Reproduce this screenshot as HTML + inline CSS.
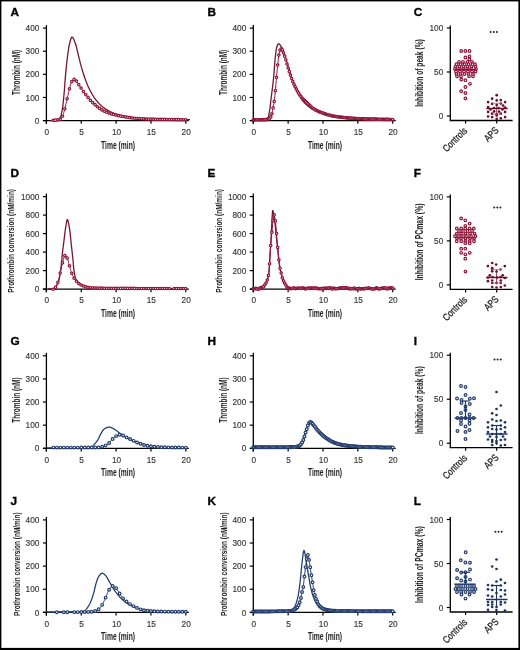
<!DOCTYPE html>
<html><head><meta charset="utf-8"><style>html,body{margin:0;padding:0;background:#fff;} svg{display:block;}</style></head>
<body><svg width="520" height="650" viewBox="0 0 520 650">
<defs><filter id="bl" x="0" y="0" width="520" height="650" filterUnits="userSpaceOnUse"><feGaussianBlur stdDeviation="0.3"/></filter></defs>
<rect width="520" height="650" fill="#fff"/>
<g filter="url(#bl)">
<text x="10.5" y="16.3" font-family="Liberation Sans" font-weight="bold" font-size="11.8" fill="#000" stroke="#000" stroke-width="0.35">A</text>
<text x="207.5" y="16.3" font-family="Liberation Sans" font-weight="bold" font-size="11.8" fill="#000" stroke="#000" stroke-width="0.35">B</text>
<text x="413.8" y="16.3" font-family="Liberation Sans" font-weight="bold" font-size="11.8" fill="#000" stroke="#000" stroke-width="0.35">C</text>
<text x="10.5" y="176.9" font-family="Liberation Sans" font-weight="bold" font-size="11.8" fill="#000" stroke="#000" stroke-width="0.35">D</text>
<text x="207.5" y="176.9" font-family="Liberation Sans" font-weight="bold" font-size="11.8" fill="#000" stroke="#000" stroke-width="0.35">E</text>
<text x="413.8" y="176.9" font-family="Liberation Sans" font-weight="bold" font-size="11.8" fill="#000" stroke="#000" stroke-width="0.35">F</text>
<text x="10.5" y="345" font-family="Liberation Sans" font-weight="bold" font-size="11.8" fill="#000" stroke="#000" stroke-width="0.35">G</text>
<text x="207.5" y="345" font-family="Liberation Sans" font-weight="bold" font-size="11.8" fill="#000" stroke="#000" stroke-width="0.35">H</text>
<text x="413.8" y="345" font-family="Liberation Sans" font-weight="bold" font-size="11.8" fill="#000" stroke="#000" stroke-width="0.35">I</text>
<text x="10.5" y="504.9" font-family="Liberation Sans" font-weight="bold" font-size="11.8" fill="#000" stroke="#000" stroke-width="0.35">J</text>
<text x="207.5" y="504.9" font-family="Liberation Sans" font-weight="bold" font-size="11.8" fill="#000" stroke="#000" stroke-width="0.35">K</text>
<text x="413.8" y="504.9" font-family="Liberation Sans" font-weight="bold" font-size="11.8" fill="#000" stroke="#000" stroke-width="0.35">L</text>
<line x1="46.4" y1="25.099999999999994" x2="46.4" y2="123.8" stroke="#000" stroke-width="1.3"/>
<line x1="42.9" y1="120.60" x2="46.4" y2="120.60" stroke="#000" stroke-width="1.2"/>
<text transform="translate(39.40,123.70) scale(0.92,1)" font-family="Liberation Sans" font-size="9" fill="#3a3a3a" stroke="#3a3a3a" stroke-width="0.18" text-anchor="end">0</text>
<line x1="42.9" y1="97.47" x2="46.4" y2="97.47" stroke="#000" stroke-width="1.2"/>
<text transform="translate(39.40,100.57) scale(0.92,1)" font-family="Liberation Sans" font-size="9" fill="#3a3a3a" stroke="#3a3a3a" stroke-width="0.18" text-anchor="end">100</text>
<line x1="42.9" y1="74.35" x2="46.4" y2="74.35" stroke="#000" stroke-width="1.2"/>
<text transform="translate(39.40,77.45) scale(0.92,1)" font-family="Liberation Sans" font-size="9" fill="#3a3a3a" stroke="#3a3a3a" stroke-width="0.18" text-anchor="end">200</text>
<line x1="42.9" y1="51.22" x2="46.4" y2="51.22" stroke="#000" stroke-width="1.2"/>
<text transform="translate(39.40,54.32) scale(0.92,1)" font-family="Liberation Sans" font-size="9" fill="#3a3a3a" stroke="#3a3a3a" stroke-width="0.18" text-anchor="end">300</text>
<line x1="42.9" y1="28.10" x2="46.4" y2="28.10" stroke="#000" stroke-width="1.2"/>
<text transform="translate(39.40,31.20) scale(0.92,1)" font-family="Liberation Sans" font-size="9" fill="#3a3a3a" stroke="#3a3a3a" stroke-width="0.18" text-anchor="end">400</text>
<line x1="42.9" y1="120.6" x2="188.8" y2="120.6" stroke="#000" stroke-width="1.3"/>
<line x1="46.40" y1="120.6" x2="46.40" y2="123.8" stroke="#000" stroke-width="1.2"/>
<text transform="translate(46.80,134.90) scale(0.92,1)" font-family="Liberation Sans" font-size="9" fill="#3a3a3a" stroke="#3a3a3a" stroke-width="0.18" text-anchor="middle">0</text>
<line x1="81.25" y1="120.6" x2="81.25" y2="123.8" stroke="#000" stroke-width="1.2"/>
<text transform="translate(81.65,134.90) scale(0.92,1)" font-family="Liberation Sans" font-size="9" fill="#3a3a3a" stroke="#3a3a3a" stroke-width="0.18" text-anchor="middle">5</text>
<line x1="116.10" y1="120.6" x2="116.10" y2="123.8" stroke="#000" stroke-width="1.2"/>
<text transform="translate(116.50,134.90) scale(0.92,1)" font-family="Liberation Sans" font-size="9" fill="#3a3a3a" stroke="#3a3a3a" stroke-width="0.18" text-anchor="middle">10</text>
<line x1="150.95" y1="120.6" x2="150.95" y2="123.8" stroke="#000" stroke-width="1.2"/>
<text transform="translate(151.35,134.90) scale(0.92,1)" font-family="Liberation Sans" font-size="9" fill="#3a3a3a" stroke="#3a3a3a" stroke-width="0.18" text-anchor="middle">15</text>
<line x1="185.80" y1="120.6" x2="185.80" y2="123.8" stroke="#000" stroke-width="1.2"/>
<text transform="translate(186.20,134.90) scale(0.92,1)" font-family="Liberation Sans" font-size="9" fill="#3a3a3a" stroke="#3a3a3a" stroke-width="0.18" text-anchor="middle">20</text>
<text transform="translate(118.10,148.60) scale(0.677,1)" font-family="Liberation Sans" font-size="10" font-weight="bold" fill="#222" text-anchor="middle">Time (min)</text>
<text transform="translate(20.30,72.35) rotate(-90) scale(0.647,1)" font-family="Liberation Sans" font-size="10" font-weight="bold" fill="#222" text-anchor="middle">Thrombin (nM)</text>
<line x1="253.3" y1="25.099999999999994" x2="253.3" y2="123.8" stroke="#000" stroke-width="1.3"/>
<line x1="249.8" y1="120.60" x2="253.3" y2="120.60" stroke="#000" stroke-width="1.2"/>
<text transform="translate(246.30,123.70) scale(0.92,1)" font-family="Liberation Sans" font-size="9" fill="#3a3a3a" stroke="#3a3a3a" stroke-width="0.18" text-anchor="end">0</text>
<line x1="249.8" y1="97.47" x2="253.3" y2="97.47" stroke="#000" stroke-width="1.2"/>
<text transform="translate(246.30,100.57) scale(0.92,1)" font-family="Liberation Sans" font-size="9" fill="#3a3a3a" stroke="#3a3a3a" stroke-width="0.18" text-anchor="end">100</text>
<line x1="249.8" y1="74.35" x2="253.3" y2="74.35" stroke="#000" stroke-width="1.2"/>
<text transform="translate(246.30,77.45) scale(0.92,1)" font-family="Liberation Sans" font-size="9" fill="#3a3a3a" stroke="#3a3a3a" stroke-width="0.18" text-anchor="end">200</text>
<line x1="249.8" y1="51.22" x2="253.3" y2="51.22" stroke="#000" stroke-width="1.2"/>
<text transform="translate(246.30,54.32) scale(0.92,1)" font-family="Liberation Sans" font-size="9" fill="#3a3a3a" stroke="#3a3a3a" stroke-width="0.18" text-anchor="end">300</text>
<line x1="249.8" y1="28.10" x2="253.3" y2="28.10" stroke="#000" stroke-width="1.2"/>
<text transform="translate(246.30,31.20) scale(0.92,1)" font-family="Liberation Sans" font-size="9" fill="#3a3a3a" stroke="#3a3a3a" stroke-width="0.18" text-anchor="end">400</text>
<line x1="249.8" y1="120.6" x2="395.70000000000005" y2="120.6" stroke="#000" stroke-width="1.3"/>
<line x1="253.30" y1="120.6" x2="253.30" y2="123.8" stroke="#000" stroke-width="1.2"/>
<text transform="translate(253.70,134.90) scale(0.92,1)" font-family="Liberation Sans" font-size="9" fill="#3a3a3a" stroke="#3a3a3a" stroke-width="0.18" text-anchor="middle">0</text>
<line x1="288.15" y1="120.6" x2="288.15" y2="123.8" stroke="#000" stroke-width="1.2"/>
<text transform="translate(288.55,134.90) scale(0.92,1)" font-family="Liberation Sans" font-size="9" fill="#3a3a3a" stroke="#3a3a3a" stroke-width="0.18" text-anchor="middle">5</text>
<line x1="323.00" y1="120.6" x2="323.00" y2="123.8" stroke="#000" stroke-width="1.2"/>
<text transform="translate(323.40,134.90) scale(0.92,1)" font-family="Liberation Sans" font-size="9" fill="#3a3a3a" stroke="#3a3a3a" stroke-width="0.18" text-anchor="middle">10</text>
<line x1="357.85" y1="120.6" x2="357.85" y2="123.8" stroke="#000" stroke-width="1.2"/>
<text transform="translate(358.25,134.90) scale(0.92,1)" font-family="Liberation Sans" font-size="9" fill="#3a3a3a" stroke="#3a3a3a" stroke-width="0.18" text-anchor="middle">15</text>
<line x1="392.70" y1="120.6" x2="392.70" y2="123.8" stroke="#000" stroke-width="1.2"/>
<text transform="translate(393.10,134.90) scale(0.92,1)" font-family="Liberation Sans" font-size="9" fill="#3a3a3a" stroke="#3a3a3a" stroke-width="0.18" text-anchor="middle">20</text>
<text transform="translate(325.00,148.60) scale(0.677,1)" font-family="Liberation Sans" font-size="10" font-weight="bold" fill="#222" text-anchor="middle">Time (min)</text>
<text transform="translate(227.30,72.35) rotate(-90) scale(0.647,1)" font-family="Liberation Sans" font-size="10" font-weight="bold" fill="#222" text-anchor="middle">Thrombin (nM)</text>
<line x1="46.4" y1="193.60000000000002" x2="46.4" y2="292.3" stroke="#000" stroke-width="1.3"/>
<line x1="42.9" y1="289.10" x2="46.4" y2="289.10" stroke="#000" stroke-width="1.2"/>
<text transform="translate(39.40,292.20) scale(0.92,1)" font-family="Liberation Sans" font-size="9" fill="#3a3a3a" stroke="#3a3a3a" stroke-width="0.18" text-anchor="end">0</text>
<line x1="42.9" y1="270.60" x2="46.4" y2="270.60" stroke="#000" stroke-width="1.2"/>
<text transform="translate(39.40,273.70) scale(0.92,1)" font-family="Liberation Sans" font-size="9" fill="#3a3a3a" stroke="#3a3a3a" stroke-width="0.18" text-anchor="end">200</text>
<line x1="42.9" y1="252.10" x2="46.4" y2="252.10" stroke="#000" stroke-width="1.2"/>
<text transform="translate(39.40,255.20) scale(0.92,1)" font-family="Liberation Sans" font-size="9" fill="#3a3a3a" stroke="#3a3a3a" stroke-width="0.18" text-anchor="end">400</text>
<line x1="42.9" y1="233.60" x2="46.4" y2="233.60" stroke="#000" stroke-width="1.2"/>
<text transform="translate(39.40,236.70) scale(0.92,1)" font-family="Liberation Sans" font-size="9" fill="#3a3a3a" stroke="#3a3a3a" stroke-width="0.18" text-anchor="end">600</text>
<line x1="42.9" y1="215.10" x2="46.4" y2="215.10" stroke="#000" stroke-width="1.2"/>
<text transform="translate(39.40,218.20) scale(0.92,1)" font-family="Liberation Sans" font-size="9" fill="#3a3a3a" stroke="#3a3a3a" stroke-width="0.18" text-anchor="end">800</text>
<line x1="42.9" y1="196.60" x2="46.4" y2="196.60" stroke="#000" stroke-width="1.2"/>
<text transform="translate(39.40,199.70) scale(0.92,1)" font-family="Liberation Sans" font-size="9" fill="#3a3a3a" stroke="#3a3a3a" stroke-width="0.18" text-anchor="end">1000</text>
<line x1="42.9" y1="289.1" x2="188.8" y2="289.1" stroke="#000" stroke-width="1.3"/>
<line x1="46.40" y1="289.1" x2="46.40" y2="292.3" stroke="#000" stroke-width="1.2"/>
<text transform="translate(46.80,303.40) scale(0.92,1)" font-family="Liberation Sans" font-size="9" fill="#3a3a3a" stroke="#3a3a3a" stroke-width="0.18" text-anchor="middle">0</text>
<line x1="81.25" y1="289.1" x2="81.25" y2="292.3" stroke="#000" stroke-width="1.2"/>
<text transform="translate(81.65,303.40) scale(0.92,1)" font-family="Liberation Sans" font-size="9" fill="#3a3a3a" stroke="#3a3a3a" stroke-width="0.18" text-anchor="middle">5</text>
<line x1="116.10" y1="289.1" x2="116.10" y2="292.3" stroke="#000" stroke-width="1.2"/>
<text transform="translate(116.50,303.40) scale(0.92,1)" font-family="Liberation Sans" font-size="9" fill="#3a3a3a" stroke="#3a3a3a" stroke-width="0.18" text-anchor="middle">10</text>
<line x1="150.95" y1="289.1" x2="150.95" y2="292.3" stroke="#000" stroke-width="1.2"/>
<text transform="translate(151.35,303.40) scale(0.92,1)" font-family="Liberation Sans" font-size="9" fill="#3a3a3a" stroke="#3a3a3a" stroke-width="0.18" text-anchor="middle">15</text>
<line x1="185.80" y1="289.1" x2="185.80" y2="292.3" stroke="#000" stroke-width="1.2"/>
<text transform="translate(186.20,303.40) scale(0.92,1)" font-family="Liberation Sans" font-size="9" fill="#3a3a3a" stroke="#3a3a3a" stroke-width="0.18" text-anchor="middle">20</text>
<text transform="translate(118.10,317.10) scale(0.677,1)" font-family="Liberation Sans" font-size="10" font-weight="bold" fill="#222" text-anchor="middle">Time (min)</text>
<text transform="translate(14.40,240.85) rotate(-90) scale(0.718,1)" font-family="Liberation Sans" font-size="9" font-weight="bold" fill="#222" text-anchor="middle">Prothrombin conversion (nM/min)</text>
<line x1="253.3" y1="193.60000000000002" x2="253.3" y2="292.3" stroke="#000" stroke-width="1.3"/>
<line x1="249.8" y1="289.10" x2="253.3" y2="289.10" stroke="#000" stroke-width="1.2"/>
<text transform="translate(246.30,292.20) scale(0.92,1)" font-family="Liberation Sans" font-size="9" fill="#3a3a3a" stroke="#3a3a3a" stroke-width="0.18" text-anchor="end">0</text>
<line x1="249.8" y1="270.60" x2="253.3" y2="270.60" stroke="#000" stroke-width="1.2"/>
<text transform="translate(246.30,273.70) scale(0.92,1)" font-family="Liberation Sans" font-size="9" fill="#3a3a3a" stroke="#3a3a3a" stroke-width="0.18" text-anchor="end">200</text>
<line x1="249.8" y1="252.10" x2="253.3" y2="252.10" stroke="#000" stroke-width="1.2"/>
<text transform="translate(246.30,255.20) scale(0.92,1)" font-family="Liberation Sans" font-size="9" fill="#3a3a3a" stroke="#3a3a3a" stroke-width="0.18" text-anchor="end">400</text>
<line x1="249.8" y1="233.60" x2="253.3" y2="233.60" stroke="#000" stroke-width="1.2"/>
<text transform="translate(246.30,236.70) scale(0.92,1)" font-family="Liberation Sans" font-size="9" fill="#3a3a3a" stroke="#3a3a3a" stroke-width="0.18" text-anchor="end">600</text>
<line x1="249.8" y1="215.10" x2="253.3" y2="215.10" stroke="#000" stroke-width="1.2"/>
<text transform="translate(246.30,218.20) scale(0.92,1)" font-family="Liberation Sans" font-size="9" fill="#3a3a3a" stroke="#3a3a3a" stroke-width="0.18" text-anchor="end">800</text>
<line x1="249.8" y1="196.60" x2="253.3" y2="196.60" stroke="#000" stroke-width="1.2"/>
<text transform="translate(246.30,199.70) scale(0.92,1)" font-family="Liberation Sans" font-size="9" fill="#3a3a3a" stroke="#3a3a3a" stroke-width="0.18" text-anchor="end">1000</text>
<line x1="249.8" y1="289.1" x2="395.70000000000005" y2="289.1" stroke="#000" stroke-width="1.3"/>
<line x1="253.30" y1="289.1" x2="253.30" y2="292.3" stroke="#000" stroke-width="1.2"/>
<text transform="translate(253.70,303.40) scale(0.92,1)" font-family="Liberation Sans" font-size="9" fill="#3a3a3a" stroke="#3a3a3a" stroke-width="0.18" text-anchor="middle">0</text>
<line x1="288.15" y1="289.1" x2="288.15" y2="292.3" stroke="#000" stroke-width="1.2"/>
<text transform="translate(288.55,303.40) scale(0.92,1)" font-family="Liberation Sans" font-size="9" fill="#3a3a3a" stroke="#3a3a3a" stroke-width="0.18" text-anchor="middle">5</text>
<line x1="323.00" y1="289.1" x2="323.00" y2="292.3" stroke="#000" stroke-width="1.2"/>
<text transform="translate(323.40,303.40) scale(0.92,1)" font-family="Liberation Sans" font-size="9" fill="#3a3a3a" stroke="#3a3a3a" stroke-width="0.18" text-anchor="middle">10</text>
<line x1="357.85" y1="289.1" x2="357.85" y2="292.3" stroke="#000" stroke-width="1.2"/>
<text transform="translate(358.25,303.40) scale(0.92,1)" font-family="Liberation Sans" font-size="9" fill="#3a3a3a" stroke="#3a3a3a" stroke-width="0.18" text-anchor="middle">15</text>
<line x1="392.70" y1="289.1" x2="392.70" y2="292.3" stroke="#000" stroke-width="1.2"/>
<text transform="translate(393.10,303.40) scale(0.92,1)" font-family="Liberation Sans" font-size="9" fill="#3a3a3a" stroke="#3a3a3a" stroke-width="0.18" text-anchor="middle">20</text>
<text transform="translate(325.00,317.10) scale(0.677,1)" font-family="Liberation Sans" font-size="10" font-weight="bold" fill="#222" text-anchor="middle">Time (min)</text>
<text transform="translate(221.60,240.85) rotate(-90) scale(0.718,1)" font-family="Liberation Sans" font-size="9" font-weight="bold" fill="#222" text-anchor="middle">Prothrombin conversion (nM/min)</text>
<line x1="46.4" y1="352.8" x2="46.4" y2="451.5" stroke="#000" stroke-width="1.3"/>
<line x1="42.9" y1="448.30" x2="46.4" y2="448.30" stroke="#000" stroke-width="1.2"/>
<text transform="translate(39.40,451.40) scale(0.92,1)" font-family="Liberation Sans" font-size="9" fill="#3a3a3a" stroke="#3a3a3a" stroke-width="0.18" text-anchor="end">0</text>
<line x1="42.9" y1="425.18" x2="46.4" y2="425.18" stroke="#000" stroke-width="1.2"/>
<text transform="translate(39.40,428.28) scale(0.92,1)" font-family="Liberation Sans" font-size="9" fill="#3a3a3a" stroke="#3a3a3a" stroke-width="0.18" text-anchor="end">100</text>
<line x1="42.9" y1="402.05" x2="46.4" y2="402.05" stroke="#000" stroke-width="1.2"/>
<text transform="translate(39.40,405.15) scale(0.92,1)" font-family="Liberation Sans" font-size="9" fill="#3a3a3a" stroke="#3a3a3a" stroke-width="0.18" text-anchor="end">200</text>
<line x1="42.9" y1="378.93" x2="46.4" y2="378.93" stroke="#000" stroke-width="1.2"/>
<text transform="translate(39.40,382.03) scale(0.92,1)" font-family="Liberation Sans" font-size="9" fill="#3a3a3a" stroke="#3a3a3a" stroke-width="0.18" text-anchor="end">300</text>
<line x1="42.9" y1="355.80" x2="46.4" y2="355.80" stroke="#000" stroke-width="1.2"/>
<text transform="translate(39.40,358.90) scale(0.92,1)" font-family="Liberation Sans" font-size="9" fill="#3a3a3a" stroke="#3a3a3a" stroke-width="0.18" text-anchor="end">400</text>
<line x1="42.9" y1="448.3" x2="188.8" y2="448.3" stroke="#000" stroke-width="1.3"/>
<line x1="46.40" y1="448.3" x2="46.40" y2="451.5" stroke="#000" stroke-width="1.2"/>
<text transform="translate(46.80,462.60) scale(0.92,1)" font-family="Liberation Sans" font-size="9" fill="#3a3a3a" stroke="#3a3a3a" stroke-width="0.18" text-anchor="middle">0</text>
<line x1="81.25" y1="448.3" x2="81.25" y2="451.5" stroke="#000" stroke-width="1.2"/>
<text transform="translate(81.65,462.60) scale(0.92,1)" font-family="Liberation Sans" font-size="9" fill="#3a3a3a" stroke="#3a3a3a" stroke-width="0.18" text-anchor="middle">5</text>
<line x1="116.10" y1="448.3" x2="116.10" y2="451.5" stroke="#000" stroke-width="1.2"/>
<text transform="translate(116.50,462.60) scale(0.92,1)" font-family="Liberation Sans" font-size="9" fill="#3a3a3a" stroke="#3a3a3a" stroke-width="0.18" text-anchor="middle">10</text>
<line x1="150.95" y1="448.3" x2="150.95" y2="451.5" stroke="#000" stroke-width="1.2"/>
<text transform="translate(151.35,462.60) scale(0.92,1)" font-family="Liberation Sans" font-size="9" fill="#3a3a3a" stroke="#3a3a3a" stroke-width="0.18" text-anchor="middle">15</text>
<line x1="185.80" y1="448.3" x2="185.80" y2="451.5" stroke="#000" stroke-width="1.2"/>
<text transform="translate(186.20,462.60) scale(0.92,1)" font-family="Liberation Sans" font-size="9" fill="#3a3a3a" stroke="#3a3a3a" stroke-width="0.18" text-anchor="middle">20</text>
<text transform="translate(118.10,476.30) scale(0.677,1)" font-family="Liberation Sans" font-size="10" font-weight="bold" fill="#222" text-anchor="middle">Time (min)</text>
<text transform="translate(20.30,400.05) rotate(-90) scale(0.647,1)" font-family="Liberation Sans" font-size="10" font-weight="bold" fill="#222" text-anchor="middle">Thrombin (nM)</text>
<line x1="253.3" y1="352.8" x2="253.3" y2="451.5" stroke="#000" stroke-width="1.3"/>
<line x1="249.8" y1="448.30" x2="253.3" y2="448.30" stroke="#000" stroke-width="1.2"/>
<text transform="translate(246.30,451.40) scale(0.92,1)" font-family="Liberation Sans" font-size="9" fill="#3a3a3a" stroke="#3a3a3a" stroke-width="0.18" text-anchor="end">0</text>
<line x1="249.8" y1="425.18" x2="253.3" y2="425.18" stroke="#000" stroke-width="1.2"/>
<text transform="translate(246.30,428.28) scale(0.92,1)" font-family="Liberation Sans" font-size="9" fill="#3a3a3a" stroke="#3a3a3a" stroke-width="0.18" text-anchor="end">100</text>
<line x1="249.8" y1="402.05" x2="253.3" y2="402.05" stroke="#000" stroke-width="1.2"/>
<text transform="translate(246.30,405.15) scale(0.92,1)" font-family="Liberation Sans" font-size="9" fill="#3a3a3a" stroke="#3a3a3a" stroke-width="0.18" text-anchor="end">200</text>
<line x1="249.8" y1="378.93" x2="253.3" y2="378.93" stroke="#000" stroke-width="1.2"/>
<text transform="translate(246.30,382.03) scale(0.92,1)" font-family="Liberation Sans" font-size="9" fill="#3a3a3a" stroke="#3a3a3a" stroke-width="0.18" text-anchor="end">300</text>
<line x1="249.8" y1="355.80" x2="253.3" y2="355.80" stroke="#000" stroke-width="1.2"/>
<text transform="translate(246.30,358.90) scale(0.92,1)" font-family="Liberation Sans" font-size="9" fill="#3a3a3a" stroke="#3a3a3a" stroke-width="0.18" text-anchor="end">400</text>
<line x1="249.8" y1="448.3" x2="395.70000000000005" y2="448.3" stroke="#000" stroke-width="1.3"/>
<line x1="253.30" y1="448.3" x2="253.30" y2="451.5" stroke="#000" stroke-width="1.2"/>
<text transform="translate(253.70,462.60) scale(0.92,1)" font-family="Liberation Sans" font-size="9" fill="#3a3a3a" stroke="#3a3a3a" stroke-width="0.18" text-anchor="middle">0</text>
<line x1="288.15" y1="448.3" x2="288.15" y2="451.5" stroke="#000" stroke-width="1.2"/>
<text transform="translate(288.55,462.60) scale(0.92,1)" font-family="Liberation Sans" font-size="9" fill="#3a3a3a" stroke="#3a3a3a" stroke-width="0.18" text-anchor="middle">5</text>
<line x1="323.00" y1="448.3" x2="323.00" y2="451.5" stroke="#000" stroke-width="1.2"/>
<text transform="translate(323.40,462.60) scale(0.92,1)" font-family="Liberation Sans" font-size="9" fill="#3a3a3a" stroke="#3a3a3a" stroke-width="0.18" text-anchor="middle">10</text>
<line x1="357.85" y1="448.3" x2="357.85" y2="451.5" stroke="#000" stroke-width="1.2"/>
<text transform="translate(358.25,462.60) scale(0.92,1)" font-family="Liberation Sans" font-size="9" fill="#3a3a3a" stroke="#3a3a3a" stroke-width="0.18" text-anchor="middle">15</text>
<line x1="392.70" y1="448.3" x2="392.70" y2="451.5" stroke="#000" stroke-width="1.2"/>
<text transform="translate(393.10,462.60) scale(0.92,1)" font-family="Liberation Sans" font-size="9" fill="#3a3a3a" stroke="#3a3a3a" stroke-width="0.18" text-anchor="middle">20</text>
<text transform="translate(325.00,476.30) scale(0.677,1)" font-family="Liberation Sans" font-size="10" font-weight="bold" fill="#222" text-anchor="middle">Time (min)</text>
<text transform="translate(227.30,400.05) rotate(-90) scale(0.647,1)" font-family="Liberation Sans" font-size="10" font-weight="bold" fill="#222" text-anchor="middle">Thrombin (nM)</text>
<line x1="46.4" y1="516.9" x2="46.4" y2="615.6" stroke="#000" stroke-width="1.3"/>
<line x1="42.9" y1="612.40" x2="46.4" y2="612.40" stroke="#000" stroke-width="1.2"/>
<text transform="translate(39.40,615.50) scale(0.92,1)" font-family="Liberation Sans" font-size="9" fill="#3a3a3a" stroke="#3a3a3a" stroke-width="0.18" text-anchor="end">0</text>
<line x1="42.9" y1="589.27" x2="46.4" y2="589.27" stroke="#000" stroke-width="1.2"/>
<text transform="translate(39.40,592.38) scale(0.92,1)" font-family="Liberation Sans" font-size="9" fill="#3a3a3a" stroke="#3a3a3a" stroke-width="0.18" text-anchor="end">100</text>
<line x1="42.9" y1="566.15" x2="46.4" y2="566.15" stroke="#000" stroke-width="1.2"/>
<text transform="translate(39.40,569.25) scale(0.92,1)" font-family="Liberation Sans" font-size="9" fill="#3a3a3a" stroke="#3a3a3a" stroke-width="0.18" text-anchor="end">200</text>
<line x1="42.9" y1="543.02" x2="46.4" y2="543.02" stroke="#000" stroke-width="1.2"/>
<text transform="translate(39.40,546.12) scale(0.92,1)" font-family="Liberation Sans" font-size="9" fill="#3a3a3a" stroke="#3a3a3a" stroke-width="0.18" text-anchor="end">300</text>
<line x1="42.9" y1="519.90" x2="46.4" y2="519.90" stroke="#000" stroke-width="1.2"/>
<text transform="translate(39.40,523.00) scale(0.92,1)" font-family="Liberation Sans" font-size="9" fill="#3a3a3a" stroke="#3a3a3a" stroke-width="0.18" text-anchor="end">400</text>
<line x1="42.9" y1="612.4" x2="188.8" y2="612.4" stroke="#000" stroke-width="1.3"/>
<line x1="46.40" y1="612.4" x2="46.40" y2="615.6" stroke="#000" stroke-width="1.2"/>
<text transform="translate(46.80,626.70) scale(0.92,1)" font-family="Liberation Sans" font-size="9" fill="#3a3a3a" stroke="#3a3a3a" stroke-width="0.18" text-anchor="middle">0</text>
<line x1="81.25" y1="612.4" x2="81.25" y2="615.6" stroke="#000" stroke-width="1.2"/>
<text transform="translate(81.65,626.70) scale(0.92,1)" font-family="Liberation Sans" font-size="9" fill="#3a3a3a" stroke="#3a3a3a" stroke-width="0.18" text-anchor="middle">5</text>
<line x1="116.10" y1="612.4" x2="116.10" y2="615.6" stroke="#000" stroke-width="1.2"/>
<text transform="translate(116.50,626.70) scale(0.92,1)" font-family="Liberation Sans" font-size="9" fill="#3a3a3a" stroke="#3a3a3a" stroke-width="0.18" text-anchor="middle">10</text>
<line x1="150.95" y1="612.4" x2="150.95" y2="615.6" stroke="#000" stroke-width="1.2"/>
<text transform="translate(151.35,626.70) scale(0.92,1)" font-family="Liberation Sans" font-size="9" fill="#3a3a3a" stroke="#3a3a3a" stroke-width="0.18" text-anchor="middle">15</text>
<line x1="185.80" y1="612.4" x2="185.80" y2="615.6" stroke="#000" stroke-width="1.2"/>
<text transform="translate(186.20,626.70) scale(0.92,1)" font-family="Liberation Sans" font-size="9" fill="#3a3a3a" stroke="#3a3a3a" stroke-width="0.18" text-anchor="middle">20</text>
<text transform="translate(118.10,640.40) scale(0.677,1)" font-family="Liberation Sans" font-size="10" font-weight="bold" fill="#222" text-anchor="middle">Time (min)</text>
<text transform="translate(20.00,564.15) rotate(-90) scale(0.718,1)" font-family="Liberation Sans" font-size="9" font-weight="bold" fill="#222" text-anchor="middle">Prothrombin conversion (nM/min)</text>
<line x1="253.3" y1="516.9" x2="253.3" y2="615.6" stroke="#000" stroke-width="1.3"/>
<line x1="249.8" y1="612.40" x2="253.3" y2="612.40" stroke="#000" stroke-width="1.2"/>
<text transform="translate(246.30,615.50) scale(0.92,1)" font-family="Liberation Sans" font-size="9" fill="#3a3a3a" stroke="#3a3a3a" stroke-width="0.18" text-anchor="end">0</text>
<line x1="249.8" y1="589.27" x2="253.3" y2="589.27" stroke="#000" stroke-width="1.2"/>
<text transform="translate(246.30,592.38) scale(0.92,1)" font-family="Liberation Sans" font-size="9" fill="#3a3a3a" stroke="#3a3a3a" stroke-width="0.18" text-anchor="end">100</text>
<line x1="249.8" y1="566.15" x2="253.3" y2="566.15" stroke="#000" stroke-width="1.2"/>
<text transform="translate(246.30,569.25) scale(0.92,1)" font-family="Liberation Sans" font-size="9" fill="#3a3a3a" stroke="#3a3a3a" stroke-width="0.18" text-anchor="end">200</text>
<line x1="249.8" y1="543.02" x2="253.3" y2="543.02" stroke="#000" stroke-width="1.2"/>
<text transform="translate(246.30,546.12) scale(0.92,1)" font-family="Liberation Sans" font-size="9" fill="#3a3a3a" stroke="#3a3a3a" stroke-width="0.18" text-anchor="end">300</text>
<line x1="249.8" y1="519.90" x2="253.3" y2="519.90" stroke="#000" stroke-width="1.2"/>
<text transform="translate(246.30,523.00) scale(0.92,1)" font-family="Liberation Sans" font-size="9" fill="#3a3a3a" stroke="#3a3a3a" stroke-width="0.18" text-anchor="end">400</text>
<line x1="249.8" y1="612.4" x2="395.70000000000005" y2="612.4" stroke="#000" stroke-width="1.3"/>
<line x1="253.30" y1="612.4" x2="253.30" y2="615.6" stroke="#000" stroke-width="1.2"/>
<text transform="translate(253.70,626.70) scale(0.92,1)" font-family="Liberation Sans" font-size="9" fill="#3a3a3a" stroke="#3a3a3a" stroke-width="0.18" text-anchor="middle">0</text>
<line x1="288.15" y1="612.4" x2="288.15" y2="615.6" stroke="#000" stroke-width="1.2"/>
<text transform="translate(288.55,626.70) scale(0.92,1)" font-family="Liberation Sans" font-size="9" fill="#3a3a3a" stroke="#3a3a3a" stroke-width="0.18" text-anchor="middle">5</text>
<line x1="323.00" y1="612.4" x2="323.00" y2="615.6" stroke="#000" stroke-width="1.2"/>
<text transform="translate(323.40,626.70) scale(0.92,1)" font-family="Liberation Sans" font-size="9" fill="#3a3a3a" stroke="#3a3a3a" stroke-width="0.18" text-anchor="middle">10</text>
<line x1="357.85" y1="612.4" x2="357.85" y2="615.6" stroke="#000" stroke-width="1.2"/>
<text transform="translate(358.25,626.70) scale(0.92,1)" font-family="Liberation Sans" font-size="9" fill="#3a3a3a" stroke="#3a3a3a" stroke-width="0.18" text-anchor="middle">15</text>
<line x1="392.70" y1="612.4" x2="392.70" y2="615.6" stroke="#000" stroke-width="1.2"/>
<text transform="translate(393.10,626.70) scale(0.92,1)" font-family="Liberation Sans" font-size="9" fill="#3a3a3a" stroke="#3a3a3a" stroke-width="0.18" text-anchor="middle">20</text>
<text transform="translate(325.00,640.40) scale(0.677,1)" font-family="Liberation Sans" font-size="10" font-weight="bold" fill="#222" text-anchor="middle">Time (min)</text>
<text transform="translate(227.00,564.15) rotate(-90) scale(0.718,1)" font-family="Liberation Sans" font-size="9" font-weight="bold" fill="#222" text-anchor="middle">Prothrombin conversion (nM/min)</text>
<path d="M50.00,120.60 L50.33,120.60 L50.67,120.60 L51.00,120.59 L51.33,120.58 L51.66,120.57 L52.00,120.56 L52.33,120.55 L52.66,120.54 L52.99,120.52 L53.33,120.50 L53.66,120.48 L53.99,120.47 L54.32,120.44 L54.66,120.42 L54.99,120.40 L55.32,120.37 L55.65,120.34 L55.99,120.30 L56.32,120.25 L56.65,120.19 L56.98,120.13 L57.32,120.05 L57.65,119.95 L57.98,119.81 L58.31,119.62 L58.65,119.37 L58.98,119.06 L59.31,118.71 L59.64,118.31 L59.98,117.85 L60.31,117.35 L60.64,116.71 L60.97,115.74 L61.31,114.48 L61.64,112.98 L61.97,111.29 L62.30,109.48 L62.64,107.34 L62.97,104.74 L63.30,101.73 L63.63,98.42 L63.97,94.89 L64.30,91.21 L64.63,86.88 L64.96,82.08 L65.30,77.87 L65.63,74.15 L65.96,70.68 L66.29,67.40 L66.63,64.27 L66.96,61.24 L67.29,58.31 L67.62,55.54 L67.96,53.00 L68.29,50.72 L68.62,48.53 L68.95,46.51 L69.29,44.74 L69.62,43.33 L69.95,42.08 L70.29,40.86 L70.62,39.71 L70.95,38.70 L71.28,37.89 L71.62,37.34 L71.95,37.10 L72.28,37.17 L72.61,37.42 L72.95,37.83 L73.28,38.38 L73.61,39.04 L73.94,39.80 L74.28,40.62 L74.61,41.50 L74.94,42.39 L75.27,43.30 L75.61,44.19 L75.94,45.22 L76.27,46.40 L76.60,47.70 L76.94,49.09 L77.27,50.53 L77.60,51.98 L77.93,53.40 L78.27,54.77 L78.60,56.09 L78.93,57.44 L79.26,58.79 L79.60,60.15 L79.93,61.50 L80.26,62.83 L80.59,64.12 L80.93,65.37 L81.26,66.57 L81.59,67.74 L81.92,68.88 L82.26,70.00 L82.59,71.10 L82.92,72.17 L83.25,73.22 L83.59,74.25 L83.92,75.26 L84.25,76.25 L84.58,77.23 L84.92,78.19 L85.25,79.14 L85.58,80.07 L85.91,80.98 L86.25,81.86 L86.58,82.73 L86.91,83.56 L87.24,84.37 L87.58,85.15 L87.91,85.91 L88.24,86.65 L88.57,87.38 L88.91,88.08 L89.24,88.77 L89.57,89.45 L89.90,90.10 L90.24,90.75 L90.57,91.37 L90.90,91.99 L91.24,92.59 L91.57,93.19 L91.90,93.77 L92.23,94.35 L92.57,94.91 L92.90,95.46 L93.23,96.00 L93.56,96.53 L93.90,97.04 L94.23,97.54 L94.56,98.02 L94.89,98.49 L95.23,98.95 L95.56,99.39 L95.89,99.83 L96.22,100.26 L96.56,100.69 L96.89,101.10 L97.22,101.51 L97.55,101.90 L97.89,102.29 L98.22,102.66 L98.55,103.03 L98.88,103.38 L99.22,103.72 L99.55,104.06 L99.88,104.38 L100.21,104.69 L100.55,105.00 L100.88,105.30 L101.21,105.60 L101.54,105.89 L101.88,106.17 L102.21,106.45 L102.54,106.72 L102.87,106.99 L103.21,107.25 L103.54,107.50 L103.87,107.75 L104.20,107.99 L104.54,108.23 L104.87,108.46 L105.20,108.69 L105.53,108.90 L105.87,109.12 L106.20,109.32 L106.53,109.53 L106.86,109.73 L107.20,109.93 L107.53,110.13 L107.86,110.32 L108.19,110.51 L108.53,110.70 L108.86,110.89 L109.19,111.07 L109.52,111.25 L109.86,111.42 L110.19,111.60 L110.52,111.77 L110.86,111.93 L111.19,112.09 L111.52,112.25 L111.85,112.40 L112.19,112.55 L112.52,112.70 L112.85,112.84 L113.18,112.97 L113.52,113.11 L113.85,113.23 L114.18,113.36 L114.51,113.48 L114.85,113.59 L115.18,113.71 L115.51,113.82 L115.84,113.93 L116.18,114.04 L116.51,114.15 L116.84,114.26 L117.17,114.36 L117.51,114.46 L117.84,114.57 L118.17,114.67 L118.50,114.76 L118.84,114.86 L119.17,114.95 L119.50,115.05 L119.83,115.14 L120.17,115.23 L120.50,115.31 L120.83,115.40 L121.16,115.48 L121.50,115.56 L121.83,115.64 L122.16,115.72 L122.49,115.80 L122.83,115.88 L123.16,115.95 L123.49,116.02 L123.82,116.09 L124.16,116.16 L124.49,116.23 L124.82,116.29 L125.15,116.35 L125.49,116.42 L125.82,116.48 L126.15,116.54 L126.48,116.60 L126.82,116.65 L127.15,116.71 L127.48,116.77 L127.81,116.83 L128.15,116.88 L128.48,116.94 L128.81,116.99 L129.14,117.04 L129.48,117.10 L129.81,117.15 L130.14,117.20 L130.48,117.25 L130.81,117.29 L131.14,117.34 L131.47,117.39 L131.81,117.43 L132.14,117.47 L132.47,117.52 L132.80,117.56 L133.14,117.60 L133.47,117.64 L133.80,117.68 L134.13,117.71 L134.47,117.75 L134.80,117.78 L135.13,117.81 L135.46,117.84 L135.80,117.87 L136.13,117.90 L136.46,117.93 L136.79,117.96 L137.13,117.98 L137.46,118.01 L137.79,118.03 L138.12,118.06 L138.46,118.08 L138.79,118.11 L139.12,118.13 L139.45,118.15 L139.79,118.17 L140.12,118.19 L140.45,118.22 L140.78,118.24 L141.12,118.26 L141.45,118.28 L141.78,118.30 L142.11,118.32 L142.45,118.33 L142.78,118.35 L143.11,118.37 L143.44,118.39 L143.78,118.41 L144.11,118.42 L144.44,118.44 L144.77,118.46 L145.11,118.47 L145.44,118.49 L145.77,118.51 L146.10,118.52 L146.44,118.54 L146.77,118.55 L147.10,118.57 L147.43,118.59 L147.77,118.60 L148.10,118.62 L148.43,118.63 L148.76,118.65 L149.10,118.66 L149.43,118.67 L149.76,118.69 L150.10,118.70 L150.43,118.72 L150.76,118.73 L151.09,118.75 L151.43,118.76 L151.76,118.78 L152.09,118.79 L152.42,118.81 L152.76,118.82 L153.09,118.83 L153.42,118.85 L153.75,118.86 L154.09,118.88 L154.42,118.89 L154.75,118.90 L155.08,118.92 L155.42,118.93 L155.75,118.94 L156.08,118.96 L156.41,118.97 L156.75,118.98 L157.08,119.00 L157.41,119.01 L157.74,119.02 L158.08,119.04 L158.41,119.05 L158.74,119.06 L159.07,119.07 L159.41,119.09 L159.74,119.10 L160.07,119.11 L160.40,119.12 L160.74,119.13 L161.07,119.15 L161.40,119.16 L161.73,119.17 L162.07,119.18 L162.40,119.19 L162.73,119.20 L163.06,119.21 L163.40,119.22 L163.73,119.23 L164.06,119.24 L164.39,119.25 L164.73,119.26 L165.06,119.27 L165.39,119.28 L165.72,119.29 L166.06,119.30 L166.39,119.31 L166.72,119.32 L167.05,119.33 L167.39,119.34 L167.72,119.35 L168.05,119.36 L168.38,119.36 L168.72,119.37 L169.05,119.38 L169.38,119.39 L169.71,119.39 L170.05,119.40 L170.38,119.41 L170.71,119.41 L171.05,119.42 L171.38,119.43 L171.71,119.44 L172.04,119.44 L172.38,119.45 L172.71,119.46 L173.04,119.46 L173.37,119.47 L173.71,119.48 L174.04,119.48 L174.37,119.49 L174.70,119.50 L175.04,119.50 L175.37,119.51 L175.70,119.51 L176.03,119.52 L176.37,119.53 L176.70,119.53 L177.03,119.54 L177.36,119.55 L177.70,119.55 L178.03,119.56 L178.36,119.56 L178.69,119.57 L179.03,119.57 L179.36,119.58 L179.69,119.59 L180.02,119.59 L180.36,119.60 L180.69,119.60 L181.02,119.61 L181.35,119.61 L181.69,119.62 L182.02,119.62 L182.35,119.63 L182.68,119.63 L183.02,119.63 L183.35,119.64 L183.68,119.64 L184.01,119.65 L184.35,119.65 L184.68,119.66 L185.01,119.66 L185.34,119.66 L185.68,119.67 L186.01,119.67 L186.34,119.67 L186.67,119.68 L187.01,119.68 L187.34,119.68 L187.67,119.68 L188.00,119.69 L188.34,119.69 L188.67,119.69 L189.00,119.69 L189.33,119.70 L189.67,119.70 L190.00,119.70" fill="none" stroke="#721532" stroke-width="1.3" stroke-linejoin="round"/>
<path d="M53.20,120.30 L53.53,120.30 L53.87,120.29 L54.20,120.27 L54.53,120.25 L54.87,120.22 L55.20,120.19 L55.53,120.16 L55.86,120.12 L56.20,120.07 L56.53,120.03 L56.86,119.98 L57.20,119.93 L57.53,119.88 L57.86,119.82 L58.20,119.77 L58.53,119.71 L58.86,119.63 L59.19,119.55 L59.53,119.45 L59.86,119.33 L60.19,119.20 L60.53,119.03 L60.86,118.76 L61.19,118.38 L61.53,117.91 L61.86,117.37 L62.19,116.78 L62.52,116.15 L62.86,115.41 L63.19,114.51 L63.52,113.48 L63.86,112.35 L64.19,111.15 L64.52,109.91 L64.86,108.67 L65.19,107.39 L65.52,106.00 L65.85,104.54 L66.19,103.03 L66.52,101.50 L66.85,99.98 L67.19,98.49 L67.52,97.05 L67.85,95.58 L68.19,94.10 L68.52,92.63 L68.85,91.21 L69.18,89.86 L69.52,88.60 L69.85,87.40 L70.18,86.19 L70.52,85.01 L70.85,83.90 L71.18,82.92 L71.52,82.11 L71.85,81.53 L72.18,81.05 L72.51,80.60 L72.85,80.19 L73.18,79.85 L73.51,79.59 L73.85,79.44 L74.18,79.40 L74.51,79.48 L74.84,79.64 L75.18,79.88 L75.51,80.17 L75.84,80.50 L76.18,80.85 L76.51,81.20 L76.84,81.59 L77.18,82.09 L77.51,82.65 L77.84,83.24 L78.17,83.80 L78.51,84.31 L78.84,84.81 L79.17,85.29 L79.51,85.77 L79.84,86.25 L80.17,86.72 L80.51,87.20 L80.84,87.68 L81.17,88.16 L81.50,88.66 L81.84,89.17 L82.17,89.69 L82.50,90.21 L82.84,90.73 L83.17,91.25 L83.50,91.74 L83.84,92.21 L84.17,92.66 L84.50,93.08 L84.84,93.48 L85.17,93.88 L85.50,94.28 L85.83,94.67 L86.17,95.08 L86.50,95.50 L86.83,95.91 L87.17,96.33 L87.50,96.75 L87.83,97.17 L88.16,97.58 L88.50,98.00 L88.83,98.41 L89.16,98.83 L89.50,99.25 L89.83,99.67 L90.16,100.08 L90.50,100.46 L90.83,100.83 L91.16,101.18 L91.50,101.51 L91.83,101.83 L92.16,102.15 L92.49,102.45 L92.83,102.75 L93.16,103.05 L93.49,103.35 L93.83,103.63 L94.16,103.92 L94.49,104.19 L94.82,104.47 L95.16,104.75 L95.49,105.03 L95.82,105.32 L96.16,105.62 L96.49,105.93 L96.82,106.24 L97.16,106.54 L97.49,106.83 L97.82,107.10 L98.16,107.35 L98.49,107.60 L98.82,107.84 L99.15,108.08 L99.49,108.31 L99.82,108.54 L100.15,108.76 L100.49,108.97 L100.82,109.18 L101.15,109.39 L101.48,109.59 L101.82,109.79 L102.15,109.99 L102.48,110.19 L102.82,110.38 L103.15,110.57 L103.48,110.76 L103.82,110.95 L104.15,111.13 L104.48,111.30 L104.81,111.47 L105.15,111.63 L105.48,111.78 L105.81,111.92 L106.15,112.06 L106.48,112.19 L106.81,112.32 L107.15,112.45 L107.48,112.57 L107.81,112.69 L108.14,112.81 L108.48,112.93 L108.81,113.04 L109.14,113.15 L109.48,113.26 L109.81,113.37 L110.14,113.48 L110.48,113.58 L110.81,113.68 L111.14,113.78 L111.47,113.88 L111.81,113.98 L112.14,114.07 L112.47,114.16 L112.81,114.26 L113.14,114.35 L113.47,114.44 L113.81,114.52 L114.14,114.61 L114.47,114.69 L114.80,114.78 L115.14,114.86 L115.47,114.94 L115.80,115.03 L116.14,115.11 L116.47,115.18 L116.80,115.26 L117.14,115.34 L117.47,115.42 L117.80,115.49 L118.13,115.56 L118.47,115.64 L118.80,115.71 L119.13,115.78 L119.47,115.85 L119.80,115.92 L120.13,115.98 L120.47,116.05 L120.80,116.11 L121.13,116.18 L121.46,116.24 L121.80,116.31 L122.13,116.37 L122.46,116.43 L122.80,116.49 L123.13,116.55 L123.46,116.61 L123.80,116.66 L124.13,116.72 L124.46,116.78 L124.80,116.83 L125.13,116.89 L125.46,116.94 L125.79,117.00 L126.13,117.05 L126.46,117.11 L126.79,117.17 L127.13,117.22 L127.46,117.28 L127.79,117.33 L128.12,117.38 L128.46,117.44 L128.79,117.49 L129.12,117.54 L129.46,117.60 L129.79,117.65 L130.12,117.70 L130.46,117.75 L130.79,117.80 L131.12,117.84 L131.45,117.89 L131.79,117.94 L132.12,117.98 L132.45,118.02 L132.79,118.07 L133.12,118.11 L133.45,118.14 L133.79,118.18 L134.12,118.22 L134.45,118.25 L134.78,118.29 L135.12,118.32 L135.45,118.35 L135.78,118.38 L136.12,118.40 L136.45,118.43 L136.78,118.45 L137.12,118.47 L137.45,118.50 L137.78,118.52 L138.12,118.54 L138.45,118.57 L138.78,118.59 L139.11,118.61 L139.45,118.63 L139.78,118.65 L140.11,118.67 L140.45,118.69 L140.78,118.71 L141.11,118.73 L141.44,118.75 L141.78,118.76 L142.11,118.78 L142.44,118.80 L142.78,118.82 L143.11,118.83 L143.44,118.85 L143.78,118.86 L144.11,118.88 L144.44,118.90 L144.77,118.91 L145.11,118.92 L145.44,118.94 L145.77,118.95 L146.11,118.97 L146.44,118.98 L146.77,118.99 L147.11,119.00 L147.44,119.02 L147.77,119.03 L148.10,119.04 L148.44,119.05 L148.77,119.06 L149.10,119.07 L149.44,119.08 L149.77,119.09 L150.10,119.10 L150.44,119.11 L150.77,119.12 L151.10,119.13 L151.44,119.14 L151.77,119.15 L152.10,119.16 L152.43,119.17 L152.77,119.17 L153.10,119.18 L153.43,119.19 L153.77,119.20 L154.10,119.21 L154.43,119.21 L154.76,119.22 L155.10,119.23 L155.43,119.24 L155.76,119.24 L156.10,119.25 L156.43,119.26 L156.76,119.26 L157.10,119.27 L157.43,119.28 L157.76,119.28 L158.09,119.29 L158.43,119.30 L158.76,119.30 L159.09,119.31 L159.43,119.32 L159.76,119.32 L160.09,119.33 L160.43,119.33 L160.76,119.34 L161.09,119.35 L161.43,119.35 L161.76,119.36 L162.09,119.36 L162.42,119.37 L162.76,119.37 L163.09,119.38 L163.42,119.38 L163.76,119.39 L164.09,119.40 L164.42,119.40 L164.75,119.41 L165.09,119.41 L165.42,119.42 L165.75,119.42 L166.09,119.43 L166.42,119.44 L166.75,119.44 L167.09,119.45 L167.42,119.45 L167.75,119.46 L168.08,119.46 L168.42,119.47 L168.75,119.48 L169.08,119.48 L169.42,119.49 L169.75,119.50 L170.08,119.50 L170.42,119.51 L170.75,119.51 L171.08,119.52 L171.41,119.53 L171.75,119.53 L172.08,119.54 L172.41,119.55 L172.75,119.55 L173.08,119.56 L173.41,119.56 L173.75,119.57 L174.08,119.58 L174.41,119.58 L174.75,119.59 L175.08,119.60 L175.41,119.60 L175.74,119.61 L176.08,119.61 L176.41,119.62 L176.74,119.63 L177.08,119.63 L177.41,119.64 L177.74,119.64 L178.07,119.65 L178.41,119.66 L178.74,119.66 L179.07,119.67 L179.41,119.68 L179.74,119.68 L180.07,119.69 L180.41,119.69 L180.74,119.70 L181.07,119.71 L181.40,119.71 L181.74,119.72 L182.07,119.72 L182.40,119.73 L182.74,119.74 L183.07,119.74 L183.40,119.75 L183.74,119.75 L184.07,119.76 L184.40,119.76 L184.74,119.77 L185.07,119.78 L185.40,119.78 L185.73,119.79 L186.07,119.79 L186.40,119.80" fill="none" stroke="#8e1438" stroke-width="1.0"/>
<g fill="#fff" stroke="#8e1438" stroke-width="1.25"><circle cx="53.20" cy="120.30" r="1.2"/><circle cx="55.52" cy="120.16" r="1.2"/><circle cx="57.85" cy="119.82" r="1.2"/><circle cx="60.17" cy="119.21" r="1.2"/><circle cx="62.49" cy="116.21" r="1.2"/><circle cx="64.82" cy="108.81" r="1.2"/><circle cx="67.14" cy="98.70" r="1.2"/><circle cx="69.46" cy="88.79" r="1.2"/><circle cx="71.79" cy="81.62" r="1.2"/><circle cx="74.11" cy="79.40" r="1.2"/><circle cx="76.43" cy="81.12" r="1.2"/><circle cx="78.76" cy="84.68" r="1.2"/><circle cx="81.08" cy="88.03" r="1.2"/><circle cx="83.40" cy="91.60" r="1.2"/><circle cx="85.73" cy="94.55" r="1.2"/><circle cx="88.05" cy="97.44" r="1.2"/><circle cx="90.37" cy="100.32" r="1.2"/><circle cx="92.70" cy="102.64" r="1.2"/><circle cx="95.02" cy="104.63" r="1.2"/><circle cx="97.34" cy="106.71" r="1.2"/><circle cx="99.67" cy="108.43" r="1.2"/><circle cx="101.99" cy="109.89" r="1.2"/><circle cx="104.31" cy="111.21" r="1.2"/><circle cx="106.64" cy="112.25" r="1.2"/><circle cx="108.96" cy="113.09" r="1.2"/><circle cx="111.28" cy="113.82" r="1.2"/><circle cx="113.61" cy="114.47" r="1.2"/><circle cx="115.93" cy="115.06" r="1.2"/><circle cx="118.25" cy="115.59" r="1.2"/><circle cx="120.58" cy="116.07" r="1.2"/><circle cx="122.90" cy="116.51" r="1.2"/><circle cx="125.22" cy="116.90" r="1.2"/><circle cx="127.55" cy="117.29" r="1.2"/><circle cx="129.87" cy="117.66" r="1.2"/><circle cx="132.19" cy="117.99" r="1.2"/><circle cx="134.52" cy="118.26" r="1.2"/><circle cx="136.84" cy="118.45" r="1.2"/><circle cx="139.16" cy="118.61" r="1.2"/><circle cx="141.49" cy="118.75" r="1.2"/><circle cx="143.81" cy="118.87" r="1.2"/><circle cx="146.13" cy="118.97" r="1.2"/><circle cx="148.46" cy="119.05" r="1.2"/><circle cx="150.78" cy="119.12" r="1.2"/><circle cx="153.10" cy="119.18" r="1.2"/><circle cx="155.43" cy="119.24" r="1.2"/><circle cx="157.75" cy="119.28" r="1.2"/><circle cx="160.07" cy="119.33" r="1.2"/><circle cx="162.40" cy="119.37" r="1.2"/><circle cx="164.72" cy="119.41" r="1.2"/><circle cx="167.04" cy="119.45" r="1.2"/><circle cx="169.37" cy="119.49" r="1.2"/><circle cx="171.69" cy="119.53" r="1.2"/><circle cx="174.01" cy="119.58" r="1.2"/><circle cx="176.34" cy="119.62" r="1.2"/><circle cx="178.66" cy="119.66" r="1.2"/><circle cx="180.98" cy="119.70" r="1.2"/><circle cx="183.31" cy="119.75" r="1.2"/><circle cx="185.63" cy="119.79" r="1.2"/></g>
<path d="M253.30,119.80 L253.63,119.80 L253.97,119.80 L254.30,119.80 L254.63,119.80 L254.96,119.80 L255.30,119.80 L255.63,119.80 L255.96,119.80 L256.29,119.79 L256.63,119.79 L256.96,119.79 L257.29,119.79 L257.62,119.79 L257.96,119.78 L258.29,119.78 L258.62,119.78 L258.95,119.77 L259.29,119.77 L259.62,119.76 L259.95,119.76 L260.29,119.75 L260.62,119.75 L260.95,119.74 L261.28,119.74 L261.62,119.73 L261.95,119.72 L262.28,119.72 L262.61,119.71 L262.95,119.70 L263.28,119.69 L263.61,119.68 L263.94,119.67 L264.28,119.66 L264.61,119.65 L264.94,119.64 L265.27,119.63 L265.61,119.62 L265.94,119.60 L266.27,119.56 L266.60,119.43 L266.94,119.22 L267.27,118.94 L267.60,118.59 L267.94,118.18 L268.27,117.52 L268.60,116.28 L268.93,114.60 L269.27,112.66 L269.60,110.62 L269.93,108.47 L270.26,105.89 L270.60,103.00 L270.93,100.00 L271.26,97.07 L271.59,94.37 L271.93,91.90 L272.26,89.47 L272.59,86.90 L272.92,84.05 L273.26,80.98 L273.59,77.66 L273.92,73.93 L274.25,69.60 L274.59,65.14 L274.92,61.06 L275.25,57.74 L275.59,54.61 L275.92,51.74 L276.25,49.37 L276.58,47.76 L276.92,46.68 L277.25,45.71 L277.58,44.89 L277.91,44.27 L278.25,43.89 L278.58,43.80 L278.91,43.89 L279.24,44.09 L279.58,44.38 L279.91,44.76 L280.24,45.20 L280.57,45.69 L280.91,46.21 L281.24,46.76 L281.57,47.32 L281.91,47.88 L282.24,48.53 L282.57,49.30 L282.90,50.15 L283.24,51.07 L283.57,52.03 L283.90,53.03 L284.23,54.03 L284.57,55.01 L284.90,55.98 L285.23,56.96 L285.56,57.97 L285.90,59.00 L286.23,60.05 L286.56,61.11 L286.89,62.18 L287.23,63.25 L287.56,64.33 L287.89,65.41 L288.23,66.48 L288.56,67.55 L288.89,68.61 L289.22,69.70 L289.56,70.80 L289.89,71.92 L290.22,73.04 L290.55,74.14 L290.89,75.22 L291.22,76.26 L291.55,77.25 L291.88,78.19 L292.22,79.06 L292.55,79.90 L292.88,80.70 L293.21,81.48 L293.55,82.23 L293.88,82.96 L294.21,83.68 L294.54,84.38 L294.88,85.08 L295.21,85.77 L295.54,86.46 L295.88,87.16 L296.21,87.87 L296.54,88.59 L296.87,89.33 L297.21,90.09 L297.54,90.87 L297.87,91.65 L298.20,92.44 L298.54,93.22 L298.87,94.00 L299.20,94.76 L299.53,95.50 L299.87,96.21 L300.20,96.90 L300.53,97.54 L300.86,98.14 L301.20,98.69 L301.53,99.19 L301.86,99.66 L302.19,100.12 L302.53,100.56 L302.86,100.98 L303.19,101.38 L303.53,101.78 L303.86,102.16 L304.19,102.52 L304.52,102.88 L304.86,103.22 L305.19,103.55 L305.52,103.88 L305.85,104.19 L306.19,104.50 L306.52,104.80 L306.85,105.10 L307.18,105.39 L307.52,105.67 L307.85,105.95 L308.18,106.22 L308.51,106.49 L308.85,106.76 L309.18,107.01 L309.51,107.26 L309.85,107.51 L310.18,107.75 L310.51,107.98 L310.84,108.21 L311.18,108.42 L311.51,108.64 L311.84,108.84 L312.17,109.04 L312.51,109.23 L312.84,109.41 L313.17,109.59 L313.50,109.76 L313.84,109.93 L314.17,110.09 L314.50,110.24 L314.83,110.39 L315.17,110.54 L315.50,110.68 L315.83,110.82 L316.17,110.96 L316.50,111.09 L316.83,111.22 L317.16,111.35 L317.50,111.48 L317.83,111.60 L318.16,111.73 L318.49,111.85 L318.83,111.97 L319.16,112.09 L319.49,112.20 L319.82,112.32 L320.16,112.44 L320.49,112.55 L320.82,112.66 L321.15,112.78 L321.49,112.89 L321.82,113.00 L322.15,113.11 L322.48,113.22 L322.82,113.32 L323.15,113.43 L323.48,113.53 L323.82,113.63 L324.15,113.74 L324.48,113.84 L324.81,113.93 L325.15,114.03 L325.48,114.13 L325.81,114.22 L326.14,114.32 L326.48,114.41 L326.81,114.50 L327.14,114.58 L327.47,114.67 L327.81,114.76 L328.14,114.84 L328.47,114.92 L328.80,115.00 L329.14,115.08 L329.47,115.16 L329.80,115.24 L330.13,115.31 L330.47,115.39 L330.80,115.47 L331.13,115.54 L331.47,115.62 L331.80,115.69 L332.13,115.76 L332.46,115.84 L332.80,115.91 L333.13,115.98 L333.46,116.05 L333.79,116.11 L334.13,116.18 L334.46,116.24 L334.79,116.31 L335.12,116.37 L335.46,116.43 L335.79,116.49 L336.12,116.55 L336.45,116.60 L336.79,116.65 L337.12,116.71 L337.45,116.76 L337.79,116.80 L338.12,116.85 L338.45,116.89 L338.78,116.94 L339.12,116.98 L339.45,117.02 L339.78,117.06 L340.11,117.10 L340.45,117.14 L340.78,117.18 L341.11,117.22 L341.44,117.26 L341.78,117.30 L342.11,117.33 L342.44,117.37 L342.77,117.41 L343.11,117.45 L343.44,117.48 L343.77,117.52 L344.11,117.55 L344.44,117.59 L344.77,117.62 L345.10,117.66 L345.44,117.69 L345.77,117.72 L346.10,117.76 L346.43,117.79 L346.77,117.82 L347.10,117.85 L347.43,117.88 L347.76,117.91 L348.10,117.94 L348.43,117.97 L348.76,118.00 L349.09,118.03 L349.43,118.06 L349.76,118.09 L350.09,118.11 L350.42,118.14 L350.76,118.17 L351.09,118.19 L351.42,118.22 L351.76,118.24 L352.09,118.27 L352.42,118.29 L352.75,118.31 L353.09,118.34 L353.42,118.36 L353.75,118.38 L354.08,118.40 L354.42,118.42 L354.75,118.44 L355.08,118.46 L355.41,118.48 L355.75,118.50 L356.08,118.52 L356.41,118.54 L356.74,118.55 L357.08,118.57 L357.41,118.59 L357.74,118.60 L358.07,118.62 L358.41,118.63 L358.74,118.65 L359.07,118.66 L359.41,118.68 L359.74,118.69 L360.07,118.70 L360.40,118.72 L360.74,118.73 L361.07,118.74 L361.40,118.76 L361.73,118.77 L362.07,118.78 L362.40,118.79 L362.73,118.81 L363.06,118.82 L363.40,118.83 L363.73,118.84 L364.06,118.85 L364.39,118.86 L364.73,118.87 L365.06,118.89 L365.39,118.90 L365.73,118.91 L366.06,118.92 L366.39,118.93 L366.72,118.94 L367.06,118.95 L367.39,118.96 L367.72,118.97 L368.05,118.98 L368.39,118.99 L368.72,119.00 L369.05,119.01 L369.38,119.01 L369.72,119.02 L370.05,119.03 L370.38,119.04 L370.71,119.05 L371.05,119.06 L371.38,119.07 L371.71,119.08 L372.05,119.08 L372.38,119.09 L372.71,119.10 L373.04,119.11 L373.38,119.12 L373.71,119.12 L374.04,119.13 L374.37,119.14 L374.71,119.15 L375.04,119.16 L375.37,119.16 L375.70,119.17 L376.04,119.18 L376.37,119.19 L376.70,119.20 L377.03,119.20 L377.37,119.21 L377.70,119.22 L378.03,119.23 L378.36,119.23 L378.70,119.24 L379.03,119.25 L379.36,119.26 L379.70,119.26 L380.03,119.27 L380.36,119.28 L380.69,119.28 L381.03,119.29 L381.36,119.30 L381.69,119.31 L382.02,119.31 L382.36,119.32 L382.69,119.33 L383.02,119.33 L383.35,119.34 L383.69,119.35 L384.02,119.35 L384.35,119.36 L384.68,119.37 L385.02,119.37 L385.35,119.38 L385.68,119.38 L386.01,119.39 L386.35,119.40 L386.68,119.40 L387.01,119.41 L387.35,119.41 L387.68,119.42 L388.01,119.43 L388.34,119.43 L388.68,119.44 L389.01,119.44 L389.34,119.45 L389.67,119.45 L390.01,119.46 L390.34,119.46 L390.67,119.47 L391.00,119.47 L391.34,119.48 L391.67,119.48 L392.00,119.49 L392.33,119.49 L392.67,119.50 L393.00,119.50" fill="none" stroke="#721532" stroke-width="1.3" stroke-linejoin="round"/>
<path d="M253.30,119.80 L253.63,119.80 L253.97,119.80 L254.30,119.80 L254.63,119.80 L254.96,119.80 L255.30,119.80 L255.63,119.80 L255.96,119.79 L256.29,119.79 L256.63,119.79 L256.96,119.79 L257.29,119.78 L257.62,119.78 L257.96,119.78 L258.29,119.78 L258.62,119.77 L258.95,119.77 L259.29,119.76 L259.62,119.76 L259.95,119.75 L260.29,119.75 L260.62,119.74 L260.95,119.74 L261.28,119.73 L261.62,119.72 L261.95,119.72 L262.28,119.71 L262.61,119.70 L262.95,119.69 L263.28,119.68 L263.61,119.68 L263.94,119.67 L264.28,119.66 L264.61,119.65 L264.94,119.64 L265.27,119.63 L265.61,119.61 L265.94,119.60 L266.27,119.58 L266.60,119.53 L266.94,119.46 L267.27,119.37 L267.60,119.25 L267.94,119.12 L268.27,118.96 L268.60,118.78 L268.93,118.59 L269.27,118.39 L269.60,118.17 L269.93,117.92 L270.26,117.56 L270.60,117.10 L270.93,116.53 L271.26,115.85 L271.59,115.04 L271.93,113.68 L272.26,111.93 L272.59,110.14 L272.92,108.50 L273.26,106.86 L273.59,105.15 L273.92,103.26 L274.25,101.12 L274.59,98.51 L274.92,95.36 L275.25,91.91 L275.59,88.39 L275.92,84.59 L276.25,80.62 L276.58,76.78 L276.92,73.13 L277.25,69.55 L277.58,66.12 L277.91,62.92 L278.25,59.74 L278.58,56.90 L278.91,54.76 L279.24,52.98 L279.58,51.54 L279.91,50.58 L280.24,49.93 L280.57,49.38 L280.91,48.98 L281.24,48.80 L281.57,48.88 L281.91,49.20 L282.24,49.71 L282.57,50.39 L282.90,51.19 L283.24,52.09 L283.57,53.04 L283.90,54.02 L284.23,54.99 L284.57,55.91 L284.90,56.83 L285.23,57.83 L285.56,58.91 L285.90,60.04 L286.23,61.21 L286.56,62.41 L286.89,63.62 L287.23,64.83 L287.56,66.01 L287.89,67.16 L288.23,68.26 L288.56,69.31 L288.89,70.36 L289.22,71.41 L289.56,72.44 L289.89,73.47 L290.22,74.48 L290.55,75.47 L290.89,76.44 L291.22,77.39 L291.55,78.31 L291.88,79.20 L292.22,80.06 L292.55,80.90 L292.88,81.74 L293.21,82.55 L293.55,83.35 L293.88,84.13 L294.21,84.89 L294.54,85.63 L294.88,86.34 L295.21,87.03 L295.54,87.69 L295.88,88.34 L296.21,88.96 L296.54,89.58 L296.87,90.19 L297.21,90.79 L297.54,91.37 L297.87,91.95 L298.20,92.51 L298.54,93.06 L298.87,93.59 L299.20,94.11 L299.53,94.61 L299.87,95.10 L300.20,95.58 L300.53,96.03 L300.86,96.47 L301.20,96.90 L301.53,97.30 L301.86,97.70 L302.19,98.08 L302.53,98.44 L302.86,98.80 L303.19,99.15 L303.53,99.49 L303.86,99.82 L304.19,100.14 L304.52,100.46 L304.86,100.77 L305.19,101.08 L305.52,101.39 L305.85,101.69 L306.19,102.00 L306.52,102.30 L306.85,102.61 L307.18,102.91 L307.52,103.23 L307.85,103.54 L308.18,103.86 L308.51,104.19 L308.85,104.52 L309.18,104.85 L309.51,105.18 L309.85,105.51 L310.18,105.83 L310.51,106.15 L310.84,106.47 L311.18,106.78 L311.51,107.08 L311.84,107.37 L312.17,107.65 L312.51,107.92 L312.84,108.17 L313.17,108.41 L313.50,108.64 L313.84,108.85 L314.17,109.07 L314.50,109.27 L314.83,109.47 L315.17,109.67 L315.50,109.86 L315.83,110.04 L316.17,110.22 L316.50,110.40 L316.83,110.57 L317.16,110.73 L317.50,110.89 L317.83,111.05 L318.16,111.21 L318.49,111.36 L318.83,111.51 L319.16,111.65 L319.49,111.80 L319.82,111.94 L320.16,112.08 L320.49,112.21 L320.82,112.35 L321.15,112.48 L321.49,112.61 L321.82,112.74 L322.15,112.87 L322.48,113.00 L322.82,113.12 L323.15,113.25 L323.48,113.37 L323.82,113.48 L324.15,113.60 L324.48,113.72 L324.81,113.83 L325.15,113.94 L325.48,114.05 L325.81,114.15 L326.14,114.26 L326.48,114.36 L326.81,114.46 L327.14,114.55 L327.47,114.65 L327.81,114.74 L328.14,114.83 L328.47,114.92 L328.80,115.00 L329.14,115.08 L329.47,115.17 L329.80,115.25 L330.13,115.33 L330.47,115.40 L330.80,115.48 L331.13,115.56 L331.47,115.63 L331.80,115.71 L332.13,115.78 L332.46,115.85 L332.80,115.92 L333.13,115.99 L333.46,116.06 L333.79,116.13 L334.13,116.19 L334.46,116.26 L334.79,116.32 L335.12,116.38 L335.46,116.44 L335.79,116.50 L336.12,116.55 L336.45,116.61 L336.79,116.66 L337.12,116.71 L337.45,116.76 L337.79,116.80 L338.12,116.85 L338.45,116.89 L338.78,116.94 L339.12,116.98 L339.45,117.02 L339.78,117.06 L340.11,117.10 L340.45,117.14 L340.78,117.18 L341.11,117.22 L341.44,117.26 L341.78,117.30 L342.11,117.33 L342.44,117.37 L342.77,117.41 L343.11,117.45 L343.44,117.48 L343.77,117.52 L344.11,117.55 L344.44,117.59 L344.77,117.62 L345.10,117.66 L345.44,117.69 L345.77,117.72 L346.10,117.76 L346.43,117.79 L346.77,117.82 L347.10,117.85 L347.43,117.88 L347.76,117.91 L348.10,117.94 L348.43,117.97 L348.76,118.00 L349.09,118.03 L349.43,118.06 L349.76,118.09 L350.09,118.11 L350.42,118.14 L350.76,118.17 L351.09,118.19 L351.42,118.22 L351.76,118.24 L352.09,118.27 L352.42,118.29 L352.75,118.31 L353.09,118.34 L353.42,118.36 L353.75,118.38 L354.08,118.40 L354.42,118.42 L354.75,118.44 L355.08,118.46 L355.41,118.48 L355.75,118.50 L356.08,118.52 L356.41,118.54 L356.74,118.55 L357.08,118.57 L357.41,118.59 L357.74,118.60 L358.07,118.62 L358.41,118.63 L358.74,118.65 L359.07,118.66 L359.41,118.68 L359.74,118.69 L360.07,118.70 L360.40,118.72 L360.74,118.73 L361.07,118.74 L361.40,118.76 L361.73,118.77 L362.07,118.78 L362.40,118.79 L362.73,118.81 L363.06,118.82 L363.40,118.83 L363.73,118.84 L364.06,118.85 L364.39,118.86 L364.73,118.87 L365.06,118.89 L365.39,118.90 L365.73,118.91 L366.06,118.92 L366.39,118.93 L366.72,118.94 L367.06,118.95 L367.39,118.96 L367.72,118.97 L368.05,118.98 L368.39,118.99 L368.72,119.00 L369.05,119.01 L369.38,119.01 L369.72,119.02 L370.05,119.03 L370.38,119.04 L370.71,119.05 L371.05,119.06 L371.38,119.07 L371.71,119.08 L372.05,119.08 L372.38,119.09 L372.71,119.10 L373.04,119.11 L373.38,119.12 L373.71,119.12 L374.04,119.13 L374.37,119.14 L374.71,119.15 L375.04,119.16 L375.37,119.16 L375.70,119.17 L376.04,119.18 L376.37,119.19 L376.70,119.20 L377.03,119.20 L377.37,119.21 L377.70,119.22 L378.03,119.23 L378.36,119.23 L378.70,119.24 L379.03,119.25 L379.36,119.26 L379.70,119.26 L380.03,119.27 L380.36,119.28 L380.69,119.28 L381.03,119.29 L381.36,119.30 L381.69,119.31 L382.02,119.31 L382.36,119.32 L382.69,119.33 L383.02,119.33 L383.35,119.34 L383.69,119.35 L384.02,119.35 L384.35,119.36 L384.68,119.37 L385.02,119.37 L385.35,119.38 L385.68,119.38 L386.01,119.39 L386.35,119.40 L386.68,119.40 L387.01,119.41 L387.35,119.41 L387.68,119.42 L388.01,119.43 L388.34,119.43 L388.68,119.44 L389.01,119.44 L389.34,119.45 L389.67,119.45 L390.01,119.46 L390.34,119.46 L390.67,119.47 L391.00,119.47 L391.34,119.48 L391.67,119.48 L392.00,119.49 L392.33,119.49 L392.67,119.50 L393.00,119.50" fill="none" stroke="#8e1438" stroke-width="1.0"/>
<g fill="#fff" stroke="#8e1438" stroke-width="1.25"><circle cx="253.30" cy="119.80" r="1.2"/><circle cx="254.46" cy="119.80" r="1.2"/><circle cx="255.62" cy="119.80" r="1.2"/><circle cx="256.78" cy="119.79" r="1.2"/><circle cx="257.95" cy="119.78" r="1.2"/><circle cx="259.11" cy="119.77" r="1.2"/><circle cx="260.27" cy="119.75" r="1.2"/><circle cx="261.43" cy="119.73" r="1.2"/><circle cx="262.59" cy="119.70" r="1.2"/><circle cx="263.75" cy="119.67" r="1.2"/><circle cx="264.92" cy="119.64" r="1.2"/><circle cx="266.08" cy="119.60" r="1.2"/><circle cx="267.24" cy="119.38" r="1.2"/><circle cx="268.40" cy="118.89" r="1.2"/><circle cx="269.56" cy="118.19" r="1.2"/><circle cx="270.72" cy="116.89" r="1.2"/><circle cx="271.89" cy="113.87" r="1.2"/><circle cx="273.05" cy="107.89" r="1.2"/><circle cx="274.21" cy="101.42" r="1.2"/><circle cx="275.37" cy="90.65" r="1.2"/><circle cx="276.53" cy="77.34" r="1.2"/><circle cx="277.69" cy="65.00" r="1.2"/><circle cx="278.86" cy="55.07" r="1.2"/><circle cx="280.02" cy="50.36" r="1.2"/><circle cx="281.18" cy="48.82" r="1.2"/><circle cx="282.34" cy="49.91" r="1.2"/><circle cx="283.50" cy="52.85" r="1.2"/><circle cx="284.66" cy="56.17" r="1.2"/><circle cx="285.83" cy="59.80" r="1.2"/><circle cx="286.99" cy="63.97" r="1.2"/><circle cx="288.15" cy="68.02" r="1.2"/><circle cx="289.31" cy="71.69" r="1.2"/><circle cx="290.47" cy="75.23" r="1.2"/><circle cx="291.63" cy="78.53" r="1.2"/><circle cx="292.80" cy="81.53" r="1.2"/><circle cx="293.96" cy="84.31" r="1.2"/><circle cx="295.12" cy="86.85" r="1.2"/><circle cx="296.28" cy="89.10" r="1.2"/><circle cx="297.44" cy="91.21" r="1.2"/><circle cx="298.60" cy="93.17" r="1.2"/><circle cx="299.77" cy="94.96" r="1.2"/><circle cx="300.93" cy="96.56" r="1.2"/><circle cx="302.09" cy="97.96" r="1.2"/><circle cx="303.25" cy="99.21" r="1.2"/><circle cx="304.41" cy="100.35" r="1.2"/><circle cx="305.57" cy="101.44" r="1.2"/><circle cx="306.74" cy="102.50" r="1.2"/><circle cx="307.90" cy="103.59" r="1.2"/><circle cx="309.06" cy="104.73" r="1.2"/><circle cx="310.22" cy="105.88" r="1.2"/><circle cx="311.38" cy="106.97" r="1.2"/><circle cx="312.54" cy="107.95" r="1.2"/><circle cx="313.71" cy="108.77" r="1.2"/><circle cx="314.87" cy="109.49" r="1.2"/><circle cx="316.03" cy="110.15" r="1.2"/><circle cx="317.19" cy="110.75" r="1.2"/><circle cx="318.35" cy="111.30" r="1.2"/><circle cx="319.51" cy="111.81" r="1.2"/><circle cx="320.68" cy="112.29" r="1.2"/><circle cx="321.84" cy="112.75" r="1.2"/><circle cx="323.00" cy="113.19" r="1.2"/><circle cx="324.16" cy="113.61" r="1.2"/><circle cx="325.32" cy="114.00" r="1.2"/><circle cx="326.48" cy="114.36" r="1.2"/><circle cx="327.65" cy="114.70" r="1.2"/><circle cx="328.81" cy="115.00" r="1.2"/><circle cx="329.97" cy="115.29" r="1.2"/><circle cx="331.13" cy="115.56" r="1.2"/><circle cx="332.29" cy="115.82" r="1.2"/><circle cx="333.45" cy="116.06" r="1.2"/><circle cx="334.62" cy="116.29" r="1.2"/><circle cx="335.78" cy="116.49" r="1.2"/><circle cx="336.94" cy="116.68" r="1.2"/><circle cx="338.10" cy="116.85" r="1.2"/><circle cx="339.26" cy="117.00" r="1.2"/><circle cx="340.42" cy="117.14" r="1.2"/><circle cx="341.59" cy="117.28" r="1.2"/><circle cx="342.75" cy="117.41" r="1.2"/><circle cx="343.91" cy="117.53" r="1.2"/><circle cx="345.07" cy="117.65" r="1.2"/><circle cx="346.23" cy="117.77" r="1.2"/><circle cx="347.39" cy="117.88" r="1.2"/><circle cx="348.56" cy="117.98" r="1.2"/><circle cx="349.72" cy="118.08" r="1.2"/><circle cx="350.88" cy="118.18" r="1.2"/><circle cx="352.04" cy="118.26" r="1.2"/><circle cx="353.20" cy="118.34" r="1.2"/><circle cx="354.36" cy="118.42" r="1.2"/><circle cx="355.53" cy="118.49" r="1.2"/><circle cx="356.69" cy="118.55" r="1.2"/><circle cx="357.85" cy="118.61" r="1.2"/><circle cx="359.01" cy="118.66" r="1.2"/><circle cx="360.17" cy="118.71" r="1.2"/><circle cx="361.33" cy="118.75" r="1.2"/><circle cx="362.50" cy="118.80" r="1.2"/><circle cx="363.66" cy="118.84" r="1.2"/><circle cx="364.82" cy="118.88" r="1.2"/><circle cx="365.98" cy="118.92" r="1.2"/><circle cx="367.14" cy="118.95" r="1.2"/><circle cx="368.30" cy="118.98" r="1.2"/><circle cx="369.47" cy="119.02" r="1.2"/><circle cx="370.63" cy="119.05" r="1.2"/><circle cx="371.79" cy="119.08" r="1.2"/><circle cx="372.95" cy="119.11" r="1.2"/><circle cx="374.11" cy="119.13" r="1.2"/><circle cx="375.27" cy="119.16" r="1.2"/><circle cx="376.44" cy="119.19" r="1.2"/><circle cx="377.60" cy="119.22" r="1.2"/><circle cx="378.76" cy="119.24" r="1.2"/><circle cx="379.92" cy="119.27" r="1.2"/><circle cx="381.08" cy="119.29" r="1.2"/><circle cx="382.24" cy="119.32" r="1.2"/><circle cx="383.41" cy="119.34" r="1.2"/><circle cx="384.57" cy="119.36" r="1.2"/><circle cx="385.73" cy="119.39" r="1.2"/><circle cx="386.89" cy="119.41" r="1.2"/><circle cx="388.05" cy="119.43" r="1.2"/><circle cx="389.21" cy="119.45" r="1.2"/><circle cx="390.38" cy="119.46" r="1.2"/><circle cx="391.54" cy="119.48" r="1.2"/><circle cx="392.70" cy="119.50" r="1.2"/></g>
<path d="M48.00,289.00 L48.33,289.00 L48.67,289.00 L49.00,288.99 L49.33,288.99 L49.66,288.98 L50.00,288.98 L50.33,288.97 L50.66,288.96 L50.99,288.95 L51.33,288.93 L51.66,288.92 L51.99,288.90 L52.33,288.89 L52.66,288.87 L52.99,288.85 L53.32,288.83 L53.66,288.80 L53.99,288.75 L54.32,288.61 L54.65,288.39 L54.99,288.10 L55.32,287.74 L55.65,287.31 L55.98,286.82 L56.32,286.27 L56.65,285.67 L56.98,285.01 L57.32,284.31 L57.65,283.57 L57.98,282.79 L58.31,281.97 L58.65,281.09 L58.98,279.94 L59.31,278.47 L59.64,276.74 L59.98,274.75 L60.31,272.56 L60.64,270.17 L60.98,267.63 L61.31,264.96 L61.64,261.78 L61.97,257.68 L62.31,253.95 L62.64,251.06 L62.97,248.49 L63.30,246.01 L63.64,243.41 L63.97,240.66 L64.30,237.85 L64.63,235.07 L64.97,232.39 L65.30,229.91 L65.63,227.70 L65.97,225.65 L66.30,223.50 L66.63,221.56 L66.96,220.15 L67.30,219.60 L67.63,219.90 L67.96,220.74 L68.29,222.02 L68.63,223.62 L68.96,225.45 L69.29,227.39 L69.62,229.35 L69.96,231.68 L70.29,234.57 L70.62,237.82 L70.96,241.20 L71.29,244.52 L71.62,247.58 L71.95,250.47 L72.29,253.34 L72.62,256.32 L72.95,259.53 L73.28,263.46 L73.62,267.45 L73.95,270.34 L74.28,272.44 L74.62,274.30 L74.95,275.91 L75.28,277.23 L75.61,278.26 L75.95,279.00 L76.28,279.62 L76.61,280.19 L76.94,280.70 L77.28,281.15 L77.61,281.57 L77.94,281.94 L78.28,282.28 L78.61,282.59 L78.94,282.88 L79.27,283.16 L79.61,283.43 L79.94,283.69 L80.27,283.94 L80.60,284.19 L80.94,284.43 L81.27,284.67 L81.60,284.89 L81.93,285.10 L82.27,285.31 L82.60,285.50 L82.93,285.68 L83.27,285.85 L83.60,286.01 L83.93,286.15 L84.26,286.27 L84.60,286.39 L84.93,286.48 L85.26,286.57 L85.59,286.65 L85.93,286.73 L86.26,286.80 L86.59,286.88 L86.93,286.95 L87.26,287.02 L87.59,287.09 L87.92,287.15 L88.26,287.21 L88.59,287.27 L88.92,287.33 L89.25,287.39 L89.59,287.44 L89.92,287.50 L90.25,287.54 L90.58,287.59 L90.92,287.64 L91.25,287.68 L91.58,287.72 L91.92,287.76 L92.25,287.79 L92.58,287.83 L92.91,287.86 L93.25,287.89 L93.58,287.91 L93.91,287.94 L94.24,287.96 L94.58,287.98 L94.91,288.00 L95.24,288.01 L95.58,288.03 L95.91,288.04 L96.24,288.06 L96.57,288.07 L96.91,288.08 L97.24,288.10 L97.57,288.11 L97.90,288.13 L98.24,288.14 L98.57,288.15 L98.90,288.16 L99.23,288.18 L99.57,288.19 L99.90,288.20 L100.23,288.21 L100.57,288.23 L100.90,288.24 L101.23,288.25 L101.56,288.26 L101.90,288.27 L102.23,288.28 L102.56,288.29 L102.89,288.30 L103.23,288.31 L103.56,288.32 L103.89,288.33 L104.23,288.34 L104.56,288.35 L104.89,288.36 L105.22,288.37 L105.56,288.38 L105.89,288.39 L106.22,288.39 L106.55,288.40 L106.89,288.41 L107.22,288.42 L107.55,288.43 L107.88,288.43 L108.22,288.44 L108.55,288.45 L108.88,288.46 L109.22,288.46 L109.55,288.47 L109.88,288.48 L110.21,288.48 L110.55,288.49 L110.88,288.49 L111.21,288.50 L111.54,288.51 L111.88,288.51 L112.21,288.52 L112.54,288.52 L112.88,288.53 L113.21,288.53 L113.54,288.54 L113.87,288.54 L114.21,288.55 L114.54,288.55 L114.87,288.55 L115.20,288.56 L115.54,288.56 L115.87,288.57 L116.20,288.57 L116.53,288.57 L116.87,288.58 L117.20,288.58 L117.53,288.58 L117.87,288.58 L118.20,288.59 L118.53,288.59 L118.86,288.59 L119.20,288.59 L119.53,288.60 L119.86,288.60 L120.19,288.60 L120.53,288.60 L120.86,288.61 L121.19,288.61 L121.53,288.61 L121.86,288.61 L122.19,288.61 L122.52,288.62 L122.86,288.62 L123.19,288.62 L123.52,288.62 L123.85,288.62 L124.19,288.62 L124.52,288.63 L124.85,288.63 L125.18,288.63 L125.52,288.63 L125.85,288.63 L126.18,288.64 L126.52,288.64 L126.85,288.64 L127.18,288.64 L127.51,288.64 L127.85,288.64 L128.18,288.65 L128.51,288.65 L128.84,288.65 L129.18,288.65 L129.51,288.65 L129.84,288.66 L130.18,288.66 L130.51,288.66 L130.84,288.66 L131.17,288.66 L131.51,288.66 L131.84,288.67 L132.17,288.67 L132.50,288.67 L132.84,288.67 L133.17,288.67 L133.50,288.67 L133.83,288.68 L134.17,288.68 L134.50,288.68 L134.83,288.68 L135.17,288.68 L135.50,288.68 L135.83,288.68 L136.16,288.69 L136.50,288.69 L136.83,288.69 L137.16,288.69 L137.49,288.69 L137.83,288.69 L138.16,288.69 L138.49,288.70 L138.83,288.70 L139.16,288.70 L139.49,288.70 L139.82,288.70 L140.16,288.70 L140.49,288.70 L140.82,288.71 L141.15,288.71 L141.49,288.71 L141.82,288.71 L142.15,288.71 L142.48,288.71 L142.82,288.71 L143.15,288.72 L143.48,288.72 L143.82,288.72 L144.15,288.72 L144.48,288.72 L144.81,288.72 L145.15,288.72 L145.48,288.72 L145.81,288.73 L146.14,288.73 L146.48,288.73 L146.81,288.73 L147.14,288.73 L147.48,288.73 L147.81,288.73 L148.14,288.73 L148.47,288.74 L148.81,288.74 L149.14,288.74 L149.47,288.74 L149.80,288.74 L150.14,288.74 L150.47,288.74 L150.80,288.74 L151.13,288.74 L151.47,288.74 L151.80,288.75 L152.13,288.75 L152.47,288.75 L152.80,288.75 L153.13,288.75 L153.46,288.75 L153.80,288.75 L154.13,288.75 L154.46,288.75 L154.79,288.75 L155.13,288.76 L155.46,288.76 L155.79,288.76 L156.12,288.76 L156.46,288.76 L156.79,288.76 L157.12,288.76 L157.46,288.76 L157.79,288.76 L158.12,288.76 L158.45,288.76 L158.79,288.77 L159.12,288.77 L159.45,288.77 L159.78,288.77 L160.12,288.77 L160.45,288.77 L160.78,288.77 L161.12,288.77 L161.45,288.77 L161.78,288.77 L162.11,288.77 L162.45,288.77 L162.78,288.77 L163.11,288.78 L163.44,288.78 L163.78,288.78 L164.11,288.78 L164.44,288.78 L164.78,288.78 L165.11,288.78 L165.44,288.78 L165.77,288.78 L166.11,288.78 L166.44,288.78 L166.77,288.78 L167.10,288.78 L167.44,288.78 L167.77,288.78 L168.10,288.78 L168.43,288.79 L168.77,288.79 L169.10,288.79 L169.43,288.79 L169.77,288.79 L170.10,288.79 L170.43,288.79 L170.76,288.79 L171.10,288.79 L171.43,288.79 L171.76,288.79 L172.09,288.79 L172.43,288.79 L172.76,288.79 L173.09,288.79 L173.43,288.79 L173.76,288.79 L174.09,288.79 L174.42,288.79 L174.76,288.79 L175.09,288.79 L175.42,288.79 L175.75,288.79 L176.09,288.80 L176.42,288.80 L176.75,288.80 L177.08,288.80 L177.42,288.80 L177.75,288.80 L178.08,288.80 L178.42,288.80 L178.75,288.80 L179.08,288.80 L179.41,288.80 L179.75,288.80 L180.08,288.80 L180.41,288.80 L180.74,288.80 L181.08,288.80 L181.41,288.80 L181.74,288.80 L182.08,288.80 L182.41,288.80 L182.74,288.80 L183.07,288.80 L183.41,288.80 L183.74,288.80 L184.07,288.80 L184.40,288.80 L184.74,288.80 L185.07,288.80 L185.40,288.80 L185.73,288.80 L186.07,288.80 L186.40,288.80" fill="none" stroke="#721532" stroke-width="1.3" stroke-linejoin="round"/>
<path d="M53.20,289.20 L53.53,289.13 L53.87,288.97 L54.20,288.74 L54.53,288.46 L54.87,288.12 L55.20,287.76 L55.53,287.38 L55.86,286.95 L56.20,286.41 L56.53,285.76 L56.86,285.02 L57.20,284.21 L57.53,283.33 L57.86,282.40 L58.20,281.40 L58.53,280.20 L58.86,278.85 L59.19,277.39 L59.53,275.88 L59.86,274.38 L60.19,272.93 L60.53,271.49 L60.86,269.99 L61.19,268.46 L61.53,266.94 L61.86,265.45 L62.19,264.05 L62.52,262.76 L62.86,261.61 L63.19,260.45 L63.52,259.25 L63.86,258.09 L64.19,257.04 L64.52,256.19 L64.86,255.62 L65.19,255.40 L65.52,255.51 L65.85,255.83 L66.19,256.31 L66.52,256.91 L66.85,257.57 L67.19,258.27 L67.52,259.00 L67.85,259.93 L68.19,261.03 L68.52,262.24 L68.85,263.49 L69.18,264.74 L69.52,265.92 L69.85,267.04 L70.18,268.20 L70.52,269.37 L70.85,270.52 L71.18,271.62 L71.52,272.63 L71.85,273.52 L72.18,274.34 L72.51,275.11 L72.85,275.84 L73.18,276.53 L73.51,277.17 L73.85,277.78 L74.18,278.35 L74.51,278.87 L74.84,279.36 L75.18,279.82 L75.51,280.25 L75.84,280.65 L76.18,281.03 L76.51,281.40 L76.84,281.76 L77.18,282.11 L77.51,282.45 L77.84,282.77 L78.17,283.08 L78.51,283.37 L78.84,283.64 L79.17,283.88 L79.51,284.10 L79.84,284.30 L80.17,284.49 L80.51,284.67 L80.84,284.84 L81.17,285.00 L81.50,285.16 L81.84,285.31 L82.17,285.46 L82.50,285.61 L82.84,285.75 L83.17,285.88 L83.50,286.01 L83.84,286.14 L84.17,286.26 L84.50,286.39 L84.84,286.51 L85.17,286.62 L85.50,286.74 L85.83,286.84 L86.17,286.94 L86.50,287.03 L86.83,287.11 L87.17,287.19 L87.50,287.26 L87.83,287.33 L88.16,287.39 L88.50,287.45 L88.83,287.50 L89.16,287.56 L89.50,287.61 L89.83,287.66 L90.16,287.71 L90.50,287.74 L90.83,287.78 L91.16,287.80 L91.50,287.81 L91.83,287.83 L92.16,287.84 L92.49,287.86 L92.83,287.87 L93.16,287.88 L93.49,287.90 L93.83,287.91 L94.16,287.92 L94.49,287.94 L94.82,287.95 L95.16,287.96 L95.49,287.97 L95.82,287.99 L96.16,288.00 L96.49,288.01 L96.82,288.02 L97.16,288.03 L97.49,288.04 L97.82,288.05 L98.16,288.06 L98.49,288.07 L98.82,288.08 L99.15,288.09 L99.49,288.10 L99.82,288.11 L100.15,288.12 L100.49,288.13 L100.82,288.14 L101.15,288.15 L101.48,288.16 L101.82,288.17 L102.15,288.17 L102.48,288.18 L102.82,288.19 L103.15,288.20 L103.48,288.21 L103.82,288.21 L104.15,288.22 L104.48,288.23 L104.81,288.23 L105.15,288.24 L105.48,288.25 L105.81,288.25 L106.15,288.26 L106.48,288.27 L106.81,288.27 L107.15,288.28 L107.48,288.28 L107.81,288.29 L108.14,288.29 L108.48,288.30 L108.81,288.30 L109.14,288.31 L109.48,288.31 L109.81,288.32 L110.14,288.32 L110.48,288.33 L110.81,288.33 L111.14,288.34 L111.47,288.34 L111.81,288.34 L112.14,288.35 L112.47,288.35 L112.81,288.35 L113.14,288.36 L113.47,288.36 L113.81,288.36 L114.14,288.37 L114.47,288.37 L114.80,288.37 L115.14,288.37 L115.47,288.38 L115.80,288.38 L116.14,288.38 L116.47,288.38 L116.80,288.39 L117.14,288.39 L117.47,288.39 L117.80,288.39 L118.13,288.39 L118.47,288.39 L118.80,288.40 L119.13,288.40 L119.47,288.40 L119.80,288.40 L120.13,288.40 L120.47,288.40 L120.80,288.40 L121.13,288.40 L121.46,288.40 L121.80,288.41 L122.13,288.41 L122.46,288.41 L122.80,288.41 L123.13,288.41 L123.46,288.41 L123.80,288.41 L124.13,288.41 L124.46,288.41 L124.80,288.41 L125.13,288.42 L125.46,288.42 L125.79,288.42 L126.13,288.42 L126.46,288.42 L126.79,288.42 L127.13,288.42 L127.46,288.42 L127.79,288.42 L128.12,288.42 L128.46,288.42 L128.79,288.43 L129.12,288.43 L129.46,288.43 L129.79,288.43 L130.12,288.43 L130.46,288.43 L130.79,288.43 L131.12,288.43 L131.45,288.43 L131.79,288.43 L132.12,288.43 L132.45,288.44 L132.79,288.44 L133.12,288.44 L133.45,288.44 L133.79,288.44 L134.12,288.44 L134.45,288.44 L134.78,288.44 L135.12,288.44 L135.45,288.44 L135.78,288.44 L136.12,288.44 L136.45,288.44 L136.78,288.45 L137.12,288.45 L137.45,288.45 L137.78,288.45 L138.12,288.45 L138.45,288.45 L138.78,288.45 L139.11,288.45 L139.45,288.45 L139.78,288.45 L140.11,288.45 L140.45,288.45 L140.78,288.45 L141.11,288.46 L141.44,288.46 L141.78,288.46 L142.11,288.46 L142.44,288.46 L142.78,288.46 L143.11,288.46 L143.44,288.46 L143.78,288.46 L144.11,288.46 L144.44,288.46 L144.77,288.46 L145.11,288.46 L145.44,288.46 L145.77,288.46 L146.11,288.46 L146.44,288.47 L146.77,288.47 L147.11,288.47 L147.44,288.47 L147.77,288.47 L148.10,288.47 L148.44,288.47 L148.77,288.47 L149.10,288.47 L149.44,288.47 L149.77,288.47 L150.10,288.47 L150.44,288.47 L150.77,288.47 L151.10,288.47 L151.44,288.47 L151.77,288.47 L152.10,288.47 L152.43,288.48 L152.77,288.48 L153.10,288.48 L153.43,288.48 L153.77,288.48 L154.10,288.48 L154.43,288.48 L154.76,288.48 L155.10,288.48 L155.43,288.48 L155.76,288.48 L156.10,288.48 L156.43,288.48 L156.76,288.48 L157.10,288.48 L157.43,288.48 L157.76,288.48 L158.09,288.48 L158.43,288.48 L158.76,288.48 L159.09,288.48 L159.43,288.48 L159.76,288.48 L160.09,288.49 L160.43,288.49 L160.76,288.49 L161.09,288.49 L161.43,288.49 L161.76,288.49 L162.09,288.49 L162.42,288.49 L162.76,288.49 L163.09,288.49 L163.42,288.49 L163.76,288.49 L164.09,288.49 L164.42,288.49 L164.75,288.49 L165.09,288.49 L165.42,288.49 L165.75,288.49 L166.09,288.49 L166.42,288.49 L166.75,288.49 L167.09,288.49 L167.42,288.49 L167.75,288.49 L168.08,288.49 L168.42,288.49 L168.75,288.49 L169.08,288.49 L169.42,288.49 L169.75,288.49 L170.08,288.49 L170.42,288.49 L170.75,288.49 L171.08,288.50 L171.41,288.50 L171.75,288.50 L172.08,288.50 L172.41,288.50 L172.75,288.50 L173.08,288.50 L173.41,288.50 L173.75,288.50 L174.08,288.50 L174.41,288.50 L174.75,288.50 L175.08,288.50 L175.41,288.50 L175.74,288.50 L176.08,288.50 L176.41,288.50 L176.74,288.50 L177.08,288.50 L177.41,288.50 L177.74,288.50 L178.07,288.50 L178.41,288.50 L178.74,288.50 L179.07,288.50 L179.41,288.50 L179.74,288.50 L180.07,288.50 L180.41,288.50 L180.74,288.50 L181.07,288.50 L181.40,288.50 L181.74,288.50 L182.07,288.50 L182.40,288.50 L182.74,288.50 L183.07,288.50 L183.40,288.50 L183.74,288.50 L184.07,288.50 L184.40,288.50 L184.74,288.50 L185.07,288.50 L185.40,288.50 L185.73,288.50 L186.07,288.50 L186.40,288.50" fill="none" stroke="#8e1438" stroke-width="1.0"/>
<g fill="#fff" stroke="#8e1438" stroke-width="1.25"><circle cx="53.20" cy="289.20" r="1.2"/><circle cx="55.52" cy="287.39" r="1.2"/><circle cx="57.85" cy="282.44" r="1.2"/><circle cx="60.17" cy="273.03" r="1.2"/><circle cx="62.49" cy="262.87" r="1.2"/><circle cx="64.82" cy="255.67" r="1.2"/><circle cx="67.14" cy="258.17" r="1.2"/><circle cx="69.46" cy="265.74" r="1.2"/><circle cx="71.79" cy="273.37" r="1.2"/><circle cx="74.11" cy="278.23" r="1.2"/><circle cx="76.43" cy="281.32" r="1.2"/><circle cx="78.76" cy="283.57" r="1.2"/><circle cx="81.08" cy="284.95" r="1.2"/><circle cx="83.40" cy="285.97" r="1.2"/><circle cx="85.73" cy="286.81" r="1.2"/><circle cx="88.05" cy="287.37" r="1.2"/><circle cx="90.37" cy="287.73" r="1.2"/><circle cx="92.70" cy="287.86" r="1.2"/><circle cx="95.02" cy="287.96" r="1.2"/><circle cx="97.34" cy="288.04" r="1.2"/><circle cx="99.67" cy="288.11" r="1.2"/><circle cx="101.99" cy="288.17" r="1.2"/><circle cx="104.31" cy="288.22" r="1.2"/><circle cx="106.64" cy="288.27" r="1.2"/><circle cx="108.96" cy="288.31" r="1.2"/><circle cx="111.28" cy="288.34" r="1.2"/><circle cx="113.61" cy="288.36" r="1.2"/><circle cx="115.93" cy="288.38" r="1.2"/><circle cx="118.25" cy="288.39" r="1.2"/><circle cx="120.58" cy="288.40" r="1.2"/><circle cx="122.90" cy="288.41" r="1.2"/><circle cx="125.22" cy="288.42" r="1.2"/><circle cx="127.55" cy="288.42" r="1.2"/><circle cx="129.87" cy="288.43" r="1.2"/><circle cx="132.19" cy="288.43" r="1.2"/><circle cx="134.52" cy="288.44" r="1.2"/><circle cx="136.84" cy="288.45" r="1.2"/><circle cx="139.16" cy="288.45" r="1.2"/><circle cx="141.49" cy="288.46" r="1.2"/><circle cx="143.81" cy="288.46" r="1.2"/><circle cx="146.13" cy="288.46" r="1.2"/><circle cx="148.46" cy="288.47" r="1.2"/><circle cx="150.78" cy="288.47" r="1.2"/><circle cx="153.10" cy="288.48" r="1.2"/><circle cx="155.43" cy="288.48" r="1.2"/><circle cx="157.75" cy="288.48" r="1.2"/><circle cx="160.07" cy="288.49" r="1.2"/><circle cx="162.40" cy="288.49" r="1.2"/><circle cx="164.72" cy="288.49" r="1.2"/><circle cx="167.04" cy="288.49" r="1.2"/><circle cx="169.37" cy="288.49" r="1.2"/><circle cx="174.01" cy="288.50" r="1.2"/><circle cx="176.34" cy="288.50" r="1.2"/><circle cx="178.66" cy="288.50" r="1.2"/><circle cx="180.98" cy="288.50" r="1.2"/><circle cx="183.31" cy="288.50" r="1.2"/><circle cx="185.63" cy="288.50" r="1.2"/></g>
<path d="M253.30,289.10 L253.63,289.10 L253.97,289.10 L254.30,289.09 L254.63,289.09 L254.96,289.08 L255.30,289.08 L255.63,289.07 L255.96,289.06 L256.29,289.05 L256.63,289.04 L256.96,289.03 L257.29,289.02 L257.62,289.01 L257.96,288.99 L258.29,288.97 L258.62,288.93 L258.95,288.87 L259.29,288.81 L259.62,288.73 L259.95,288.64 L260.29,288.54 L260.62,288.44 L260.95,288.32 L261.28,288.19 L261.62,288.05 L261.95,287.91 L262.28,287.75 L262.61,287.59 L262.95,287.39 L263.28,287.13 L263.61,286.82 L263.94,286.45 L264.28,286.04 L264.61,285.58 L264.94,285.09 L265.27,284.57 L265.61,284.02 L265.94,283.35 L266.27,282.55 L266.60,281.66 L266.94,280.70 L267.27,279.69 L267.60,278.70 L267.94,277.63 L268.27,276.35 L268.60,274.69 L268.93,272.10 L269.27,267.88 L269.60,262.97 L269.93,256.79 L270.26,250.59 L270.60,245.79 L270.93,241.15 L271.26,234.90 L271.59,227.80 L271.93,221.39 L272.26,214.82 L272.59,210.72 L272.92,210.64 L273.26,211.76 L273.59,213.51 L273.92,215.60 L274.25,217.73 L274.59,219.95 L274.92,222.60 L275.25,225.47 L275.59,228.65 L275.92,232.07 L276.25,235.50 L276.58,238.86 L276.92,242.22 L277.25,245.50 L277.58,248.71 L277.91,251.90 L278.25,254.96 L278.58,257.83 L278.91,260.53 L279.24,263.13 L279.58,265.52 L279.91,267.55 L280.24,269.25 L280.57,270.75 L280.91,272.13 L281.24,273.46 L281.57,274.81 L281.91,276.17 L282.24,277.49 L282.57,278.68 L282.90,279.70 L283.24,280.63 L283.57,281.50 L283.90,282.30 L284.23,283.00 L284.57,283.60 L284.90,284.08 L285.23,284.54 L285.56,284.98 L285.90,285.39 L286.23,285.78 L286.56,286.14 L286.89,286.47 L287.23,286.77 L287.56,287.03 L287.89,287.25 L288.23,287.44 L288.56,287.58 L288.89,287.70 L289.22,287.81 L289.56,287.92 L289.89,288.02 L290.22,288.11 L290.55,288.20 L290.89,288.28 L291.22,288.36 L291.55,288.42 L291.88,288.48 L292.22,288.52 L292.55,288.56 L292.88,288.59 L293.21,288.60 L293.55,288.60 L293.88,288.60 L294.21,288.60 L294.54,288.60 L294.88,288.60 L295.21,288.60 L295.54,288.60 L295.88,288.60 L296.21,288.60 L296.54,288.60 L296.87,288.60 L297.21,288.60 L297.54,288.60 L297.87,288.60 L298.20,288.60 L298.54,288.60 L298.87,288.60 L299.20,288.60 L299.53,288.60 L299.87,288.60 L300.20,288.60 L300.53,288.60 L300.86,288.60 L301.20,288.60 L301.53,288.60 L301.86,288.60 L302.19,288.60 L302.53,288.60 L302.86,288.60 L303.19,288.60 L303.53,288.60 L303.86,288.60 L304.19,288.60 L304.52,288.60 L304.86,288.60 L305.19,288.60 L305.52,288.60 L305.85,288.60 L306.19,288.60 L306.52,288.60 L306.85,288.60 L307.18,288.60 L307.52,288.60 L307.85,288.60 L308.18,288.60 L308.51,288.60 L308.85,288.60 L309.18,288.60 L309.51,288.60 L309.85,288.60 L310.18,288.60 L310.51,288.60 L310.84,288.60 L311.18,288.60 L311.51,288.60 L311.84,288.60 L312.17,288.60 L312.51,288.60 L312.84,288.60 L313.17,288.60 L313.50,288.60 L313.84,288.60 L314.17,288.60 L314.50,288.60 L314.83,288.60 L315.17,288.60 L315.50,288.60 L315.83,288.60 L316.17,288.60 L316.50,288.60 L316.83,288.60 L317.16,288.60 L317.50,288.60 L317.83,288.60 L318.16,288.60 L318.49,288.60 L318.83,288.60 L319.16,288.60 L319.49,288.60 L319.82,288.60 L320.16,288.60 L320.49,288.60 L320.82,288.60 L321.15,288.60 L321.49,288.60 L321.82,288.60 L322.15,288.60 L322.48,288.60 L322.82,288.60 L323.15,288.60 L323.48,288.60 L323.82,288.60 L324.15,288.60 L324.48,288.60 L324.81,288.60 L325.15,288.60 L325.48,288.60 L325.81,288.60 L326.14,288.60 L326.48,288.60 L326.81,288.60 L327.14,288.60 L327.47,288.60 L327.81,288.60 L328.14,288.60 L328.47,288.60 L328.80,288.60 L329.14,288.60 L329.47,288.60 L329.80,288.60 L330.13,288.60 L330.47,288.60 L330.80,288.60 L331.13,288.60 L331.47,288.60 L331.80,288.60 L332.13,288.60 L332.46,288.60 L332.80,288.60 L333.13,288.60 L333.46,288.60 L333.79,288.60 L334.13,288.60 L334.46,288.60 L334.79,288.60 L335.12,288.60 L335.46,288.60 L335.79,288.60 L336.12,288.60 L336.45,288.60 L336.79,288.60 L337.12,288.60 L337.45,288.60 L337.79,288.60 L338.12,288.60 L338.45,288.60 L338.78,288.60 L339.12,288.60 L339.45,288.60 L339.78,288.60 L340.11,288.60 L340.45,288.60 L340.78,288.60 L341.11,288.60 L341.44,288.60 L341.78,288.60 L342.11,288.60 L342.44,288.60 L342.77,288.60 L343.11,288.60 L343.44,288.60 L343.77,288.60 L344.11,288.60 L344.44,288.60 L344.77,288.60 L345.10,288.60 L345.44,288.60 L345.77,288.60 L346.10,288.60 L346.43,288.60 L346.77,288.60 L347.10,288.60 L347.43,288.60 L347.76,288.60 L348.10,288.60 L348.43,288.60 L348.76,288.60 L349.09,288.60 L349.43,288.60 L349.76,288.60 L350.09,288.60 L350.42,288.60 L350.76,288.60 L351.09,288.60 L351.42,288.60 L351.76,288.60 L352.09,288.60 L352.42,288.60 L352.75,288.60 L353.09,288.60 L353.42,288.60 L353.75,288.60 L354.08,288.60 L354.42,288.60 L354.75,288.60 L355.08,288.60 L355.41,288.60 L355.75,288.60 L356.08,288.60 L356.41,288.60 L356.74,288.60 L357.08,288.60 L357.41,288.60 L357.74,288.60 L358.07,288.60 L358.41,288.60 L358.74,288.60 L359.07,288.60 L359.41,288.60 L359.74,288.60 L360.07,288.60 L360.40,288.60 L360.74,288.60 L361.07,288.60 L361.40,288.60 L361.73,288.60 L362.07,288.60 L362.40,288.60 L362.73,288.60 L363.06,288.60 L363.40,288.60 L363.73,288.60 L364.06,288.60 L364.39,288.60 L364.73,288.60 L365.06,288.60 L365.39,288.60 L365.73,288.60 L366.06,288.60 L366.39,288.60 L366.72,288.60 L367.06,288.60 L367.39,288.60 L367.72,288.60 L368.05,288.60 L368.39,288.60 L368.72,288.60 L369.05,288.60 L369.38,288.60 L369.72,288.60 L370.05,288.60 L370.38,288.60 L370.71,288.60 L371.05,288.60 L371.38,288.60 L371.71,288.60 L372.05,288.60 L372.38,288.60 L372.71,288.60 L373.04,288.60 L373.38,288.60 L373.71,288.60 L374.04,288.60 L374.37,288.60 L374.71,288.60 L375.04,288.60 L375.37,288.60 L375.70,288.60 L376.04,288.60 L376.37,288.60 L376.70,288.60 L377.03,288.60 L377.37,288.60 L377.70,288.60 L378.03,288.60 L378.36,288.60 L378.70,288.60 L379.03,288.60 L379.36,288.60 L379.70,288.60 L380.03,288.60 L380.36,288.60 L380.69,288.60 L381.03,288.60 L381.36,288.60 L381.69,288.60 L382.02,288.60 L382.36,288.60 L382.69,288.60 L383.02,288.60 L383.35,288.60 L383.69,288.60 L384.02,288.60 L384.35,288.60 L384.68,288.60 L385.02,288.60 L385.35,288.60 L385.68,288.60 L386.01,288.60 L386.35,288.60 L386.68,288.60 L387.01,288.60 L387.35,288.60 L387.68,288.60 L388.01,288.60 L388.34,288.60 L388.68,288.60 L389.01,288.60 L389.34,288.60 L389.67,288.60 L390.01,288.60 L390.34,288.60 L390.67,288.60 L391.00,288.60 L391.34,288.60 L391.67,288.60 L392.00,288.60 L392.33,288.60 L392.67,288.60 L393.00,288.60" fill="none" stroke="#721532" stroke-width="1.3" stroke-linejoin="round"/>
<path d="M253.30,288.60 L253.63,288.60 L253.97,288.60 L254.30,288.60 L254.63,288.60 L254.96,288.60 L255.30,288.60 L255.63,288.60 L255.96,288.60 L256.29,288.60 L256.63,288.60 L256.96,288.60 L257.29,288.60 L257.62,288.60 L257.96,288.60 L258.29,288.59 L258.62,288.57 L258.95,288.53 L259.29,288.49 L259.62,288.44 L259.95,288.38 L260.29,288.31 L260.62,288.23 L260.95,288.14 L261.28,288.04 L261.62,287.94 L261.95,287.83 L262.28,287.72 L262.61,287.59 L262.95,287.43 L263.28,287.18 L263.61,286.87 L263.94,286.49 L264.28,286.07 L264.61,285.60 L264.94,285.10 L265.27,284.57 L265.61,284.02 L265.94,283.35 L266.27,282.55 L266.60,281.66 L266.94,280.70 L267.27,279.69 L267.60,278.70 L267.94,277.63 L268.27,276.35 L268.60,274.69 L268.93,272.08 L269.27,267.81 L269.60,263.06 L269.93,257.39 L270.26,251.64 L270.60,247.01 L270.93,243.04 L271.26,239.32 L271.59,235.86 L271.93,232.41 L272.26,228.64 L272.59,224.77 L272.92,221.21 L273.26,218.16 L273.59,215.31 L273.92,214.66 L274.25,215.32 L274.59,216.60 L274.92,218.32 L275.25,220.29 L275.59,222.61 L275.92,226.14 L276.25,230.34 L276.58,234.57 L276.92,239.36 L277.25,243.68 L277.58,246.37 L277.91,248.82 L278.25,252.47 L278.58,256.65 L278.91,260.31 L279.24,263.35 L279.58,266.10 L279.91,268.32 L280.24,269.89 L280.57,271.13 L280.91,272.18 L281.24,273.21 L281.57,274.37 L281.91,275.68 L282.24,277.03 L282.57,278.31 L282.90,279.41 L283.24,280.35 L283.57,281.24 L283.90,282.06 L284.23,282.80 L284.57,283.43 L284.90,283.94 L285.23,284.42 L285.56,284.88 L285.90,285.31 L286.23,285.72 L286.56,286.11 L286.89,286.46 L287.23,286.77 L287.56,287.04 L287.89,287.27 L288.23,287.46 L288.56,287.59 L288.89,287.68 L289.22,287.78 L289.56,287.86 L289.89,287.94 L290.22,288.02 L290.55,288.09 L290.89,288.16 L291.22,288.21 L291.55,288.26 L291.88,288.31 L292.22,288.34 L292.55,288.37 L292.88,288.39 L293.21,288.40 L293.55,288.40 L293.88,288.40 L294.21,288.40 L294.54,288.40 L294.88,288.40 L295.21,288.40 L295.54,288.40 L295.88,288.40 L296.21,288.40 L296.54,288.40 L296.87,288.40 L297.21,288.40 L297.54,288.40 L297.87,288.40 L298.20,288.40 L298.54,288.40 L298.87,288.40 L299.20,288.40 L299.53,288.40 L299.87,288.40 L300.20,288.40 L300.53,288.40 L300.86,288.40 L301.20,288.40 L301.53,288.40 L301.86,288.40 L302.19,288.40 L302.53,288.40 L302.86,288.40 L303.19,288.40 L303.53,288.40 L303.86,288.40 L304.19,288.40 L304.52,288.40 L304.86,288.40 L305.19,288.40 L305.52,288.40 L305.85,288.40 L306.19,288.40 L306.52,288.40 L306.85,288.40 L307.18,288.40 L307.52,288.40 L307.85,288.40 L308.18,288.40 L308.51,288.40 L308.85,288.40 L309.18,288.40 L309.51,288.40 L309.85,288.40 L310.18,288.40 L310.51,288.40 L310.84,288.40 L311.18,288.40 L311.51,288.40 L311.84,288.40 L312.17,288.40 L312.51,288.40 L312.84,288.40 L313.17,288.40 L313.50,288.40 L313.84,288.40 L314.17,288.40 L314.50,288.40 L314.83,288.40 L315.17,288.40 L315.50,288.40 L315.83,288.40 L316.17,288.40 L316.50,288.40 L316.83,288.40 L317.16,288.40 L317.50,288.40 L317.83,288.40 L318.16,288.40 L318.49,288.40 L318.83,288.40 L319.16,288.40 L319.49,288.40 L319.82,288.40 L320.16,288.40 L320.49,288.40 L320.82,288.40 L321.15,288.40 L321.49,288.40 L321.82,288.40 L322.15,288.40 L322.48,288.40 L322.82,288.40 L323.15,288.40 L323.48,288.40 L323.82,288.40 L324.15,288.40 L324.48,288.40 L324.81,288.40 L325.15,288.40 L325.48,288.40 L325.81,288.40 L326.14,288.40 L326.48,288.40 L326.81,288.40 L327.14,288.40 L327.47,288.40 L327.81,288.40 L328.14,288.40 L328.47,288.40 L328.80,288.40 L329.14,288.40 L329.47,288.40 L329.80,288.40 L330.13,288.40 L330.47,288.40 L330.80,288.40 L331.13,288.40 L331.47,288.40 L331.80,288.40 L332.13,288.40 L332.46,288.40 L332.80,288.40 L333.13,288.40 L333.46,288.40 L333.79,288.40 L334.13,288.40 L334.46,288.40 L334.79,288.40 L335.12,288.40 L335.46,288.40 L335.79,288.40 L336.12,288.40 L336.45,288.40 L336.79,288.40 L337.12,288.40 L337.45,288.40 L337.79,288.40 L338.12,288.40 L338.45,288.40 L338.78,288.40 L339.12,288.40 L339.45,288.40 L339.78,288.40 L340.11,288.40 L340.45,288.40 L340.78,288.40 L341.11,288.40 L341.44,288.40 L341.78,288.40 L342.11,288.40 L342.44,288.40 L342.77,288.40 L343.11,288.40 L343.44,288.40 L343.77,288.40 L344.11,288.40 L344.44,288.40 L344.77,288.40 L345.10,288.40 L345.44,288.40 L345.77,288.40 L346.10,288.40 L346.43,288.40 L346.77,288.40 L347.10,288.40 L347.43,288.40 L347.76,288.40 L348.10,288.40 L348.43,288.40 L348.76,288.40 L349.09,288.40 L349.43,288.40 L349.76,288.40 L350.09,288.40 L350.42,288.40 L350.76,288.40 L351.09,288.40 L351.42,288.40 L351.76,288.40 L352.09,288.40 L352.42,288.40 L352.75,288.40 L353.09,288.40 L353.42,288.40 L353.75,288.40 L354.08,288.40 L354.42,288.40 L354.75,288.40 L355.08,288.40 L355.41,288.40 L355.75,288.40 L356.08,288.40 L356.41,288.40 L356.74,288.40 L357.08,288.40 L357.41,288.40 L357.74,288.40 L358.07,288.40 L358.41,288.40 L358.74,288.40 L359.07,288.40 L359.41,288.40 L359.74,288.40 L360.07,288.40 L360.40,288.40 L360.74,288.40 L361.07,288.40 L361.40,288.40 L361.73,288.40 L362.07,288.40 L362.40,288.40 L362.73,288.40 L363.06,288.40 L363.40,288.40 L363.73,288.40 L364.06,288.40 L364.39,288.40 L364.73,288.40 L365.06,288.40 L365.39,288.40 L365.73,288.40 L366.06,288.40 L366.39,288.40 L366.72,288.40 L367.06,288.40 L367.39,288.40 L367.72,288.40 L368.05,288.40 L368.39,288.40 L368.72,288.40 L369.05,288.40 L369.38,288.40 L369.72,288.40 L370.05,288.40 L370.38,288.40 L370.71,288.40 L371.05,288.40 L371.38,288.40 L371.71,288.40 L372.05,288.40 L372.38,288.40 L372.71,288.40 L373.04,288.40 L373.38,288.40 L373.71,288.40 L374.04,288.40 L374.37,288.40 L374.71,288.40 L375.04,288.40 L375.37,288.40 L375.70,288.40 L376.04,288.40 L376.37,288.40 L376.70,288.40 L377.03,288.40 L377.37,288.40 L377.70,288.40 L378.03,288.40 L378.36,288.40 L378.70,288.40 L379.03,288.40 L379.36,288.40 L379.70,288.40 L380.03,288.40 L380.36,288.40 L380.69,288.40 L381.03,288.40 L381.36,288.40 L381.69,288.40 L382.02,288.40 L382.36,288.40 L382.69,288.40 L383.02,288.40 L383.35,288.40 L383.69,288.40 L384.02,288.40 L384.35,288.40 L384.68,288.40 L385.02,288.40 L385.35,288.40 L385.68,288.40 L386.01,288.40 L386.35,288.40 L386.68,288.40 L387.01,288.40 L387.35,288.40 L387.68,288.40 L388.01,288.40 L388.34,288.40 L388.68,288.40 L389.01,288.40 L389.34,288.40 L389.67,288.40 L390.01,288.40 L390.34,288.40 L390.67,288.40 L391.00,288.40 L391.34,288.40 L391.67,288.40 L392.00,288.40 L392.33,288.40 L392.67,288.40 L393.00,288.40" fill="none" stroke="#8e1438" stroke-width="1.0"/>
<g fill="#fff" stroke="#8e1438" stroke-width="1.25"><circle cx="253.30" cy="288.67" r="1.2"/><circle cx="254.46" cy="288.89" r="1.2"/><circle cx="255.62" cy="288.31" r="1.2"/><circle cx="256.78" cy="288.62" r="1.2"/><circle cx="257.95" cy="289.15" r="1.2"/><circle cx="259.11" cy="289.07" r="1.2"/><circle cx="260.27" cy="287.79" r="1.2"/><circle cx="261.43" cy="287.59" r="1.2"/><circle cx="262.59" cy="286.97" r="1.2"/><circle cx="263.75" cy="286.63" r="1.2"/><circle cx="264.92" cy="284.48" r="1.2"/><circle cx="266.08" cy="282.97" r="1.2"/><circle cx="267.24" cy="279.99" r="1.2"/><circle cx="268.40" cy="275.42" r="1.2"/><circle cx="269.56" cy="263.83" r="1.2"/><circle cx="270.72" cy="245.55" r="1.2"/><circle cx="271.89" cy="232.18" r="1.2"/><circle cx="273.05" cy="220.13" r="1.2"/><circle cx="274.21" cy="214.86" r="1.2"/><circle cx="275.37" cy="220.91" r="1.2"/><circle cx="276.53" cy="233.61" r="1.2"/><circle cx="277.69" cy="247.40" r="1.2"/><circle cx="278.86" cy="259.70" r="1.2"/><circle cx="280.02" cy="268.41" r="1.2"/><circle cx="281.18" cy="273.08" r="1.2"/><circle cx="282.34" cy="277.84" r="1.2"/><circle cx="283.50" cy="280.80" r="1.2"/><circle cx="284.66" cy="283.20" r="1.2"/><circle cx="285.83" cy="285.07" r="1.2"/><circle cx="286.99" cy="287.16" r="1.2"/><circle cx="288.15" cy="288.09" r="1.2"/><circle cx="289.31" cy="288.04" r="1.2"/><circle cx="290.47" cy="288.64" r="1.2"/><circle cx="291.63" cy="288.76" r="1.2"/><circle cx="292.80" cy="288.21" r="1.2"/><circle cx="293.96" cy="287.83" r="1.2"/><circle cx="295.12" cy="288.61" r="1.2"/><circle cx="296.28" cy="288.48" r="1.2"/><circle cx="297.44" cy="288.21" r="1.2"/><circle cx="298.60" cy="288.02" r="1.2"/><circle cx="299.77" cy="288.27" r="1.2"/><circle cx="300.93" cy="288.36" r="1.2"/><circle cx="302.09" cy="288.08" r="1.2"/><circle cx="303.25" cy="288.11" r="1.2"/><circle cx="304.41" cy="288.34" r="1.2"/><circle cx="305.57" cy="288.90" r="1.2"/><circle cx="306.74" cy="288.52" r="1.2"/><circle cx="307.90" cy="288.10" r="1.2"/><circle cx="309.06" cy="288.09" r="1.2"/><circle cx="310.22" cy="288.34" r="1.2"/><circle cx="311.38" cy="287.99" r="1.2"/><circle cx="312.54" cy="287.98" r="1.2"/><circle cx="313.71" cy="288.42" r="1.2"/><circle cx="314.87" cy="287.82" r="1.2"/><circle cx="316.03" cy="288.38" r="1.2"/><circle cx="317.19" cy="288.21" r="1.2"/><circle cx="318.35" cy="288.69" r="1.2"/><circle cx="319.51" cy="288.75" r="1.2"/><circle cx="320.68" cy="288.67" r="1.2"/><circle cx="321.84" cy="288.66" r="1.2"/><circle cx="323.00" cy="288.22" r="1.2"/><circle cx="324.16" cy="288.64" r="1.2"/><circle cx="325.32" cy="288.18" r="1.2"/><circle cx="326.48" cy="288.50" r="1.2"/><circle cx="327.65" cy="288.16" r="1.2"/><circle cx="328.81" cy="288.32" r="1.2"/><circle cx="329.97" cy="287.79" r="1.2"/><circle cx="331.13" cy="288.04" r="1.2"/><circle cx="332.29" cy="289.06" r="1.2"/><circle cx="333.45" cy="288.02" r="1.2"/><circle cx="334.62" cy="288.67" r="1.2"/><circle cx="335.78" cy="288.61" r="1.2"/><circle cx="336.94" cy="288.71" r="1.2"/><circle cx="338.10" cy="288.37" r="1.2"/><circle cx="339.26" cy="288.54" r="1.2"/><circle cx="340.42" cy="287.79" r="1.2"/><circle cx="341.59" cy="287.80" r="1.2"/><circle cx="342.75" cy="287.98" r="1.2"/><circle cx="343.91" cy="287.91" r="1.2"/><circle cx="345.07" cy="287.84" r="1.2"/><circle cx="346.23" cy="287.88" r="1.2"/><circle cx="347.39" cy="288.47" r="1.2"/><circle cx="348.56" cy="287.96" r="1.2"/><circle cx="349.72" cy="289.03" r="1.2"/><circle cx="350.88" cy="288.65" r="1.2"/><circle cx="352.04" cy="288.46" r="1.2"/><circle cx="353.20" cy="288.69" r="1.2"/><circle cx="354.36" cy="288.07" r="1.2"/><circle cx="355.53" cy="289.00" r="1.2"/><circle cx="356.69" cy="288.87" r="1.2"/><circle cx="357.85" cy="288.72" r="1.2"/><circle cx="359.01" cy="288.37" r="1.2"/><circle cx="360.17" cy="288.88" r="1.2"/><circle cx="361.33" cy="288.74" r="1.2"/><circle cx="362.50" cy="288.62" r="1.2"/><circle cx="363.66" cy="288.98" r="1.2"/><circle cx="364.82" cy="288.59" r="1.2"/><circle cx="365.98" cy="288.21" r="1.2"/><circle cx="367.14" cy="288.47" r="1.2"/><circle cx="368.30" cy="287.97" r="1.2"/><circle cx="369.47" cy="287.97" r="1.2"/><circle cx="370.63" cy="288.72" r="1.2"/><circle cx="371.79" cy="288.80" r="1.2"/><circle cx="372.95" cy="289.06" r="1.2"/><circle cx="374.11" cy="288.89" r="1.2"/><circle cx="375.27" cy="288.46" r="1.2"/><circle cx="376.44" cy="287.83" r="1.2"/><circle cx="377.60" cy="288.38" r="1.2"/><circle cx="378.76" cy="289.00" r="1.2"/><circle cx="379.92" cy="288.80" r="1.2"/><circle cx="381.08" cy="288.38" r="1.2"/><circle cx="382.24" cy="288.34" r="1.2"/><circle cx="383.41" cy="288.01" r="1.2"/><circle cx="384.57" cy="287.95" r="1.2"/><circle cx="385.73" cy="287.80" r="1.2"/><circle cx="386.89" cy="288.95" r="1.2"/><circle cx="388.05" cy="288.60" r="1.2"/><circle cx="389.21" cy="287.90" r="1.2"/><circle cx="390.38" cy="288.28" r="1.2"/><circle cx="391.54" cy="287.77" r="1.2"/><circle cx="392.70" cy="287.99" r="1.2"/></g>
<path d="M46.40,447.80 L46.73,447.80 L47.07,447.80 L47.40,447.80 L47.73,447.80 L48.06,447.80 L48.40,447.80 L48.73,447.80 L49.06,447.80 L49.39,447.80 L49.73,447.80 L50.06,447.80 L50.39,447.80 L50.72,447.80 L51.06,447.80 L51.39,447.80 L51.72,447.80 L52.05,447.80 L52.39,447.80 L52.72,447.80 L53.05,447.80 L53.38,447.80 L53.72,447.80 L54.05,447.80 L54.38,447.80 L54.71,447.80 L55.05,447.80 L55.38,447.80 L55.71,447.80 L56.04,447.80 L56.38,447.80 L56.71,447.80 L57.04,447.80 L57.37,447.80 L57.71,447.80 L58.04,447.80 L58.37,447.80 L58.70,447.80 L59.04,447.80 L59.37,447.80 L59.70,447.80 L60.03,447.80 L60.37,447.80 L60.70,447.80 L61.03,447.80 L61.36,447.80 L61.70,447.80 L62.03,447.80 L62.36,447.80 L62.69,447.80 L63.03,447.80 L63.36,447.80 L63.69,447.80 L64.02,447.80 L64.36,447.80 L64.69,447.80 L65.02,447.80 L65.35,447.80 L65.69,447.80 L66.02,447.80 L66.35,447.80 L66.69,447.80 L67.02,447.80 L67.35,447.80 L67.68,447.80 L68.02,447.80 L68.35,447.80 L68.68,447.80 L69.01,447.80 L69.35,447.80 L69.68,447.80 L70.01,447.80 L70.34,447.80 L70.68,447.80 L71.01,447.80 L71.34,447.80 L71.67,447.80 L72.01,447.80 L72.34,447.80 L72.67,447.80 L73.00,447.80 L73.34,447.80 L73.67,447.80 L74.00,447.80 L74.33,447.80 L74.67,447.80 L75.00,447.80 L75.33,447.80 L75.66,447.80 L76.00,447.80 L76.33,447.80 L76.66,447.80 L76.99,447.80 L77.33,447.80 L77.66,447.80 L77.99,447.80 L78.32,447.80 L78.66,447.80 L78.99,447.80 L79.32,447.80 L79.65,447.80 L79.99,447.80 L80.32,447.80 L80.65,447.80 L80.98,447.80 L81.32,447.80 L81.65,447.80 L81.98,447.80 L82.31,447.80 L82.65,447.80 L82.98,447.80 L83.31,447.80 L83.64,447.80 L83.98,447.80 L84.31,447.80 L84.64,447.80 L84.97,447.80 L85.31,447.80 L85.64,447.79 L85.97,447.77 L86.30,447.75 L86.64,447.72 L86.97,447.68 L87.30,447.64 L87.64,447.59 L87.97,447.54 L88.30,447.49 L88.63,447.43 L88.97,447.36 L89.30,447.30 L89.63,447.22 L89.96,447.15 L90.30,447.07 L90.63,446.99 L90.96,446.89 L91.29,446.76 L91.63,446.60 L91.96,446.41 L92.29,446.19 L92.62,445.95 L92.96,445.68 L93.29,445.39 L93.62,445.08 L93.95,444.75 L94.29,444.40 L94.62,444.03 L94.95,443.65 L95.28,443.26 L95.62,442.85 L95.95,442.43 L96.28,442.01 L96.61,441.58 L96.95,441.14 L97.28,440.70 L97.61,440.25 L97.94,439.72 L98.28,439.12 L98.61,438.45 L98.94,437.74 L99.27,437.01 L99.61,436.27 L99.94,435.54 L100.27,434.84 L100.60,434.19 L100.94,433.60 L101.27,433.07 L101.60,432.52 L101.93,431.98 L102.27,431.45 L102.60,430.94 L102.93,430.45 L103.26,430.00 L103.60,429.60 L103.93,429.25 L104.26,428.96 L104.59,428.74 L104.93,428.55 L105.26,428.36 L105.59,428.18 L105.92,428.01 L106.26,427.85 L106.59,427.70 L106.92,427.56 L107.26,427.44 L107.59,427.33 L107.92,427.24 L108.25,427.18 L108.59,427.13 L108.92,427.10 L109.25,427.10 L109.58,427.13 L109.92,427.18 L110.25,427.26 L110.58,427.36 L110.91,427.48 L111.25,427.61 L111.58,427.75 L111.91,427.91 L112.24,428.07 L112.58,428.24 L112.91,428.40 L113.24,428.57 L113.57,428.74 L113.91,428.90 L114.24,429.08 L114.57,429.28 L114.90,429.49 L115.24,429.72 L115.57,429.95 L115.90,430.19 L116.23,430.45 L116.57,430.70 L116.90,430.97 L117.23,431.23 L117.56,431.50 L117.90,431.76 L118.23,432.02 L118.56,432.28 L118.89,432.53 L119.23,432.78 L119.56,433.01 L119.89,433.25 L120.22,433.49 L120.56,433.73 L120.89,433.97 L121.22,434.21 L121.55,434.45 L121.89,434.69 L122.22,434.93 L122.55,435.16 L122.88,435.40 L123.22,435.63 L123.55,435.85 L123.88,436.08 L124.21,436.29 L124.55,436.50 L124.88,436.71 L125.21,436.91 L125.54,437.10 L125.88,437.29 L126.21,437.48 L126.54,437.67 L126.88,437.85 L127.21,438.03 L127.54,438.21 L127.87,438.39 L128.21,438.56 L128.54,438.73 L128.87,438.90 L129.20,439.06 L129.54,439.23 L129.87,439.39 L130.20,439.55 L130.53,439.70 L130.87,439.85 L131.20,440.00 L131.53,440.15 L131.86,440.30 L132.20,440.44 L132.53,440.58 L132.86,440.72 L133.19,440.86 L133.53,441.00 L133.86,441.13 L134.19,441.26 L134.52,441.40 L134.86,441.53 L135.19,441.65 L135.52,441.78 L135.85,441.91 L136.19,442.03 L136.52,442.16 L136.85,442.28 L137.18,442.40 L137.52,442.51 L137.85,442.63 L138.18,442.75 L138.51,442.86 L138.85,442.98 L139.18,443.09 L139.51,443.20 L139.84,443.31 L140.18,443.41 L140.51,443.52 L140.84,443.63 L141.17,443.73 L141.51,443.83 L141.84,443.94 L142.17,444.04 L142.50,444.14 L142.84,444.25 L143.17,444.35 L143.50,444.45 L143.83,444.56 L144.17,444.66 L144.50,444.76 L144.83,444.86 L145.16,444.96 L145.50,445.05 L145.83,445.15 L146.16,445.24 L146.50,445.33 L146.83,445.42 L147.16,445.51 L147.49,445.59 L147.83,445.67 L148.16,445.74 L148.49,445.82 L148.82,445.89 L149.16,445.95 L149.49,446.01 L149.82,446.07 L150.15,446.12 L150.49,446.18 L150.82,446.23 L151.15,446.28 L151.48,446.33 L151.82,446.38 L152.15,446.42 L152.48,446.47 L152.81,446.52 L153.15,446.56 L153.48,446.61 L153.81,446.65 L154.14,446.69 L154.48,446.73 L154.81,446.77 L155.14,446.81 L155.47,446.85 L155.81,446.88 L156.14,446.92 L156.47,446.95 L156.80,446.98 L157.14,447.01 L157.47,447.04 L157.80,447.07 L158.13,447.09 L158.47,447.12 L158.80,447.14 L159.13,447.16 L159.46,447.18 L159.80,447.19 L160.13,447.21 L160.46,447.22 L160.79,447.23 L161.13,447.25 L161.46,447.26 L161.79,447.27 L162.12,447.29 L162.46,447.30 L162.79,447.31 L163.12,447.32 L163.45,447.34 L163.79,447.35 L164.12,447.36 L164.45,447.37 L164.78,447.39 L165.12,447.40 L165.45,447.41 L165.78,447.42 L166.11,447.43 L166.45,447.44 L166.78,447.45 L167.11,447.47 L167.45,447.48 L167.78,447.49 L168.11,447.50 L168.44,447.51 L168.78,447.52 L169.11,447.53 L169.44,447.54 L169.77,447.55 L170.11,447.56 L170.44,447.57 L170.77,447.58 L171.10,447.58 L171.44,447.59 L171.77,447.60 L172.10,447.61 L172.43,447.62 L172.77,447.63 L173.10,447.64 L173.43,447.64 L173.76,447.65 L174.10,447.66 L174.43,447.67 L174.76,447.67 L175.09,447.68 L175.43,447.69 L175.76,447.69 L176.09,447.70 L176.42,447.71 L176.76,447.71 L177.09,447.72 L177.42,447.72 L177.75,447.73 L178.09,447.73 L178.42,447.74 L178.75,447.74 L179.08,447.75 L179.42,447.75 L179.75,447.76 L180.08,447.76 L180.41,447.77 L180.75,447.77 L181.08,447.77 L181.41,447.78 L181.74,447.78 L182.08,447.78 L182.41,447.78 L182.74,447.79 L183.07,447.79 L183.41,447.79 L183.74,447.79 L184.07,447.79 L184.40,447.80 L184.74,447.80 L185.07,447.80 L185.40,447.80 L185.73,447.80 L186.07,447.80 L186.40,447.80" fill="none" stroke="#26406e" stroke-width="1.3" stroke-linejoin="round"/>
<path d="M53.40,447.60 L53.73,447.60 L54.07,447.60 L54.40,447.60 L54.73,447.60 L55.06,447.60 L55.40,447.60 L55.73,447.60 L56.06,447.60 L56.39,447.60 L56.73,447.60 L57.06,447.60 L57.39,447.60 L57.72,447.60 L58.06,447.60 L58.39,447.60 L58.72,447.60 L59.05,447.60 L59.39,447.60 L59.72,447.60 L60.05,447.60 L60.38,447.60 L60.72,447.60 L61.05,447.60 L61.38,447.60 L61.71,447.60 L62.05,447.60 L62.38,447.60 L62.71,447.60 L63.04,447.60 L63.38,447.60 L63.71,447.60 L64.04,447.60 L64.38,447.60 L64.71,447.60 L65.04,447.60 L65.37,447.60 L65.71,447.60 L66.04,447.60 L66.37,447.60 L66.70,447.60 L67.04,447.60 L67.37,447.60 L67.70,447.60 L68.03,447.59 L68.37,447.59 L68.70,447.59 L69.03,447.59 L69.36,447.59 L69.70,447.59 L70.03,447.59 L70.36,447.59 L70.69,447.59 L71.03,447.59 L71.36,447.59 L71.69,447.59 L72.02,447.59 L72.36,447.59 L72.69,447.59 L73.02,447.59 L73.35,447.59 L73.69,447.59 L74.02,447.59 L74.35,447.59 L74.69,447.59 L75.02,447.59 L75.35,447.59 L75.68,447.59 L76.02,447.58 L76.35,447.58 L76.68,447.58 L77.01,447.58 L77.35,447.58 L77.68,447.58 L78.01,447.58 L78.34,447.58 L78.68,447.58 L79.01,447.58 L79.34,447.58 L79.67,447.58 L80.01,447.58 L80.34,447.58 L80.67,447.57 L81.00,447.57 L81.34,447.57 L81.67,447.57 L82.00,447.57 L82.33,447.57 L82.67,447.57 L83.00,447.57 L83.33,447.57 L83.66,447.57 L84.00,447.57 L84.33,447.56 L84.66,447.56 L85.00,447.56 L85.33,447.56 L85.66,447.56 L85.99,447.56 L86.33,447.56 L86.66,447.56 L86.99,447.56 L87.32,447.55 L87.66,447.55 L87.99,447.55 L88.32,447.55 L88.65,447.55 L88.99,447.55 L89.32,447.55 L89.65,447.55 L89.98,447.54 L90.32,447.54 L90.65,447.54 L90.98,447.54 L91.31,447.54 L91.65,447.54 L91.98,447.54 L92.31,447.53 L92.64,447.53 L92.98,447.53 L93.31,447.53 L93.64,447.53 L93.97,447.53 L94.31,447.52 L94.64,447.52 L94.97,447.52 L95.31,447.52 L95.64,447.52 L95.97,447.52 L96.30,447.51 L96.64,447.51 L96.97,447.51 L97.30,447.51 L97.63,447.51 L97.97,447.50 L98.30,447.50 L98.63,447.50 L98.96,447.49 L99.30,447.46 L99.63,447.40 L99.96,447.33 L100.29,447.25 L100.63,447.15 L100.96,447.05 L101.29,446.95 L101.62,446.84 L101.96,446.74 L102.29,446.64 L102.62,446.55 L102.95,446.44 L103.29,446.33 L103.62,446.22 L103.95,446.10 L104.28,445.97 L104.62,445.84 L104.95,445.70 L105.28,445.55 L105.62,445.39 L105.95,445.22 L106.28,445.04 L106.61,444.84 L106.95,444.64 L107.28,444.41 L107.61,444.18 L107.94,443.93 L108.28,443.68 L108.61,443.41 L108.94,443.13 L109.27,442.85 L109.61,442.52 L109.94,442.16 L110.27,441.77 L110.60,441.37 L110.94,440.96 L111.27,440.56 L111.60,440.16 L111.93,439.78 L112.27,439.43 L112.60,439.10 L112.93,438.76 L113.26,438.43 L113.60,438.10 L113.93,437.78 L114.26,437.47 L114.59,437.17 L114.93,436.90 L115.26,436.65 L115.59,436.42 L115.93,436.23 L116.26,436.04 L116.59,435.84 L116.92,435.65 L117.26,435.47 L117.59,435.30 L117.92,435.15 L118.25,435.02 L118.59,434.91 L118.92,434.84 L119.25,434.80 L119.58,434.80 L119.92,434.82 L120.25,434.86 L120.58,434.91 L120.91,434.97 L121.25,435.05 L121.58,435.13 L121.91,435.22 L122.24,435.31 L122.58,435.41 L122.91,435.50 L123.24,435.61 L123.57,435.75 L123.91,435.91 L124.24,436.08 L124.57,436.27 L124.91,436.46 L125.24,436.65 L125.57,436.85 L125.90,437.04 L126.24,437.22 L126.57,437.38 L126.90,437.54 L127.23,437.70 L127.57,437.86 L127.90,438.02 L128.23,438.17 L128.56,438.33 L128.90,438.48 L129.23,438.64 L129.56,438.79 L129.89,438.95 L130.23,439.11 L130.56,439.28 L130.89,439.45 L131.22,439.62 L131.56,439.79 L131.89,439.96 L132.22,440.14 L132.55,440.31 L132.89,440.49 L133.22,440.66 L133.55,440.83 L133.88,440.99 L134.22,441.16 L134.55,441.32 L134.88,441.49 L135.22,441.65 L135.55,441.81 L135.88,441.97 L136.21,442.13 L136.55,442.28 L136.88,442.43 L137.21,442.56 L137.54,442.69 L137.88,442.82 L138.21,442.94 L138.54,443.05 L138.87,443.16 L139.21,443.27 L139.54,443.38 L139.87,443.49 L140.20,443.60 L140.54,443.71 L140.87,443.82 L141.20,443.94 L141.53,444.07 L141.87,444.19 L142.20,444.32 L142.53,444.45 L142.86,444.57 L143.20,444.69 L143.53,444.80 L143.86,444.90 L144.19,445.00 L144.53,445.09 L144.86,445.17 L145.19,445.26 L145.53,445.34 L145.86,445.42 L146.19,445.50 L146.52,445.57 L146.86,445.65 L147.19,445.72 L147.52,445.79 L147.85,445.85 L148.19,445.91 L148.52,445.97 L148.85,446.03 L149.18,446.08 L149.52,446.13 L149.85,446.18 L150.18,446.22 L150.51,446.27 L150.85,446.31 L151.18,446.35 L151.51,446.39 L151.84,446.43 L152.18,446.47 L152.51,446.51 L152.84,446.55 L153.17,446.58 L153.51,446.62 L153.84,446.65 L154.17,446.69 L154.50,446.72 L154.84,446.75 L155.17,446.78 L155.50,446.81 L155.84,446.84 L156.17,446.87 L156.50,446.90 L156.83,446.92 L157.17,446.95 L157.50,446.97 L157.83,446.99 L158.16,447.01 L158.50,447.03 L158.83,447.05 L159.16,447.07 L159.49,447.08 L159.83,447.09 L160.16,447.11 L160.49,447.12 L160.82,447.13 L161.16,447.14 L161.49,447.15 L161.82,447.16 L162.15,447.17 L162.49,447.18 L162.82,447.19 L163.15,447.21 L163.48,447.22 L163.82,447.23 L164.15,447.24 L164.48,447.25 L164.81,447.26 L165.15,447.27 L165.48,447.28 L165.81,447.29 L166.15,447.30 L166.48,447.31 L166.81,447.31 L167.14,447.32 L167.48,447.33 L167.81,447.34 L168.14,447.35 L168.47,447.36 L168.81,447.37 L169.14,447.38 L169.47,447.38 L169.80,447.39 L170.14,447.40 L170.47,447.41 L170.80,447.42 L171.13,447.42 L171.47,447.43 L171.80,447.44 L172.13,447.45 L172.46,447.45 L172.80,447.46 L173.13,447.47 L173.46,447.47 L173.79,447.48 L174.13,447.48 L174.46,447.49 L174.79,447.50 L175.12,447.50 L175.46,447.51 L175.79,447.51 L176.12,447.52 L176.46,447.52 L176.79,447.53 L177.12,447.53 L177.45,447.54 L177.79,447.54 L178.12,447.55 L178.45,447.55 L178.78,447.56 L179.12,447.56 L179.45,447.56 L179.78,447.57 L180.11,447.57 L180.45,447.57 L180.78,447.58 L181.11,447.58 L181.44,447.58 L181.78,447.58 L182.11,447.59 L182.44,447.59 L182.77,447.59 L183.11,447.59 L183.44,447.59 L183.77,447.60 L184.10,447.60 L184.44,447.60 L184.77,447.60 L185.10,447.60 L185.43,447.60 L185.77,447.60 L186.10,447.60" fill="none" stroke="#243d6c" stroke-width="1.0"/>
<g fill="#fff" stroke="#243d6c" stroke-width="1.2"><circle cx="53.40" cy="447.60" r="1.35"/><circle cx="56.88" cy="447.60" r="1.35"/><circle cx="60.37" cy="447.60" r="1.35"/><circle cx="63.85" cy="447.60" r="1.35"/><circle cx="67.34" cy="447.60" r="1.35"/><circle cx="70.82" cy="447.59" r="1.35"/><circle cx="74.31" cy="447.59" r="1.35"/><circle cx="77.79" cy="447.58" r="1.35"/><circle cx="81.28" cy="447.57" r="1.35"/><circle cx="84.76" cy="447.56" r="1.35"/><circle cx="88.25" cy="447.55" r="1.35"/><circle cx="91.73" cy="447.54" r="1.35"/><circle cx="95.22" cy="447.52" r="1.35"/><circle cx="98.70" cy="447.50" r="1.35"/><circle cx="102.19" cy="446.67" r="1.35"/><circle cx="105.67" cy="445.36" r="1.35"/><circle cx="109.16" cy="442.95" r="1.35"/><circle cx="112.64" cy="439.05" r="1.35"/><circle cx="116.13" cy="436.11" r="1.35"/><circle cx="119.61" cy="434.80" r="1.35"/><circle cx="123.10" cy="435.56" r="1.35"/><circle cx="126.58" cy="437.39" r="1.35"/><circle cx="130.07" cy="439.04" r="1.35"/><circle cx="133.55" cy="440.83" r="1.35"/><circle cx="137.04" cy="442.49" r="1.35"/><circle cx="140.52" cy="443.71" r="1.35"/><circle cx="144.01" cy="444.95" r="1.35"/><circle cx="147.49" cy="445.78" r="1.35"/><circle cx="150.98" cy="446.32" r="1.35"/><circle cx="154.46" cy="446.72" r="1.35"/><circle cx="157.95" cy="447.00" r="1.35"/><circle cx="161.43" cy="447.15" r="1.35"/><circle cx="164.92" cy="447.26" r="1.35"/><circle cx="168.40" cy="447.36" r="1.35"/><circle cx="171.89" cy="447.44" r="1.35"/><circle cx="175.37" cy="447.51" r="1.35"/><circle cx="178.86" cy="447.56" r="1.35"/><circle cx="182.34" cy="447.59" r="1.35"/><circle cx="185.83" cy="447.60" r="1.35"/></g>
<path d="M253.30,447.30 L253.63,447.30 L253.97,447.30 L254.30,447.30 L254.63,447.30 L254.96,447.30 L255.30,447.30 L255.63,447.30 L255.96,447.30 L256.29,447.30 L256.63,447.30 L256.96,447.30 L257.29,447.30 L257.62,447.30 L257.96,447.30 L258.29,447.30 L258.62,447.30 L258.95,447.30 L259.29,447.30 L259.62,447.30 L259.95,447.30 L260.29,447.30 L260.62,447.30 L260.95,447.30 L261.28,447.29 L261.62,447.29 L261.95,447.29 L262.28,447.29 L262.61,447.29 L262.95,447.29 L263.28,447.29 L263.61,447.29 L263.94,447.29 L264.28,447.29 L264.61,447.29 L264.94,447.29 L265.27,447.29 L265.61,447.29 L265.94,447.29 L266.27,447.28 L266.60,447.28 L266.94,447.28 L267.27,447.28 L267.60,447.28 L267.94,447.28 L268.27,447.28 L268.60,447.28 L268.93,447.28 L269.27,447.28 L269.60,447.27 L269.93,447.27 L270.26,447.27 L270.60,447.27 L270.93,447.27 L271.26,447.27 L271.59,447.27 L271.93,447.26 L272.26,447.26 L272.59,447.26 L272.92,447.26 L273.26,447.26 L273.59,447.26 L273.92,447.26 L274.25,447.25 L274.59,447.25 L274.92,447.25 L275.25,447.25 L275.59,447.25 L275.92,447.24 L276.25,447.24 L276.58,447.24 L276.92,447.24 L277.25,447.24 L277.58,447.23 L277.91,447.23 L278.25,447.23 L278.58,447.23 L278.91,447.23 L279.24,447.22 L279.58,447.22 L279.91,447.22 L280.24,447.22 L280.57,447.21 L280.91,447.21 L281.24,447.21 L281.57,447.21 L281.91,447.20 L282.24,447.20 L282.57,447.20 L282.90,447.20 L283.24,447.19 L283.57,447.19 L283.90,447.19 L284.23,447.18 L284.57,447.18 L284.90,447.18 L285.23,447.17 L285.56,447.17 L285.90,447.17 L286.23,447.17 L286.56,447.16 L286.89,447.16 L287.23,447.15 L287.56,447.15 L287.89,447.15 L288.23,447.14 L288.56,447.14 L288.89,447.14 L289.22,447.13 L289.56,447.13 L289.89,447.13 L290.22,447.12 L290.55,447.12 L290.89,447.11 L291.22,447.11 L291.55,447.11 L291.88,447.10 L292.22,447.10 L292.55,447.09 L292.88,447.08 L293.21,447.06 L293.55,447.04 L293.88,447.02 L294.21,446.99 L294.54,446.96 L294.88,446.93 L295.21,446.89 L295.54,446.85 L295.88,446.80 L296.21,446.75 L296.54,446.70 L296.87,446.64 L297.21,446.58 L297.54,446.51 L297.87,446.44 L298.20,446.37 L298.54,446.29 L298.87,446.16 L299.20,445.97 L299.53,445.71 L299.87,445.40 L300.20,445.05 L300.53,444.66 L300.86,444.24 L301.20,443.81 L301.53,443.36 L301.86,442.86 L302.19,442.27 L302.53,441.60 L302.86,440.87 L303.19,440.09 L303.53,439.25 L303.86,438.36 L304.19,437.29 L304.52,436.10 L304.86,434.87 L305.19,433.69 L305.52,432.63 L305.85,431.66 L306.19,430.73 L306.52,429.82 L306.85,428.90 L307.18,427.95 L307.52,426.88 L307.85,425.77 L308.18,424.75 L308.51,423.95 L308.85,423.40 L309.18,422.88 L309.51,422.43 L309.85,422.09 L310.18,421.91 L310.51,421.93 L310.84,422.07 L311.18,422.32 L311.51,422.64 L311.84,423.02 L312.17,423.42 L312.51,423.83 L312.84,424.22 L313.17,424.58 L313.50,424.96 L313.84,425.36 L314.17,425.77 L314.50,426.20 L314.83,426.64 L315.17,427.08 L315.50,427.53 L315.83,427.98 L316.17,428.42 L316.50,428.86 L316.83,429.28 L317.16,429.69 L317.50,430.08 L317.83,430.45 L318.16,430.82 L318.49,431.19 L318.83,431.55 L319.16,431.91 L319.49,432.27 L319.82,432.62 L320.16,432.96 L320.49,433.30 L320.82,433.64 L321.15,433.97 L321.49,434.29 L321.82,434.60 L322.15,434.91 L322.48,435.21 L322.82,435.51 L323.15,435.79 L323.48,436.07 L323.82,436.34 L324.15,436.60 L324.48,436.86 L324.81,437.12 L325.15,437.37 L325.48,437.62 L325.81,437.86 L326.14,438.10 L326.48,438.33 L326.81,438.56 L327.14,438.78 L327.47,439.00 L327.81,439.21 L328.14,439.42 L328.47,439.63 L328.80,439.83 L329.14,440.02 L329.47,440.22 L329.80,440.41 L330.13,440.60 L330.47,440.78 L330.80,440.97 L331.13,441.15 L331.47,441.33 L331.80,441.50 L332.13,441.67 L332.46,441.84 L332.80,442.00 L333.13,442.16 L333.46,442.31 L333.79,442.46 L334.13,442.60 L334.46,442.73 L334.79,442.86 L335.12,442.98 L335.46,443.10 L335.79,443.22 L336.12,443.33 L336.45,443.45 L336.79,443.56 L337.12,443.66 L337.45,443.77 L337.79,443.87 L338.12,443.96 L338.45,444.06 L338.78,444.15 L339.12,444.23 L339.45,444.32 L339.78,444.40 L340.11,444.47 L340.45,444.55 L340.78,444.62 L341.11,444.68 L341.44,444.75 L341.78,444.81 L342.11,444.88 L342.44,444.94 L342.77,445.00 L343.11,445.06 L343.44,445.12 L343.77,445.17 L344.11,445.23 L344.44,445.28 L344.77,445.34 L345.10,445.39 L345.44,445.44 L345.77,445.49 L346.10,445.54 L346.43,445.58 L346.77,445.63 L347.10,445.67 L347.43,445.72 L347.76,445.76 L348.10,445.80 L348.43,445.84 L348.76,445.87 L349.09,445.91 L349.43,445.94 L349.76,445.98 L350.09,446.01 L350.42,446.04 L350.76,446.07 L351.09,446.10 L351.42,446.13 L351.76,446.16 L352.09,446.19 L352.42,446.22 L352.75,446.25 L353.09,446.28 L353.42,446.31 L353.75,446.34 L354.08,446.36 L354.42,446.39 L354.75,446.42 L355.08,446.44 L355.41,446.47 L355.75,446.50 L356.08,446.52 L356.41,446.55 L356.74,446.57 L357.08,446.59 L357.41,446.62 L357.74,446.64 L358.07,446.66 L358.41,446.68 L358.74,446.70 L359.07,446.73 L359.41,446.75 L359.74,446.77 L360.07,446.78 L360.40,446.80 L360.74,446.82 L361.07,446.84 L361.40,446.86 L361.73,446.87 L362.07,446.89 L362.40,446.90 L362.73,446.92 L363.06,446.93 L363.40,446.94 L363.73,446.96 L364.06,446.97 L364.39,446.98 L364.73,446.99 L365.06,447.00 L365.39,447.01 L365.73,447.02 L366.06,447.03 L366.39,447.04 L366.72,447.05 L367.06,447.06 L367.39,447.07 L367.72,447.08 L368.05,447.09 L368.39,447.10 L368.72,447.11 L369.05,447.12 L369.38,447.13 L369.72,447.14 L370.05,447.14 L370.38,447.15 L370.71,447.16 L371.05,447.17 L371.38,447.18 L371.71,447.19 L372.05,447.20 L372.38,447.21 L372.71,447.21 L373.04,447.22 L373.38,447.23 L373.71,447.24 L374.04,447.25 L374.37,447.25 L374.71,447.26 L375.04,447.27 L375.37,447.28 L375.70,447.29 L376.04,447.29 L376.37,447.30 L376.70,447.31 L377.03,447.31 L377.37,447.32 L377.70,447.33 L378.03,447.34 L378.36,447.34 L378.70,447.35 L379.03,447.36 L379.36,447.36 L379.70,447.37 L380.03,447.37 L380.36,447.38 L380.69,447.39 L381.03,447.39 L381.36,447.40 L381.69,447.40 L382.02,447.41 L382.36,447.41 L382.69,447.42 L383.02,447.42 L383.35,447.43 L383.69,447.43 L384.02,447.44 L384.35,447.44 L384.68,447.45 L385.02,447.45 L385.35,447.45 L385.68,447.46 L386.01,447.46 L386.35,447.46 L386.68,447.47 L387.01,447.47 L387.35,447.47 L387.68,447.48 L388.01,447.48 L388.34,447.48 L388.68,447.48 L389.01,447.49 L389.34,447.49 L389.67,447.49 L390.01,447.49 L390.34,447.49 L390.67,447.50 L391.00,447.50 L391.34,447.50 L391.67,447.50 L392.00,447.50 L392.33,447.50 L392.67,447.50 L393.00,447.50" fill="none" stroke="#26406e" stroke-width="1.6" stroke-linejoin="round"/>
<path d="M253.30,447.30 L253.63,447.30 L253.97,447.30 L254.30,447.30 L254.63,447.30 L254.96,447.30 L255.30,447.30 L255.63,447.30 L255.96,447.30 L256.29,447.30 L256.63,447.30 L256.96,447.30 L257.29,447.30 L257.62,447.30 L257.96,447.30 L258.29,447.30 L258.62,447.30 L258.95,447.30 L259.29,447.30 L259.62,447.30 L259.95,447.30 L260.29,447.30 L260.62,447.30 L260.95,447.30 L261.28,447.29 L261.62,447.29 L261.95,447.29 L262.28,447.29 L262.61,447.29 L262.95,447.29 L263.28,447.29 L263.61,447.29 L263.94,447.29 L264.28,447.29 L264.61,447.29 L264.94,447.29 L265.27,447.29 L265.61,447.29 L265.94,447.29 L266.27,447.28 L266.60,447.28 L266.94,447.28 L267.27,447.28 L267.60,447.28 L267.94,447.28 L268.27,447.28 L268.60,447.28 L268.93,447.28 L269.27,447.28 L269.60,447.27 L269.93,447.27 L270.26,447.27 L270.60,447.27 L270.93,447.27 L271.26,447.27 L271.59,447.27 L271.93,447.26 L272.26,447.26 L272.59,447.26 L272.92,447.26 L273.26,447.26 L273.59,447.26 L273.92,447.26 L274.25,447.25 L274.59,447.25 L274.92,447.25 L275.25,447.25 L275.59,447.25 L275.92,447.24 L276.25,447.24 L276.58,447.24 L276.92,447.24 L277.25,447.24 L277.58,447.23 L277.91,447.23 L278.25,447.23 L278.58,447.23 L278.91,447.23 L279.24,447.22 L279.58,447.22 L279.91,447.22 L280.24,447.22 L280.57,447.21 L280.91,447.21 L281.24,447.21 L281.57,447.21 L281.91,447.20 L282.24,447.20 L282.57,447.20 L282.90,447.20 L283.24,447.19 L283.57,447.19 L283.90,447.19 L284.23,447.18 L284.57,447.18 L284.90,447.18 L285.23,447.17 L285.56,447.17 L285.90,447.17 L286.23,447.17 L286.56,447.16 L286.89,447.16 L287.23,447.15 L287.56,447.15 L287.89,447.15 L288.23,447.14 L288.56,447.14 L288.89,447.14 L289.22,447.13 L289.56,447.13 L289.89,447.13 L290.22,447.12 L290.55,447.12 L290.89,447.11 L291.22,447.11 L291.55,447.11 L291.88,447.10 L292.22,447.10 L292.55,447.09 L292.88,447.08 L293.21,447.06 L293.55,447.04 L293.88,447.02 L294.21,446.99 L294.54,446.96 L294.88,446.93 L295.21,446.89 L295.54,446.85 L295.88,446.80 L296.21,446.75 L296.54,446.70 L296.87,446.64 L297.21,446.58 L297.54,446.51 L297.87,446.44 L298.20,446.37 L298.54,446.29 L298.87,446.16 L299.20,445.97 L299.53,445.71 L299.87,445.40 L300.20,445.05 L300.53,444.66 L300.86,444.24 L301.20,443.81 L301.53,443.36 L301.86,442.86 L302.19,442.27 L302.53,441.60 L302.86,440.87 L303.19,440.09 L303.53,439.25 L303.86,438.36 L304.19,437.29 L304.52,436.10 L304.86,434.87 L305.19,433.69 L305.52,432.63 L305.85,431.66 L306.19,430.73 L306.52,429.82 L306.85,428.90 L307.18,427.95 L307.52,426.88 L307.85,425.77 L308.18,424.75 L308.51,423.95 L308.85,423.40 L309.18,422.88 L309.51,422.43 L309.85,422.09 L310.18,421.91 L310.51,421.93 L310.84,422.07 L311.18,422.32 L311.51,422.64 L311.84,423.02 L312.17,423.42 L312.51,423.83 L312.84,424.22 L313.17,424.58 L313.50,424.96 L313.84,425.36 L314.17,425.77 L314.50,426.20 L314.83,426.64 L315.17,427.08 L315.50,427.53 L315.83,427.98 L316.17,428.42 L316.50,428.86 L316.83,429.28 L317.16,429.69 L317.50,430.08 L317.83,430.45 L318.16,430.82 L318.49,431.19 L318.83,431.55 L319.16,431.91 L319.49,432.27 L319.82,432.62 L320.16,432.96 L320.49,433.30 L320.82,433.64 L321.15,433.97 L321.49,434.29 L321.82,434.60 L322.15,434.91 L322.48,435.21 L322.82,435.51 L323.15,435.79 L323.48,436.07 L323.82,436.34 L324.15,436.60 L324.48,436.86 L324.81,437.12 L325.15,437.37 L325.48,437.62 L325.81,437.86 L326.14,438.10 L326.48,438.33 L326.81,438.56 L327.14,438.78 L327.47,439.00 L327.81,439.21 L328.14,439.42 L328.47,439.63 L328.80,439.83 L329.14,440.02 L329.47,440.22 L329.80,440.41 L330.13,440.60 L330.47,440.78 L330.80,440.97 L331.13,441.15 L331.47,441.33 L331.80,441.50 L332.13,441.67 L332.46,441.84 L332.80,442.00 L333.13,442.16 L333.46,442.31 L333.79,442.46 L334.13,442.60 L334.46,442.73 L334.79,442.86 L335.12,442.98 L335.46,443.10 L335.79,443.22 L336.12,443.33 L336.45,443.45 L336.79,443.56 L337.12,443.66 L337.45,443.77 L337.79,443.87 L338.12,443.96 L338.45,444.06 L338.78,444.15 L339.12,444.23 L339.45,444.32 L339.78,444.40 L340.11,444.47 L340.45,444.55 L340.78,444.62 L341.11,444.68 L341.44,444.75 L341.78,444.81 L342.11,444.88 L342.44,444.94 L342.77,445.00 L343.11,445.06 L343.44,445.12 L343.77,445.17 L344.11,445.23 L344.44,445.28 L344.77,445.34 L345.10,445.39 L345.44,445.44 L345.77,445.49 L346.10,445.54 L346.43,445.58 L346.77,445.63 L347.10,445.67 L347.43,445.72 L347.76,445.76 L348.10,445.80 L348.43,445.84 L348.76,445.87 L349.09,445.91 L349.43,445.94 L349.76,445.98 L350.09,446.01 L350.42,446.04 L350.76,446.07 L351.09,446.10 L351.42,446.13 L351.76,446.16 L352.09,446.19 L352.42,446.22 L352.75,446.25 L353.09,446.28 L353.42,446.31 L353.75,446.34 L354.08,446.36 L354.42,446.39 L354.75,446.42 L355.08,446.44 L355.41,446.47 L355.75,446.50 L356.08,446.52 L356.41,446.55 L356.74,446.57 L357.08,446.59 L357.41,446.62 L357.74,446.64 L358.07,446.66 L358.41,446.68 L358.74,446.70 L359.07,446.73 L359.41,446.75 L359.74,446.77 L360.07,446.78 L360.40,446.80 L360.74,446.82 L361.07,446.84 L361.40,446.86 L361.73,446.87 L362.07,446.89 L362.40,446.90 L362.73,446.92 L363.06,446.93 L363.40,446.94 L363.73,446.96 L364.06,446.97 L364.39,446.98 L364.73,446.99 L365.06,447.00 L365.39,447.01 L365.73,447.02 L366.06,447.03 L366.39,447.04 L366.72,447.05 L367.06,447.06 L367.39,447.07 L367.72,447.08 L368.05,447.09 L368.39,447.10 L368.72,447.11 L369.05,447.12 L369.38,447.13 L369.72,447.14 L370.05,447.14 L370.38,447.15 L370.71,447.16 L371.05,447.17 L371.38,447.18 L371.71,447.19 L372.05,447.20 L372.38,447.21 L372.71,447.21 L373.04,447.22 L373.38,447.23 L373.71,447.24 L374.04,447.25 L374.37,447.25 L374.71,447.26 L375.04,447.27 L375.37,447.28 L375.70,447.29 L376.04,447.29 L376.37,447.30 L376.70,447.31 L377.03,447.31 L377.37,447.32 L377.70,447.33 L378.03,447.34 L378.36,447.34 L378.70,447.35 L379.03,447.36 L379.36,447.36 L379.70,447.37 L380.03,447.37 L380.36,447.38 L380.69,447.39 L381.03,447.39 L381.36,447.40 L381.69,447.40 L382.02,447.41 L382.36,447.41 L382.69,447.42 L383.02,447.42 L383.35,447.43 L383.69,447.43 L384.02,447.44 L384.35,447.44 L384.68,447.45 L385.02,447.45 L385.35,447.45 L385.68,447.46 L386.01,447.46 L386.35,447.46 L386.68,447.47 L387.01,447.47 L387.35,447.47 L387.68,447.48 L388.01,447.48 L388.34,447.48 L388.68,447.48 L389.01,447.49 L389.34,447.49 L389.67,447.49 L390.01,447.49 L390.34,447.49 L390.67,447.50 L391.00,447.50 L391.34,447.50 L391.67,447.50 L392.00,447.50 L392.33,447.50 L392.67,447.50 L393.00,447.50" fill="none" stroke="#243d6c" stroke-width="1.0"/>
<g fill="#fff" stroke="#243d6c" stroke-width="1.25"><circle cx="253.30" cy="447.30" r="1.4"/><circle cx="254.46" cy="447.30" r="1.4"/><circle cx="255.62" cy="447.30" r="1.4"/><circle cx="256.78" cy="447.30" r="1.4"/><circle cx="257.95" cy="447.30" r="1.4"/><circle cx="259.11" cy="447.30" r="1.4"/><circle cx="260.27" cy="447.30" r="1.4"/><circle cx="261.43" cy="447.29" r="1.4"/><circle cx="262.59" cy="447.29" r="1.4"/><circle cx="263.75" cy="447.29" r="1.4"/><circle cx="264.92" cy="447.29" r="1.4"/><circle cx="266.08" cy="447.28" r="1.4"/><circle cx="267.24" cy="447.28" r="1.4"/><circle cx="268.40" cy="447.28" r="1.4"/><circle cx="269.56" cy="447.27" r="1.4"/><circle cx="270.72" cy="447.27" r="1.4"/><circle cx="271.89" cy="447.26" r="1.4"/><circle cx="273.05" cy="447.26" r="1.4"/><circle cx="274.21" cy="447.25" r="1.4"/><circle cx="275.37" cy="447.25" r="1.4"/><circle cx="276.53" cy="447.24" r="1.4"/><circle cx="277.69" cy="447.23" r="1.4"/><circle cx="278.86" cy="447.23" r="1.4"/><circle cx="280.02" cy="447.22" r="1.4"/><circle cx="281.18" cy="447.21" r="1.4"/><circle cx="282.34" cy="447.20" r="1.4"/><circle cx="283.50" cy="447.19" r="1.4"/><circle cx="284.66" cy="447.18" r="1.4"/><circle cx="285.83" cy="447.17" r="1.4"/><circle cx="286.99" cy="447.16" r="1.4"/><circle cx="288.15" cy="447.15" r="1.4"/><circle cx="289.31" cy="447.13" r="1.4"/><circle cx="290.47" cy="447.12" r="1.4"/><circle cx="291.63" cy="447.10" r="1.4"/><circle cx="292.80" cy="447.08" r="1.4"/><circle cx="293.96" cy="447.01" r="1.4"/><circle cx="295.12" cy="446.90" r="1.4"/><circle cx="296.28" cy="446.74" r="1.4"/><circle cx="297.44" cy="446.53" r="1.4"/><circle cx="298.60" cy="446.27" r="1.4"/><circle cx="299.77" cy="445.50" r="1.4"/><circle cx="300.93" cy="444.16" r="1.4"/><circle cx="302.09" cy="442.46" r="1.4"/><circle cx="303.25" cy="439.94" r="1.4"/><circle cx="304.41" cy="436.50" r="1.4"/><circle cx="305.57" cy="432.47" r="1.4"/><circle cx="306.74" cy="429.22" r="1.4"/><circle cx="307.90" cy="425.61" r="1.4"/><circle cx="309.06" cy="423.06" r="1.4"/><circle cx="310.22" cy="421.91" r="1.4"/><circle cx="311.38" cy="422.51" r="1.4"/><circle cx="312.54" cy="423.88" r="1.4"/><circle cx="313.71" cy="425.20" r="1.4"/><circle cx="314.87" cy="426.68" r="1.4"/><circle cx="316.03" cy="428.24" r="1.4"/><circle cx="317.19" cy="429.73" r="1.4"/><circle cx="318.35" cy="431.04" r="1.4"/><circle cx="319.51" cy="432.29" r="1.4"/><circle cx="320.68" cy="433.49" r="1.4"/><circle cx="321.84" cy="434.62" r="1.4"/><circle cx="323.00" cy="435.66" r="1.4"/><circle cx="324.16" cy="436.61" r="1.4"/><circle cx="325.32" cy="437.50" r="1.4"/><circle cx="326.48" cy="438.33" r="1.4"/><circle cx="327.65" cy="439.11" r="1.4"/><circle cx="328.81" cy="439.83" r="1.4"/><circle cx="329.97" cy="440.50" r="1.4"/><circle cx="331.13" cy="441.15" r="1.4"/><circle cx="332.29" cy="441.75" r="1.4"/><circle cx="333.45" cy="442.31" r="1.4"/><circle cx="334.62" cy="442.79" r="1.4"/><circle cx="335.78" cy="443.22" r="1.4"/><circle cx="336.94" cy="443.60" r="1.4"/><circle cx="338.10" cy="443.96" r="1.4"/><circle cx="339.26" cy="444.27" r="1.4"/><circle cx="340.42" cy="444.54" r="1.4"/><circle cx="341.59" cy="444.78" r="1.4"/><circle cx="342.75" cy="444.99" r="1.4"/><circle cx="343.91" cy="445.20" r="1.4"/><circle cx="345.07" cy="445.38" r="1.4"/><circle cx="346.23" cy="445.56" r="1.4"/><circle cx="347.39" cy="445.71" r="1.4"/><circle cx="348.56" cy="445.85" r="1.4"/><circle cx="349.72" cy="445.97" r="1.4"/><circle cx="350.88" cy="446.08" r="1.4"/><circle cx="352.04" cy="446.19" r="1.4"/><circle cx="353.20" cy="446.29" r="1.4"/><circle cx="354.36" cy="446.39" r="1.4"/><circle cx="355.53" cy="446.48" r="1.4"/><circle cx="356.69" cy="446.57" r="1.4"/><circle cx="357.85" cy="446.65" r="1.4"/><circle cx="359.01" cy="446.72" r="1.4"/><circle cx="360.17" cy="446.79" r="1.4"/><circle cx="361.33" cy="446.85" r="1.4"/><circle cx="362.50" cy="446.91" r="1.4"/><circle cx="363.66" cy="446.95" r="1.4"/><circle cx="364.82" cy="446.99" r="1.4"/><circle cx="365.98" cy="447.03" r="1.4"/><circle cx="367.14" cy="447.06" r="1.4"/><circle cx="368.30" cy="447.10" r="1.4"/><circle cx="369.47" cy="447.13" r="1.4"/><circle cx="370.63" cy="447.16" r="1.4"/><circle cx="371.79" cy="447.19" r="1.4"/><circle cx="372.95" cy="447.22" r="1.4"/><circle cx="374.11" cy="447.25" r="1.4"/><circle cx="375.27" cy="447.28" r="1.4"/><circle cx="376.44" cy="447.30" r="1.4"/><circle cx="377.60" cy="447.33" r="1.4"/><circle cx="378.76" cy="447.35" r="1.4"/><circle cx="379.92" cy="447.37" r="1.4"/><circle cx="381.08" cy="447.39" r="1.4"/><circle cx="382.24" cy="447.41" r="1.4"/><circle cx="383.41" cy="447.43" r="1.4"/><circle cx="384.57" cy="447.44" r="1.4"/><circle cx="385.73" cy="447.46" r="1.4"/><circle cx="386.89" cy="447.47" r="1.4"/><circle cx="388.05" cy="447.48" r="1.4"/><circle cx="389.21" cy="447.49" r="1.4"/><circle cx="390.38" cy="447.49" r="1.4"/><circle cx="391.54" cy="447.50" r="1.4"/><circle cx="392.70" cy="447.50" r="1.4"/></g>
<path d="M46.40,612.00 L46.73,612.00 L47.07,612.00 L47.40,612.00 L47.73,612.00 L48.06,612.00 L48.40,612.00 L48.73,612.00 L49.06,612.00 L49.39,612.00 L49.73,612.00 L50.06,612.00 L50.39,612.00 L50.72,612.00 L51.06,612.00 L51.39,612.00 L51.72,612.00 L52.05,612.00 L52.39,612.00 L52.72,612.00 L53.05,612.00 L53.38,612.00 L53.72,612.00 L54.05,612.00 L54.38,612.00 L54.71,612.00 L55.05,612.00 L55.38,612.00 L55.71,611.99 L56.04,611.99 L56.38,611.99 L56.71,611.99 L57.04,611.99 L57.37,611.99 L57.71,611.99 L58.04,611.99 L58.37,611.99 L58.70,611.99 L59.04,611.99 L59.37,611.99 L59.70,611.99 L60.03,611.99 L60.37,611.98 L60.70,611.98 L61.03,611.98 L61.36,611.98 L61.70,611.98 L62.03,611.98 L62.36,611.98 L62.69,611.98 L63.03,611.98 L63.36,611.97 L63.69,611.97 L64.02,611.97 L64.36,611.97 L64.69,611.97 L65.02,611.97 L65.35,611.97 L65.69,611.96 L66.02,611.96 L66.35,611.96 L66.69,611.96 L67.02,611.96 L67.35,611.96 L67.68,611.95 L68.02,611.95 L68.35,611.95 L68.68,611.95 L69.01,611.95 L69.35,611.94 L69.68,611.94 L70.01,611.94 L70.34,611.94 L70.68,611.93 L71.01,611.93 L71.34,611.93 L71.67,611.93 L72.01,611.92 L72.34,611.92 L72.67,611.92 L73.00,611.91 L73.34,611.91 L73.67,611.91 L74.00,611.91 L74.33,611.90 L74.67,611.90 L75.00,611.90 L75.33,611.89 L75.66,611.89 L76.00,611.89 L76.33,611.88 L76.66,611.88 L76.99,611.87 L77.33,611.87 L77.66,611.87 L77.99,611.86 L78.32,611.86 L78.66,611.85 L78.99,611.85 L79.32,611.85 L79.65,611.84 L79.99,611.84 L80.32,611.83 L80.65,611.83 L80.98,611.82 L81.32,611.82 L81.65,611.81 L81.98,611.81 L82.31,611.80 L82.65,611.79 L82.98,611.71 L83.31,611.56 L83.64,611.38 L83.98,611.17 L84.31,610.97 L84.64,610.73 L84.97,610.47 L85.31,610.17 L85.64,609.85 L85.97,609.50 L86.30,609.12 L86.64,608.72 L86.97,608.30 L87.30,607.85 L87.64,607.38 L87.97,606.89 L88.30,606.38 L88.63,605.85 L88.97,605.31 L89.30,604.75 L89.63,604.17 L89.96,603.53 L90.30,602.82 L90.63,602.04 L90.96,601.21 L91.29,600.33 L91.63,599.40 L91.96,598.44 L92.29,597.44 L92.62,596.41 L92.96,595.36 L93.29,594.29 L93.62,593.19 L93.95,591.97 L94.29,590.62 L94.62,589.19 L94.95,587.74 L95.28,586.31 L95.62,584.96 L95.95,583.72 L96.28,582.65 L96.61,581.64 L96.95,580.66 L97.28,579.71 L97.61,578.82 L97.94,578.00 L98.28,577.27 L98.61,576.64 L98.94,576.14 L99.27,575.70 L99.61,575.26 L99.94,574.84 L100.27,574.44 L100.60,574.09 L100.94,573.78 L101.27,573.53 L101.60,573.34 L101.93,573.23 L102.27,573.20 L102.60,573.25 L102.93,573.36 L103.26,573.52 L103.60,573.72 L103.93,573.97 L104.26,574.24 L104.59,574.54 L104.93,574.85 L105.26,575.17 L105.59,575.49 L105.92,575.85 L106.26,576.27 L106.59,576.76 L106.92,577.29 L107.26,577.87 L107.59,578.48 L107.92,579.10 L108.25,579.74 L108.59,580.37 L108.92,581.00 L109.25,581.60 L109.58,582.17 L109.92,582.73 L110.25,583.29 L110.58,583.85 L110.91,584.42 L111.25,584.99 L111.58,585.56 L111.91,586.13 L112.24,586.69 L112.58,587.25 L112.91,587.80 L113.24,588.35 L113.57,588.88 L113.91,589.40 L114.24,589.90 L114.57,590.39 L114.90,590.87 L115.24,591.32 L115.57,591.77 L115.90,592.22 L116.23,592.66 L116.57,593.10 L116.90,593.52 L117.23,593.95 L117.56,594.36 L117.90,594.77 L118.23,595.17 L118.56,595.57 L118.89,595.96 L119.23,596.34 L119.56,596.71 L119.89,597.07 L120.22,597.43 L120.56,597.78 L120.89,598.12 L121.22,598.45 L121.55,598.77 L121.89,599.08 L122.22,599.39 L122.55,599.69 L122.88,600.00 L123.22,600.29 L123.55,600.59 L123.88,600.88 L124.21,601.17 L124.55,601.45 L124.88,601.73 L125.21,602.00 L125.54,602.27 L125.88,602.53 L126.21,602.79 L126.54,603.04 L126.88,603.28 L127.21,603.52 L127.54,603.75 L127.87,603.97 L128.21,604.18 L128.54,604.39 L128.87,604.59 L129.20,604.78 L129.54,604.96 L129.87,605.13 L130.20,605.30 L130.53,605.47 L130.87,605.63 L131.20,605.79 L131.53,605.94 L131.86,606.09 L132.20,606.24 L132.53,606.39 L132.86,606.53 L133.19,606.67 L133.53,606.81 L133.86,606.94 L134.19,607.07 L134.52,607.20 L134.86,607.32 L135.19,607.44 L135.52,607.56 L135.85,607.68 L136.19,607.79 L136.52,607.90 L136.85,608.01 L137.18,608.11 L137.52,608.21 L137.85,608.31 L138.18,608.40 L138.51,608.49 L138.85,608.58 L139.18,608.67 L139.51,608.75 L139.84,608.84 L140.18,608.92 L140.51,608.99 L140.84,609.07 L141.17,609.15 L141.51,609.22 L141.84,609.29 L142.17,609.36 L142.50,609.43 L142.84,609.49 L143.17,609.56 L143.50,609.62 L143.83,609.68 L144.17,609.73 L144.50,609.79 L144.83,609.84 L145.16,609.89 L145.50,609.93 L145.83,609.98 L146.16,610.02 L146.50,610.06 L146.83,610.10 L147.16,610.14 L147.49,610.18 L147.83,610.22 L148.16,610.26 L148.49,610.30 L148.82,610.33 L149.16,610.37 L149.49,610.41 L149.82,610.44 L150.15,610.48 L150.49,610.51 L150.82,610.55 L151.15,610.58 L151.48,610.61 L151.82,610.64 L152.15,610.67 L152.48,610.70 L152.81,610.73 L153.15,610.76 L153.48,610.79 L153.81,610.82 L154.14,610.85 L154.48,610.87 L154.81,610.90 L155.14,610.92 L155.47,610.95 L155.81,610.97 L156.14,611.00 L156.47,611.02 L156.80,611.04 L157.14,611.06 L157.47,611.08 L157.80,611.10 L158.13,611.12 L158.47,611.13 L158.80,611.15 L159.13,611.16 L159.46,611.18 L159.80,611.19 L160.13,611.20 L160.46,611.22 L160.79,611.23 L161.13,611.24 L161.46,611.26 L161.79,611.27 L162.12,611.28 L162.46,611.29 L162.79,611.30 L163.12,611.32 L163.45,611.33 L163.79,611.34 L164.12,611.35 L164.45,611.36 L164.78,611.37 L165.12,611.39 L165.45,611.40 L165.78,611.41 L166.11,611.42 L166.45,611.43 L166.78,611.44 L167.11,611.45 L167.45,611.46 L167.78,611.47 L168.11,611.48 L168.44,611.49 L168.78,611.50 L169.11,611.51 L169.44,611.52 L169.77,611.53 L170.11,611.54 L170.44,611.55 L170.77,611.56 L171.10,611.57 L171.44,611.58 L171.77,611.59 L172.10,611.60 L172.43,611.61 L172.77,611.62 L173.10,611.62 L173.43,611.63 L173.76,611.64 L174.10,611.65 L174.43,611.66 L174.76,611.66 L175.09,611.67 L175.43,611.68 L175.76,611.68 L176.09,611.69 L176.42,611.70 L176.76,611.70 L177.09,611.71 L177.42,611.72 L177.75,611.72 L178.09,611.73 L178.42,611.73 L178.75,611.74 L179.08,611.74 L179.42,611.75 L179.75,611.75 L180.08,611.76 L180.41,611.76 L180.75,611.77 L181.08,611.77 L181.41,611.77 L181.74,611.78 L182.08,611.78 L182.41,611.78 L182.74,611.79 L183.07,611.79 L183.41,611.79 L183.74,611.79 L184.07,611.79 L184.40,611.80 L184.74,611.80 L185.07,611.80 L185.40,611.80 L185.73,611.80 L186.07,611.80 L186.40,611.80" fill="none" stroke="#26406e" stroke-width="1.3" stroke-linejoin="round"/>
<path d="M56.80,612.20 L57.13,612.20 L57.47,612.20 L57.80,612.20 L58.13,612.20 L58.47,612.20 L58.80,612.20 L59.13,612.20 L59.47,612.20 L59.80,612.20 L60.13,612.20 L60.47,612.20 L60.80,612.20 L61.13,612.20 L61.47,612.20 L61.80,612.20 L62.13,612.20 L62.47,612.19 L62.80,612.19 L63.13,612.19 L63.46,612.19 L63.80,612.19 L64.13,612.19 L64.46,612.19 L64.80,612.19 L65.13,612.19 L65.46,612.19 L65.80,612.18 L66.13,612.18 L66.46,612.18 L66.80,612.18 L67.13,612.18 L67.46,612.18 L67.80,612.18 L68.13,612.17 L68.46,612.17 L68.80,612.17 L69.13,612.17 L69.46,612.17 L69.80,612.16 L70.13,612.16 L70.46,612.16 L70.80,612.16 L71.13,612.15 L71.46,612.15 L71.80,612.15 L72.13,612.15 L72.46,612.14 L72.80,612.14 L73.13,612.14 L73.46,612.14 L73.80,612.13 L74.13,612.13 L74.46,612.13 L74.80,612.12 L75.13,612.12 L75.46,612.12 L75.80,612.11 L76.13,612.11 L76.46,612.10 L76.79,612.10 L77.13,612.10 L77.46,612.09 L77.79,612.09 L78.13,612.08 L78.46,612.08 L78.79,612.07 L79.13,612.07 L79.46,612.07 L79.79,612.06 L80.13,612.06 L80.46,612.05 L80.79,612.05 L81.13,612.04 L81.46,612.03 L81.79,612.03 L82.13,612.02 L82.46,612.02 L82.79,612.01 L83.13,612.01 L83.46,612.00 L83.79,611.99 L84.13,611.99 L84.46,611.98 L84.79,611.97 L85.13,611.97 L85.46,611.96 L85.79,611.95 L86.13,611.95 L86.46,611.94 L86.79,611.93 L87.13,611.92 L87.46,611.92 L87.79,611.91 L88.13,611.90 L88.46,611.89 L88.79,611.88 L89.12,611.88 L89.46,611.87 L89.79,611.86 L90.12,611.85 L90.46,611.84 L90.79,611.83 L91.12,611.82 L91.46,611.81 L91.79,611.80 L92.12,611.79 L92.46,611.76 L92.79,611.70 L93.12,611.64 L93.46,611.56 L93.79,611.46 L94.12,611.36 L94.46,611.26 L94.79,611.14 L95.12,611.03 L95.46,610.91 L95.79,610.80 L96.12,610.67 L96.46,610.53 L96.79,610.38 L97.12,610.22 L97.46,610.04 L97.79,609.85 L98.12,609.64 L98.46,609.42 L98.79,609.18 L99.12,608.92 L99.46,608.61 L99.79,608.25 L100.12,607.85 L100.46,607.41 L100.79,606.95 L101.12,606.46 L101.46,605.95 L101.79,605.43 L102.12,604.90 L102.45,604.34 L102.79,603.72 L103.12,603.07 L103.45,602.39 L103.79,601.69 L104.12,600.96 L104.45,600.23 L104.79,599.49 L105.12,598.75 L105.45,598.02 L105.79,597.29 L106.12,596.52 L106.45,595.71 L106.79,594.88 L107.12,594.05 L107.45,593.23 L107.79,592.43 L108.12,591.68 L108.45,590.98 L108.79,590.36 L109.12,589.81 L109.45,589.26 L109.79,588.71 L110.12,588.16 L110.45,587.64 L110.79,587.16 L111.12,586.74 L111.45,586.40 L111.79,586.15 L112.12,586.02 L112.45,586.01 L112.79,586.05 L113.12,586.15 L113.45,586.28 L113.79,586.45 L114.12,586.65 L114.45,586.87 L114.79,587.10 L115.12,587.35 L115.45,587.61 L115.78,587.87 L116.12,588.18 L116.45,588.55 L116.78,588.98 L117.12,589.46 L117.45,589.97 L117.78,590.51 L118.12,591.06 L118.45,591.62 L118.78,592.17 L119.12,592.71 L119.45,593.23 L119.78,593.72 L120.12,594.21 L120.45,594.71 L120.78,595.22 L121.12,595.72 L121.45,596.22 L121.78,596.71 L122.12,597.18 L122.45,597.62 L122.78,598.04 L123.12,598.42 L123.45,598.77 L123.78,599.10 L124.12,599.41 L124.45,599.71 L124.78,600.00 L125.12,600.28 L125.45,600.55 L125.78,600.81 L126.12,601.08 L126.45,601.34 L126.78,601.61 L127.12,601.87 L127.45,602.14 L127.78,602.41 L128.11,602.67 L128.45,602.93 L128.78,603.19 L129.11,603.44 L129.45,603.68 L129.78,603.92 L130.11,604.15 L130.45,604.37 L130.78,604.58 L131.11,604.78 L131.45,604.97 L131.78,605.16 L132.11,605.35 L132.45,605.53 L132.78,605.71 L133.11,605.88 L133.45,606.06 L133.78,606.23 L134.11,606.41 L134.45,606.58 L134.78,606.76 L135.11,606.94 L135.45,607.11 L135.78,607.28 L136.11,607.45 L136.45,607.62 L136.78,607.79 L137.11,607.94 L137.45,608.10 L137.78,608.25 L138.11,608.39 L138.45,608.53 L138.78,608.68 L139.11,608.81 L139.45,608.95 L139.78,609.09 L140.11,609.21 L140.45,609.34 L140.78,609.46 L141.11,609.57 L141.44,609.67 L141.78,609.77 L142.11,609.86 L142.44,609.94 L142.78,610.02 L143.11,610.10 L143.44,610.18 L143.78,610.25 L144.11,610.32 L144.44,610.38 L144.78,610.43 L145.11,610.48 L145.44,610.52 L145.78,610.55 L146.11,610.59 L146.44,610.63 L146.78,610.66 L147.11,610.70 L147.44,610.73 L147.78,610.76 L148.11,610.80 L148.44,610.83 L148.78,610.86 L149.11,610.89 L149.44,610.92 L149.78,610.95 L150.11,610.98 L150.44,611.01 L150.78,611.03 L151.11,611.06 L151.44,611.08 L151.78,611.11 L152.11,611.13 L152.44,611.16 L152.78,611.18 L153.11,611.20 L153.44,611.22 L153.78,611.24 L154.11,611.26 L154.44,611.28 L154.77,611.30 L155.11,611.32 L155.44,611.34 L155.77,611.35 L156.11,611.37 L156.44,611.38 L156.77,611.40 L157.11,611.41 L157.44,611.42 L157.77,611.44 L158.11,611.45 L158.44,611.46 L158.77,611.47 L159.11,611.48 L159.44,611.49 L159.77,611.50 L160.11,611.50 L160.44,611.51 L160.77,611.52 L161.11,611.52 L161.44,611.53 L161.77,611.54 L162.11,611.54 L162.44,611.55 L162.77,611.56 L163.11,611.56 L163.44,611.57 L163.77,611.58 L164.11,611.58 L164.44,611.59 L164.77,611.59 L165.11,611.60 L165.44,611.61 L165.77,611.61 L166.11,611.62 L166.44,611.62 L166.77,611.63 L167.10,611.63 L167.44,611.64 L167.77,611.64 L168.10,611.65 L168.44,611.66 L168.77,611.66 L169.10,611.67 L169.44,611.67 L169.77,611.68 L170.10,611.68 L170.44,611.68 L170.77,611.69 L171.10,611.69 L171.44,611.70 L171.77,611.70 L172.10,611.71 L172.44,611.71 L172.77,611.72 L173.10,611.72 L173.44,611.72 L173.77,611.73 L174.10,611.73 L174.44,611.73 L174.77,611.74 L175.10,611.74 L175.44,611.74 L175.77,611.75 L176.10,611.75 L176.44,611.75 L176.77,611.76 L177.10,611.76 L177.44,611.76 L177.77,611.77 L178.10,611.77 L178.44,611.77 L178.77,611.77 L179.10,611.78 L179.44,611.78 L179.77,611.78 L180.10,611.78 L180.43,611.78 L180.77,611.79 L181.10,611.79 L181.43,611.79 L181.77,611.79 L182.10,611.79 L182.43,611.79 L182.77,611.79 L183.10,611.80 L183.43,611.80 L183.77,611.80 L184.10,611.80 L184.43,611.80 L184.77,611.80 L185.10,611.80 L185.43,611.80 L185.77,611.80 L186.10,611.80" fill="none" stroke="#243d6c" stroke-width="1.0"/>
<g fill="#fff" stroke="#243d6c" stroke-width="1.2"><circle cx="56.85" cy="612.20" r="1.35"/><circle cx="63.82" cy="612.19" r="1.35"/><circle cx="67.31" cy="612.18" r="1.35"/><circle cx="74.28" cy="612.13" r="1.35"/><circle cx="77.76" cy="612.09" r="1.35"/><circle cx="81.25" cy="612.04" r="1.35"/><circle cx="84.73" cy="611.97" r="1.35"/><circle cx="88.22" cy="611.90" r="1.35"/><circle cx="91.70" cy="611.81" r="1.35"/><circle cx="95.19" cy="611.01" r="1.35"/><circle cx="98.67" cy="609.27" r="1.35"/><circle cx="102.16" cy="604.85" r="1.35"/><circle cx="105.64" cy="597.61" r="1.35"/><circle cx="109.12" cy="589.80" r="1.35"/><circle cx="112.61" cy="586.02" r="1.35"/><circle cx="116.09" cy="588.15" r="1.35"/><circle cx="119.58" cy="593.43" r="1.35"/><circle cx="123.06" cy="598.36" r="1.35"/><circle cx="126.55" cy="601.42" r="1.35"/><circle cx="130.03" cy="604.09" r="1.35"/><circle cx="133.52" cy="606.10" r="1.35"/><circle cx="137.00" cy="607.89" r="1.35"/><circle cx="140.49" cy="609.35" r="1.35"/><circle cx="143.97" cy="610.29" r="1.35"/><circle cx="147.46" cy="610.73" r="1.35"/><circle cx="150.94" cy="611.05" r="1.35"/><circle cx="154.43" cy="611.28" r="1.35"/><circle cx="157.91" cy="611.44" r="1.35"/><circle cx="161.40" cy="611.53" r="1.35"/><circle cx="164.88" cy="611.60" r="1.35"/><circle cx="168.37" cy="611.65" r="1.35"/><circle cx="171.85" cy="611.70" r="1.35"/><circle cx="175.34" cy="611.74" r="1.35"/><circle cx="178.82" cy="611.77" r="1.35"/><circle cx="182.31" cy="611.79" r="1.35"/><circle cx="185.79" cy="611.80" r="1.35"/></g>
<path d="M253.30,611.50 L253.63,611.50 L253.97,611.50 L254.30,611.50 L254.63,611.50 L254.96,611.50 L255.30,611.50 L255.63,611.50 L255.96,611.50 L256.29,611.50 L256.63,611.50 L256.96,611.50 L257.29,611.50 L257.62,611.50 L257.96,611.50 L258.29,611.50 L258.62,611.50 L258.95,611.50 L259.29,611.49 L259.62,611.49 L259.95,611.49 L260.29,611.49 L260.62,611.49 L260.95,611.49 L261.28,611.49 L261.62,611.49 L261.95,611.49 L262.28,611.49 L262.61,611.49 L262.95,611.49 L263.28,611.48 L263.61,611.48 L263.94,611.48 L264.28,611.48 L264.61,611.48 L264.94,611.48 L265.27,611.48 L265.61,611.48 L265.94,611.47 L266.27,611.47 L266.60,611.47 L266.94,611.47 L267.27,611.47 L267.60,611.47 L267.94,611.47 L268.27,611.46 L268.60,611.46 L268.93,611.46 L269.27,611.46 L269.60,611.46 L269.93,611.45 L270.26,611.45 L270.60,611.45 L270.93,611.45 L271.26,611.45 L271.59,611.44 L271.93,611.44 L272.26,611.44 L272.59,611.44 L272.92,611.43 L273.26,611.43 L273.59,611.43 L273.92,611.43 L274.25,611.42 L274.59,611.42 L274.92,611.42 L275.25,611.41 L275.59,611.41 L275.92,611.41 L276.25,611.41 L276.58,611.40 L276.92,611.40 L277.25,611.40 L277.58,611.39 L277.91,611.39 L278.25,611.39 L278.58,611.38 L278.91,611.38 L279.24,611.37 L279.58,611.37 L279.91,611.37 L280.24,611.36 L280.57,611.36 L280.91,611.36 L281.24,611.35 L281.57,611.35 L281.91,611.34 L282.24,611.34 L282.57,611.33 L282.90,611.33 L283.24,611.33 L283.57,611.32 L283.90,611.32 L284.23,611.31 L284.57,611.31 L284.90,611.30 L285.23,611.30 L285.56,611.29 L285.90,611.28 L286.23,611.26 L286.56,611.24 L286.89,611.22 L287.23,611.20 L287.56,611.17 L287.89,611.14 L288.23,611.11 L288.56,611.08 L288.89,611.04 L289.22,611.00 L289.56,610.95 L289.89,610.90 L290.22,610.83 L290.55,610.72 L290.89,610.56 L291.22,610.37 L291.55,610.15 L291.88,609.88 L292.22,609.59 L292.55,609.27 L292.88,608.92 L293.21,608.54 L293.55,608.15 L293.88,607.73 L294.21,607.29 L294.54,606.84 L294.88,606.30 L295.21,605.66 L295.54,604.91 L295.88,604.05 L296.21,603.10 L296.54,602.06 L296.87,600.92 L297.21,599.71 L297.54,598.42 L297.87,597.05 L298.20,595.56 L298.54,593.73 L298.87,591.61 L299.20,589.24 L299.53,586.69 L299.87,584.00 L300.20,581.24 L300.53,578.29 L300.86,574.82 L301.20,571.12 L301.53,567.49 L301.86,564.25 L302.19,561.51 L302.53,558.66 L302.86,555.87 L303.19,553.41 L303.53,551.53 L303.86,550.51 L304.19,550.56 L304.52,551.49 L304.86,553.06 L305.19,555.04 L305.52,557.22 L305.85,559.37 L306.19,561.27 L306.52,563.18 L306.85,565.19 L307.18,567.25 L307.52,569.34 L307.85,571.39 L308.18,573.36 L308.51,575.24 L308.85,577.11 L309.18,579.01 L309.51,580.90 L309.85,582.76 L310.18,584.57 L310.51,586.31 L310.84,587.95 L311.18,589.46 L311.51,590.84 L311.84,592.04 L312.17,593.15 L312.51,594.22 L312.84,595.25 L313.17,596.24 L313.50,597.19 L313.84,598.09 L314.17,598.95 L314.50,599.76 L314.83,600.52 L315.17,601.23 L315.50,601.89 L315.83,602.49 L316.17,603.04 L316.50,603.54 L316.83,604.01 L317.16,604.48 L317.50,604.92 L317.83,605.35 L318.16,605.77 L318.49,606.17 L318.83,606.55 L319.16,606.91 L319.49,607.26 L319.82,607.58 L320.16,607.88 L320.49,608.16 L320.82,608.41 L321.15,608.64 L321.49,608.85 L321.82,609.03 L322.15,609.18 L322.48,609.31 L322.82,609.44 L323.15,609.57 L323.48,609.69 L323.82,609.81 L324.15,609.92 L324.48,610.03 L324.81,610.14 L325.15,610.24 L325.48,610.33 L325.81,610.42 L326.14,610.50 L326.48,610.57 L326.81,610.64 L327.14,610.70 L327.47,610.76 L327.81,610.80 L328.14,610.84 L328.47,610.87 L328.80,610.89 L329.14,610.90 L329.47,610.91 L329.80,610.92 L330.13,610.92 L330.47,610.93 L330.80,610.94 L331.13,610.95 L331.47,610.96 L331.80,610.96 L332.13,610.97 L332.46,610.98 L332.80,610.98 L333.13,610.99 L333.46,611.00 L333.79,611.01 L334.13,611.01 L334.46,611.02 L334.79,611.03 L335.12,611.03 L335.46,611.04 L335.79,611.05 L336.12,611.05 L336.45,611.06 L336.79,611.07 L337.12,611.07 L337.45,611.08 L337.79,611.09 L338.12,611.09 L338.45,611.10 L338.78,611.10 L339.12,611.11 L339.45,611.12 L339.78,611.12 L340.11,611.13 L340.45,611.13 L340.78,611.14 L341.11,611.15 L341.44,611.15 L341.78,611.16 L342.11,611.16 L342.44,611.17 L342.77,611.17 L343.11,611.18 L343.44,611.18 L343.77,611.19 L344.11,611.20 L344.44,611.20 L344.77,611.21 L345.10,611.21 L345.44,611.22 L345.77,611.22 L346.10,611.23 L346.43,611.23 L346.77,611.23 L347.10,611.24 L347.43,611.24 L347.76,611.25 L348.10,611.25 L348.43,611.26 L348.76,611.26 L349.09,611.27 L349.43,611.27 L349.76,611.28 L350.09,611.28 L350.42,611.28 L350.76,611.29 L351.09,611.29 L351.42,611.30 L351.76,611.30 L352.09,611.30 L352.42,611.31 L352.75,611.31 L353.09,611.32 L353.42,611.32 L353.75,611.32 L354.08,611.33 L354.42,611.33 L354.75,611.33 L355.08,611.34 L355.41,611.34 L355.75,611.34 L356.08,611.35 L356.41,611.35 L356.74,611.35 L357.08,611.36 L357.41,611.36 L357.74,611.36 L358.07,611.37 L358.41,611.37 L358.74,611.37 L359.07,611.38 L359.41,611.38 L359.74,611.38 L360.07,611.38 L360.40,611.39 L360.74,611.39 L361.07,611.39 L361.40,611.40 L361.73,611.40 L362.07,611.40 L362.40,611.40 L362.73,611.41 L363.06,611.41 L363.40,611.41 L363.73,611.41 L364.06,611.41 L364.39,611.42 L364.73,611.42 L365.06,611.42 L365.39,611.42 L365.73,611.43 L366.06,611.43 L366.39,611.43 L366.72,611.43 L367.06,611.43 L367.39,611.44 L367.72,611.44 L368.05,611.44 L368.39,611.44 L368.72,611.44 L369.05,611.45 L369.38,611.45 L369.72,611.45 L370.05,611.45 L370.38,611.45 L370.71,611.45 L371.05,611.46 L371.38,611.46 L371.71,611.46 L372.05,611.46 L372.38,611.46 L372.71,611.46 L373.04,611.46 L373.38,611.47 L373.71,611.47 L374.04,611.47 L374.37,611.47 L374.71,611.47 L375.04,611.47 L375.37,611.47 L375.70,611.47 L376.04,611.48 L376.37,611.48 L376.70,611.48 L377.03,611.48 L377.37,611.48 L377.70,611.48 L378.03,611.48 L378.36,611.48 L378.70,611.48 L379.03,611.48 L379.36,611.48 L379.70,611.49 L380.03,611.49 L380.36,611.49 L380.69,611.49 L381.03,611.49 L381.36,611.49 L381.69,611.49 L382.02,611.49 L382.36,611.49 L382.69,611.49 L383.02,611.49 L383.35,611.49 L383.69,611.49 L384.02,611.49 L384.35,611.49 L384.68,611.49 L385.02,611.50 L385.35,611.50 L385.68,611.50 L386.01,611.50 L386.35,611.50 L386.68,611.50 L387.01,611.50 L387.35,611.50 L387.68,611.50 L388.01,611.50 L388.34,611.50 L388.68,611.50 L389.01,611.50 L389.34,611.50 L389.67,611.50 L390.01,611.50 L390.34,611.50 L390.67,611.50 L391.00,611.50 L391.34,611.50 L391.67,611.50 L392.00,611.50 L392.33,611.50 L392.67,611.50 L393.00,611.50" fill="none" stroke="#26406e" stroke-width="1.3" stroke-linejoin="round"/>
<path d="M253.30,611.50 L253.63,611.50 L253.97,611.50 L254.30,611.50 L254.63,611.50 L254.96,611.50 L255.30,611.50 L255.63,611.50 L255.96,611.50 L256.29,611.50 L256.63,611.50 L256.96,611.50 L257.29,611.50 L257.62,611.50 L257.96,611.50 L258.29,611.49 L258.62,611.49 L258.95,611.49 L259.29,611.49 L259.62,611.49 L259.95,611.49 L260.29,611.49 L260.62,611.49 L260.95,611.49 L261.28,611.48 L261.62,611.48 L261.95,611.48 L262.28,611.48 L262.61,611.48 L262.95,611.48 L263.28,611.48 L263.61,611.47 L263.94,611.47 L264.28,611.47 L264.61,611.47 L264.94,611.47 L265.27,611.46 L265.61,611.46 L265.94,611.46 L266.27,611.46 L266.60,611.45 L266.94,611.45 L267.27,611.45 L267.60,611.45 L267.94,611.44 L268.27,611.44 L268.60,611.44 L268.93,611.43 L269.27,611.43 L269.60,611.43 L269.93,611.42 L270.26,611.42 L270.60,611.42 L270.93,611.41 L271.26,611.41 L271.59,611.40 L271.93,611.40 L272.26,611.40 L272.59,611.39 L272.92,611.39 L273.26,611.38 L273.59,611.38 L273.92,611.37 L274.25,611.37 L274.59,611.36 L274.92,611.36 L275.25,611.35 L275.59,611.35 L275.92,611.34 L276.25,611.34 L276.58,611.33 L276.92,611.33 L277.25,611.32 L277.58,611.31 L277.91,611.31 L278.25,611.30 L278.58,611.30 L278.91,611.29 L279.24,611.28 L279.58,611.28 L279.91,611.27 L280.24,611.26 L280.57,611.26 L280.91,611.25 L281.24,611.24 L281.57,611.23 L281.91,611.23 L282.24,611.22 L282.57,611.21 L282.90,611.20 L283.24,611.20 L283.57,611.19 L283.90,611.18 L284.23,611.17 L284.57,611.16 L284.90,611.15 L285.23,611.14 L285.56,611.13 L285.90,611.13 L286.23,611.12 L286.56,611.11 L286.89,611.10 L287.23,611.09 L287.56,611.08 L287.89,611.07 L288.23,611.06 L288.56,611.05 L288.89,611.04 L289.22,611.03 L289.56,611.01 L289.89,611.00 L290.22,610.99 L290.55,610.96 L290.89,610.92 L291.22,610.86 L291.55,610.79 L291.88,610.71 L292.22,610.61 L292.55,610.49 L292.88,610.37 L293.21,610.22 L293.55,610.07 L293.88,609.90 L294.21,609.72 L294.54,609.52 L294.88,609.31 L295.21,609.09 L295.54,608.85 L295.88,608.60 L296.21,608.34 L296.54,608.06 L296.87,607.77 L297.21,607.47 L297.54,607.16 L297.87,606.82 L298.20,606.26 L298.54,605.48 L298.87,604.60 L299.20,603.75 L299.53,602.92 L299.87,602.03 L300.20,601.04 L300.53,599.88 L300.86,598.29 L301.20,596.37 L301.53,594.46 L301.86,592.88 L302.19,591.58 L302.53,590.37 L302.86,589.02 L303.19,587.34 L303.53,584.87 L303.86,581.71 L304.19,578.47 L304.52,575.61 L304.86,572.84 L305.19,570.15 L305.52,567.54 L305.85,564.86 L306.19,562.24 L306.52,560.03 L306.85,558.28 L307.18,556.61 L307.52,555.39 L307.85,555.01 L308.18,555.71 L308.51,557.13 L308.85,558.84 L309.18,560.53 L309.51,562.57 L309.85,564.80 L310.18,567.01 L310.51,569.25 L310.84,571.54 L311.18,573.79 L311.51,575.91 L311.84,577.91 L312.17,579.88 L312.51,581.90 L312.84,584.07 L313.17,586.61 L313.50,589.04 L313.84,590.82 L314.17,592.35 L314.50,593.71 L314.83,594.93 L315.17,596.07 L315.50,597.13 L315.83,598.12 L316.17,599.04 L316.50,599.89 L316.83,600.70 L317.16,601.48 L317.50,602.27 L317.83,603.04 L318.16,603.78 L318.49,604.46 L318.83,605.05 L319.16,605.53 L319.49,605.90 L319.82,606.25 L320.16,606.57 L320.49,606.88 L320.82,607.18 L321.15,607.46 L321.49,607.72 L321.82,607.97 L322.15,608.20 L322.48,608.42 L322.82,608.62 L323.15,608.80 L323.48,608.97 L323.82,609.11 L324.15,609.24 L324.48,609.36 L324.81,609.45 L325.15,609.53 L325.48,609.61 L325.81,609.68 L326.14,609.75 L326.48,609.82 L326.81,609.89 L327.14,609.95 L327.47,610.01 L327.81,610.07 L328.14,610.13 L328.47,610.19 L328.80,610.24 L329.14,610.29 L329.47,610.34 L329.80,610.39 L330.13,610.43 L330.47,610.47 L330.80,610.51 L331.13,610.55 L331.47,610.58 L331.80,610.62 L332.13,610.65 L332.46,610.67 L332.80,610.70 L333.13,610.72 L333.46,610.74 L333.79,610.76 L334.13,610.77 L334.46,610.79 L334.79,610.80 L335.12,610.80 L335.46,610.81 L335.79,610.82 L336.12,610.82 L336.45,610.83 L336.79,610.84 L337.12,610.84 L337.45,610.85 L337.79,610.85 L338.12,610.86 L338.45,610.87 L338.78,610.87 L339.12,610.88 L339.45,610.89 L339.78,610.89 L340.11,610.90 L340.45,610.90 L340.78,610.91 L341.11,610.92 L341.44,610.92 L341.78,610.93 L342.11,610.93 L342.44,610.94 L342.77,610.94 L343.11,610.95 L343.44,610.95 L343.77,610.96 L344.11,610.96 L344.44,610.97 L344.77,610.98 L345.10,610.98 L345.44,610.99 L345.77,610.99 L346.10,611.00 L346.43,611.00 L346.77,611.01 L347.10,611.01 L347.43,611.02 L347.76,611.02 L348.10,611.02 L348.43,611.03 L348.76,611.03 L349.09,611.04 L349.43,611.04 L349.76,611.05 L350.09,611.05 L350.42,611.06 L350.76,611.06 L351.09,611.07 L351.42,611.07 L351.76,611.07 L352.09,611.08 L352.42,611.08 L352.75,611.09 L353.09,611.09 L353.42,611.09 L353.75,611.10 L354.08,611.10 L354.42,611.11 L354.75,611.11 L355.08,611.11 L355.41,611.12 L355.75,611.12 L356.08,611.12 L356.41,611.13 L356.74,611.13 L357.08,611.13 L357.41,611.14 L357.74,611.14 L358.07,611.14 L358.41,611.15 L358.74,611.15 L359.07,611.15 L359.41,611.16 L359.74,611.16 L360.07,611.16 L360.40,611.17 L360.74,611.17 L361.07,611.17 L361.40,611.18 L361.73,611.18 L362.07,611.18 L362.40,611.18 L362.73,611.19 L363.06,611.19 L363.40,611.19 L363.73,611.20 L364.06,611.20 L364.39,611.20 L364.73,611.20 L365.06,611.21 L365.39,611.21 L365.73,611.21 L366.06,611.21 L366.39,611.22 L366.72,611.22 L367.06,611.22 L367.39,611.22 L367.72,611.22 L368.05,611.23 L368.39,611.23 L368.72,611.23 L369.05,611.23 L369.38,611.23 L369.72,611.24 L370.05,611.24 L370.38,611.24 L370.71,611.24 L371.05,611.24 L371.38,611.25 L371.71,611.25 L372.05,611.25 L372.38,611.25 L372.71,611.25 L373.04,611.25 L373.38,611.26 L373.71,611.26 L374.04,611.26 L374.37,611.26 L374.71,611.26 L375.04,611.26 L375.37,611.27 L375.70,611.27 L376.04,611.27 L376.37,611.27 L376.70,611.27 L377.03,611.27 L377.37,611.27 L377.70,611.27 L378.03,611.28 L378.36,611.28 L378.70,611.28 L379.03,611.28 L379.36,611.28 L379.70,611.28 L380.03,611.28 L380.36,611.28 L380.69,611.28 L381.03,611.28 L381.36,611.29 L381.69,611.29 L382.02,611.29 L382.36,611.29 L382.69,611.29 L383.02,611.29 L383.35,611.29 L383.69,611.29 L384.02,611.29 L384.35,611.29 L384.68,611.29 L385.02,611.29 L385.35,611.29 L385.68,611.29 L386.01,611.30 L386.35,611.30 L386.68,611.30 L387.01,611.30 L387.35,611.30 L387.68,611.30 L388.01,611.30 L388.34,611.30 L388.68,611.30 L389.01,611.30 L389.34,611.30 L389.67,611.30 L390.01,611.30 L390.34,611.30 L390.67,611.30 L391.00,611.30 L391.34,611.30 L391.67,611.30 L392.00,611.30 L392.33,611.30 L392.67,611.30 L393.00,611.30" fill="none" stroke="#243d6c" stroke-width="1.0"/>
<g fill="#fff" stroke="#243d6c" stroke-width="1.2"><circle cx="253.30" cy="611.50" r="1.35"/><circle cx="254.46" cy="611.50" r="1.35"/><circle cx="255.62" cy="611.50" r="1.35"/><circle cx="256.78" cy="611.50" r="1.35"/><circle cx="257.95" cy="611.50" r="1.35"/><circle cx="259.11" cy="611.49" r="1.35"/><circle cx="260.27" cy="611.49" r="1.35"/><circle cx="261.43" cy="611.48" r="1.35"/><circle cx="262.59" cy="611.48" r="1.35"/><circle cx="263.75" cy="611.47" r="1.35"/><circle cx="264.92" cy="611.47" r="1.35"/><circle cx="266.08" cy="611.46" r="1.35"/><circle cx="267.24" cy="611.45" r="1.35"/><circle cx="268.40" cy="611.44" r="1.35"/><circle cx="269.56" cy="611.43" r="1.35"/><circle cx="270.72" cy="611.41" r="1.35"/><circle cx="271.89" cy="611.40" r="1.35"/><circle cx="273.05" cy="611.39" r="1.35"/><circle cx="274.21" cy="611.37" r="1.35"/><circle cx="275.37" cy="611.35" r="1.35"/><circle cx="276.53" cy="611.33" r="1.35"/><circle cx="277.69" cy="611.31" r="1.35"/><circle cx="278.86" cy="611.29" r="1.35"/><circle cx="280.02" cy="611.27" r="1.35"/><circle cx="281.18" cy="611.24" r="1.35"/><circle cx="282.34" cy="611.22" r="1.35"/><circle cx="283.50" cy="611.19" r="1.35"/><circle cx="284.66" cy="611.16" r="1.35"/><circle cx="285.83" cy="611.13" r="1.35"/><circle cx="286.99" cy="611.09" r="1.35"/><circle cx="288.15" cy="611.06" r="1.35"/><circle cx="289.31" cy="611.02" r="1.35"/><circle cx="290.47" cy="610.97" r="1.35"/><circle cx="291.63" cy="610.77" r="1.35"/><circle cx="292.80" cy="610.40" r="1.35"/><circle cx="293.96" cy="609.86" r="1.35"/><circle cx="295.12" cy="609.15" r="1.35"/><circle cx="296.28" cy="608.28" r="1.35"/><circle cx="297.44" cy="607.25" r="1.35"/><circle cx="298.60" cy="605.30" r="1.35"/><circle cx="299.77" cy="602.31" r="1.35"/><circle cx="300.93" cy="597.94" r="1.35"/><circle cx="302.09" cy="591.97" r="1.35"/><circle cx="303.25" cy="586.98" r="1.35"/><circle cx="304.41" cy="576.54" r="1.35"/><circle cx="305.57" cy="567.11" r="1.35"/><circle cx="306.74" cy="558.89" r="1.35"/><circle cx="307.90" cy="555.05" r="1.35"/><circle cx="309.06" cy="559.90" r="1.35"/><circle cx="310.22" cy="567.30" r="1.35"/><circle cx="311.38" cy="575.13" r="1.35"/><circle cx="312.54" cy="582.15" r="1.35"/><circle cx="313.71" cy="590.16" r="1.35"/><circle cx="314.87" cy="595.05" r="1.35"/><circle cx="316.03" cy="598.67" r="1.35"/><circle cx="317.19" cy="601.55" r="1.35"/><circle cx="318.35" cy="604.18" r="1.35"/><circle cx="319.51" cy="605.93" r="1.35"/><circle cx="320.68" cy="607.05" r="1.35"/><circle cx="321.84" cy="607.98" r="1.35"/><circle cx="323.00" cy="608.72" r="1.35"/><circle cx="324.16" cy="609.25" r="1.35"/><circle cx="325.32" cy="609.57" r="1.35"/><circle cx="326.48" cy="609.82" r="1.35"/><circle cx="327.65" cy="610.05" r="1.35"/><circle cx="328.81" cy="610.24" r="1.35"/><circle cx="329.97" cy="610.41" r="1.35"/><circle cx="331.13" cy="610.55" r="1.35"/><circle cx="332.29" cy="610.66" r="1.35"/><circle cx="333.45" cy="610.74" r="1.35"/><circle cx="334.62" cy="610.79" r="1.35"/><circle cx="335.78" cy="610.82" r="1.35"/><circle cx="336.94" cy="610.84" r="1.35"/><circle cx="338.10" cy="610.86" r="1.35"/><circle cx="339.26" cy="610.88" r="1.35"/><circle cx="340.42" cy="610.90" r="1.35"/><circle cx="341.59" cy="610.92" r="1.35"/><circle cx="342.75" cy="610.94" r="1.35"/><circle cx="343.91" cy="610.96" r="1.35"/><circle cx="345.07" cy="610.98" r="1.35"/><circle cx="346.23" cy="611.00" r="1.35"/><circle cx="347.39" cy="611.01" r="1.35"/><circle cx="348.56" cy="611.03" r="1.35"/><circle cx="349.72" cy="611.05" r="1.35"/><circle cx="350.88" cy="611.06" r="1.35"/><circle cx="352.04" cy="611.08" r="1.35"/><circle cx="353.20" cy="611.09" r="1.35"/><circle cx="354.36" cy="611.10" r="1.35"/><circle cx="355.53" cy="611.12" r="1.35"/><circle cx="356.69" cy="611.13" r="1.35"/><circle cx="357.85" cy="611.14" r="1.35"/><circle cx="359.01" cy="611.15" r="1.35"/><circle cx="360.17" cy="611.17" r="1.35"/><circle cx="361.33" cy="611.18" r="1.35"/><circle cx="362.50" cy="611.19" r="1.35"/><circle cx="363.66" cy="611.19" r="1.35"/><circle cx="364.82" cy="611.20" r="1.35"/><circle cx="365.98" cy="611.21" r="1.35"/><circle cx="367.14" cy="611.22" r="1.35"/><circle cx="368.30" cy="611.23" r="1.35"/><circle cx="369.47" cy="611.24" r="1.35"/><circle cx="370.63" cy="611.24" r="1.35"/><circle cx="371.79" cy="611.25" r="1.35"/><circle cx="372.95" cy="611.25" r="1.35"/><circle cx="374.11" cy="611.26" r="1.35"/><circle cx="375.27" cy="611.27" r="1.35"/><circle cx="376.44" cy="611.27" r="1.35"/><circle cx="377.60" cy="611.27" r="1.35"/><circle cx="378.76" cy="611.28" r="1.35"/><circle cx="379.92" cy="611.28" r="1.35"/><circle cx="381.08" cy="611.28" r="1.35"/><circle cx="382.24" cy="611.29" r="1.35"/><circle cx="383.41" cy="611.29" r="1.35"/><circle cx="384.57" cy="611.29" r="1.35"/><circle cx="385.73" cy="611.29" r="1.35"/><circle cx="386.89" cy="611.30" r="1.35"/><circle cx="388.05" cy="611.30" r="1.35"/><circle cx="389.21" cy="611.30" r="1.35"/><circle cx="390.38" cy="611.30" r="1.35"/><circle cx="391.54" cy="611.30" r="1.35"/><circle cx="392.70" cy="611.30" r="1.35"/></g>
<line x1="450.3" y1="25.5" x2="450.3" y2="120.5" stroke="#000" stroke-width="1.3"/>
<line x1="446.8" y1="116.00" x2="450.3" y2="116.00" stroke="#000" stroke-width="1.2"/>
<text transform="translate(443.30,119.10) scale(0.92,1)" font-family="Liberation Sans" font-size="9" fill="#3a3a3a" stroke="#3a3a3a" stroke-width="0.18" text-anchor="end">0</text>
<line x1="446.8" y1="72.00" x2="450.3" y2="72.00" stroke="#000" stroke-width="1.2"/>
<text transform="translate(443.30,75.10) scale(0.92,1)" font-family="Liberation Sans" font-size="9" fill="#3a3a3a" stroke="#3a3a3a" stroke-width="0.18" text-anchor="end">50</text>
<line x1="446.8" y1="28.00" x2="450.3" y2="28.00" stroke="#000" stroke-width="1.2"/>
<text transform="translate(443.30,31.10) scale(0.92,1)" font-family="Liberation Sans" font-size="9" fill="#3a3a3a" stroke="#3a3a3a" stroke-width="0.18" text-anchor="end">100</text>
<line x1="449.7" y1="120.5" x2="512.6" y2="120.5" stroke="#000" stroke-width="1.3"/>
<line x1="465.6" y1="120.5" x2="465.6" y2="123.5" stroke="#000" stroke-width="1.2"/>
<line x1="496.7" y1="120.5" x2="496.7" y2="123.5" stroke="#000" stroke-width="1.2"/>
<text transform="translate(467.8,131.5) rotate(-45) scale(0.8,1)" font-family="Liberation Sans" font-size="10" fill="#222" stroke="#222" stroke-width="0.25" text-anchor="end">Controls</text>
<text transform="translate(499.2,131.0) rotate(-45) scale(0.8,1)" font-family="Liberation Sans" font-size="10" fill="#222" stroke="#222" stroke-width="0.25" text-anchor="end">APS</text>
<text transform="translate(423.30,73.00) rotate(-90) scale(0.67,1)" font-family="Liberation Sans" font-size="10" font-weight="bold" fill="#222" text-anchor="middle">Inhibition of peak (%)</text>
<g fill="#222"><circle cx="490.70" cy="32.1" r="1.0"/><circle cx="493.80" cy="32.1" r="1.0"/><circle cx="496.90" cy="32.1" r="1.0"/></g>
<g fill="#fff" stroke="#8e1438" stroke-width="1.2"><circle cx="461.20" cy="51.00" r="1.3"/><circle cx="465.40" cy="51.00" r="1.3"/><circle cx="469.50" cy="51.00" r="1.3"/><circle cx="465.40" cy="57.50" r="1.3"/><circle cx="469.50" cy="56.30" r="1.3"/><circle cx="469.50" cy="59.50" r="1.3"/><circle cx="459.00" cy="61.80" r="1.3"/><circle cx="463.00" cy="61.80" r="1.3"/><circle cx="467.50" cy="61.80" r="1.3"/><circle cx="472.00" cy="61.80" r="1.3"/><circle cx="456.50" cy="64.20" r="1.3"/><circle cx="460.50" cy="64.20" r="1.3"/><circle cx="464.50" cy="64.20" r="1.3"/><circle cx="468.50" cy="64.20" r="1.3"/><circle cx="472.50" cy="64.20" r="1.3"/><circle cx="475.00" cy="64.20" r="1.3"/><circle cx="455.50" cy="66.60" r="1.3"/><circle cx="459.50" cy="66.60" r="1.3"/><circle cx="463.50" cy="66.60" r="1.3"/><circle cx="467.50" cy="66.60" r="1.3"/><circle cx="471.50" cy="66.60" r="1.3"/><circle cx="475.50" cy="66.60" r="1.3"/><circle cx="455.00" cy="69.00" r="1.3"/><circle cx="459.00" cy="69.00" r="1.3"/><circle cx="463.00" cy="69.00" r="1.3"/><circle cx="467.00" cy="69.00" r="1.3"/><circle cx="471.00" cy="69.00" r="1.3"/><circle cx="476.00" cy="69.00" r="1.3"/><circle cx="456.00" cy="71.50" r="1.3"/><circle cx="460.00" cy="71.50" r="1.3"/><circle cx="464.00" cy="71.50" r="1.3"/><circle cx="468.00" cy="71.50" r="1.3"/><circle cx="472.00" cy="71.50" r="1.3"/><circle cx="475.50" cy="71.50" r="1.3"/><circle cx="456.50" cy="74.00" r="1.3"/><circle cx="460.50" cy="74.00" r="1.3"/><circle cx="464.50" cy="74.00" r="1.3"/><circle cx="468.50" cy="74.00" r="1.3"/><circle cx="473.00" cy="74.00" r="1.3"/><circle cx="457.00" cy="76.30" r="1.3"/><circle cx="461.00" cy="76.30" r="1.3"/><circle cx="469.00" cy="76.30" r="1.3"/><circle cx="473.00" cy="76.30" r="1.3"/><circle cx="461.30" cy="79.60" r="1.3"/><circle cx="465.40" cy="80.20" r="1.3"/><circle cx="470.00" cy="83.80" r="1.3"/><circle cx="465.40" cy="87.00" r="1.3"/><circle cx="461.20" cy="91.20" r="1.3"/><circle cx="465.40" cy="93.00" r="1.3"/><circle cx="465.40" cy="98.40" r="1.3"/></g>
<line x1="454.8" y1="69.5" x2="476.2" y2="69.5" stroke="#8e1438" stroke-width="1.4"/>
<g fill="#6e0f2c"><circle cx="496.70" cy="95.20" r="1.35"/><circle cx="492.10" cy="98.70" r="1.35"/><circle cx="496.70" cy="100.40" r="1.35"/><circle cx="500.80" cy="100.10" r="1.35"/><circle cx="488.10" cy="102.10" r="1.35"/><circle cx="505.10" cy="102.10" r="1.35"/><circle cx="492.10" cy="103.80" r="1.35"/><circle cx="500.80" cy="103.60" r="1.35"/><circle cx="496.70" cy="105.00" r="1.35"/><circle cx="503.10" cy="105.60" r="1.35"/><circle cx="488.10" cy="107.00" r="1.35"/><circle cx="494.10" cy="108.00" r="1.35"/><circle cx="498.70" cy="108.00" r="1.35"/><circle cx="505.10" cy="107.50" r="1.35"/><circle cx="488.10" cy="111.90" r="1.35"/><circle cx="494.10" cy="111.40" r="1.35"/><circle cx="499.00" cy="111.60" r="1.35"/><circle cx="505.10" cy="111.90" r="1.35"/><circle cx="492.10" cy="113.70" r="1.35"/><circle cx="496.70" cy="114.20" r="1.35"/><circle cx="500.80" cy="113.70" r="1.35"/><circle cx="488.10" cy="116.50" r="1.35"/><circle cx="492.10" cy="117.10" r="1.35"/><circle cx="496.70" cy="118.90" r="1.35"/><circle cx="500.80" cy="118.30" r="1.35"/><circle cx="505.10" cy="117.10" r="1.35"/><circle cx="496.70" cy="115.40" r="1.35"/><circle cx="490.50" cy="109.50" r="1.35"/><circle cx="502.50" cy="109.50" r="1.35"/></g>
<line x1="486.3" y1="108.5" x2="507.7" y2="108.5" stroke="#6e0f2c" stroke-width="1.4"/>
<line x1="496.7" y1="103.3" x2="496.7" y2="114" stroke="#6e0f2c" stroke-width="0.8"/>
<line x1="492.5" y1="103.3" x2="501" y2="103.3" stroke="#b07080" stroke-width="0.8"/>
<line x1="492.5" y1="114" x2="501" y2="114" stroke="#b07080" stroke-width="0.8"/>
<line x1="450.3" y1="194.39999999999998" x2="450.3" y2="289.4" stroke="#000" stroke-width="1.3"/>
<line x1="446.8" y1="284.90" x2="450.3" y2="284.90" stroke="#000" stroke-width="1.2"/>
<text transform="translate(443.30,288.00) scale(0.92,1)" font-family="Liberation Sans" font-size="9" fill="#3a3a3a" stroke="#3a3a3a" stroke-width="0.18" text-anchor="end">0</text>
<line x1="446.8" y1="240.90" x2="450.3" y2="240.90" stroke="#000" stroke-width="1.2"/>
<text transform="translate(443.30,244.00) scale(0.92,1)" font-family="Liberation Sans" font-size="9" fill="#3a3a3a" stroke="#3a3a3a" stroke-width="0.18" text-anchor="end">50</text>
<line x1="446.8" y1="196.90" x2="450.3" y2="196.90" stroke="#000" stroke-width="1.2"/>
<text transform="translate(443.30,200.00) scale(0.92,1)" font-family="Liberation Sans" font-size="9" fill="#3a3a3a" stroke="#3a3a3a" stroke-width="0.18" text-anchor="end">100</text>
<line x1="449.7" y1="289.4" x2="512.6" y2="289.4" stroke="#000" stroke-width="1.3"/>
<line x1="465.6" y1="289.4" x2="465.6" y2="292.4" stroke="#000" stroke-width="1.2"/>
<line x1="496.7" y1="289.4" x2="496.7" y2="292.4" stroke="#000" stroke-width="1.2"/>
<text transform="translate(467.8,300.4) rotate(-45) scale(0.8,1)" font-family="Liberation Sans" font-size="10" fill="#222" stroke="#222" stroke-width="0.25" text-anchor="end">Controls</text>
<text transform="translate(499.2,299.9) rotate(-45) scale(0.8,1)" font-family="Liberation Sans" font-size="10" fill="#222" stroke="#222" stroke-width="0.25" text-anchor="end">APS</text>
<text transform="translate(423.30,241.90) rotate(-90) scale(0.685,1)" font-family="Liberation Sans" font-size="10" font-weight="bold" fill="#222" text-anchor="middle">Inhibition of PCmax (%)</text>
<g fill="#222"><circle cx="494.20" cy="207.6" r="1.0"/><circle cx="497.30" cy="207.6" r="1.0"/><circle cx="500.40" cy="207.6" r="1.0"/></g>
<g fill="#fff" stroke="#8e1438" stroke-width="1.2"><circle cx="461.20" cy="218.40" r="1.3"/><circle cx="465.30" cy="220.30" r="1.3"/><circle cx="469.70" cy="223.60" r="1.3"/><circle cx="465.30" cy="225.80" r="1.3"/><circle cx="456.80" cy="228.40" r="1.3"/><circle cx="461.20" cy="228.40" r="1.3"/><circle cx="465.30" cy="228.40" r="1.3"/><circle cx="469.70" cy="228.40" r="1.3"/><circle cx="473.80" cy="228.40" r="1.3"/><circle cx="459.00" cy="231.00" r="1.3"/><circle cx="463.00" cy="231.00" r="1.3"/><circle cx="467.50" cy="231.00" r="1.3"/><circle cx="472.00" cy="231.00" r="1.3"/><circle cx="456.80" cy="233.60" r="1.3"/><circle cx="461.00" cy="233.60" r="1.3"/><circle cx="465.50" cy="233.60" r="1.3"/><circle cx="470.00" cy="233.60" r="1.3"/><circle cx="474.50" cy="233.60" r="1.3"/><circle cx="455.00" cy="236.20" r="1.3"/><circle cx="459.00" cy="236.20" r="1.3"/><circle cx="463.00" cy="236.20" r="1.3"/><circle cx="467.00" cy="236.20" r="1.3"/><circle cx="471.00" cy="236.20" r="1.3"/><circle cx="475.50" cy="236.20" r="1.3"/><circle cx="457.00" cy="238.60" r="1.3"/><circle cx="461.00" cy="238.60" r="1.3"/><circle cx="465.50" cy="238.60" r="1.3"/><circle cx="470.00" cy="238.60" r="1.3"/><circle cx="474.00" cy="238.60" r="1.3"/><circle cx="456.80" cy="241.30" r="1.3"/><circle cx="461.20" cy="241.30" r="1.3"/><circle cx="465.30" cy="241.30" r="1.3"/><circle cx="469.70" cy="241.30" r="1.3"/><circle cx="474.00" cy="241.30" r="1.3"/><circle cx="465.30" cy="243.20" r="1.3"/><circle cx="469.70" cy="243.20" r="1.3"/><circle cx="461.20" cy="248.70" r="1.3"/><circle cx="465.30" cy="248.70" r="1.3"/><circle cx="461.20" cy="252.80" r="1.3"/><circle cx="465.30" cy="254.30" r="1.3"/><circle cx="469.70" cy="252.80" r="1.3"/><circle cx="465.30" cy="258.70" r="1.3"/><circle cx="465.50" cy="271.60" r="1.3"/></g>
<line x1="455" y1="237.6" x2="476" y2="237.6" stroke="#8e1438" stroke-width="1.4"/>
<g fill="#6e0f2c"><circle cx="492.20" cy="263.00" r="1.35"/><circle cx="496.20" cy="264.50" r="1.35"/><circle cx="487.90" cy="266.10" r="1.35"/><circle cx="504.80" cy="266.10" r="1.35"/><circle cx="492.20" cy="268.20" r="1.35"/><circle cx="492.20" cy="269.50" r="1.35"/><circle cx="500.50" cy="269.50" r="1.35"/><circle cx="492.20" cy="271.30" r="1.35"/><circle cx="496.50" cy="271.50" r="1.35"/><circle cx="489.80" cy="275.30" r="1.35"/><circle cx="502.70" cy="275.30" r="1.35"/><circle cx="488.00" cy="277.50" r="1.35"/><circle cx="492.50" cy="277.00" r="1.35"/><circle cx="497.00" cy="277.50" r="1.35"/><circle cx="500.50" cy="277.00" r="1.35"/><circle cx="505.00" cy="278.00" r="1.35"/><circle cx="487.90" cy="281.20" r="1.35"/><circle cx="492.20" cy="280.50" r="1.35"/><circle cx="500.80" cy="280.50" r="1.35"/><circle cx="492.20" cy="283.00" r="1.35"/><circle cx="496.50" cy="283.00" r="1.35"/><circle cx="500.80" cy="283.00" r="1.35"/><circle cx="504.80" cy="285.50" r="1.35"/><circle cx="492.20" cy="287.00" r="1.35"/><circle cx="496.50" cy="287.50" r="1.35"/><circle cx="500.80" cy="287.00" r="1.35"/></g>
<line x1="486.1" y1="277.5" x2="507.6" y2="277.5" stroke="#6e0f2c" stroke-width="1.4"/>
<line x1="496.6" y1="269.5" x2="496.6" y2="283" stroke="#6e0f2c" stroke-width="0.8"/>
<line x1="491.6" y1="269.5" x2="501.5" y2="269.5" stroke="#b07080" stroke-width="0.8"/>
<line x1="491.6" y1="283" x2="501.5" y2="283" stroke="#b07080" stroke-width="0.8"/>
<line x1="450.3" y1="352.7" x2="450.3" y2="447.7" stroke="#000" stroke-width="1.3"/>
<line x1="446.8" y1="443.20" x2="450.3" y2="443.20" stroke="#000" stroke-width="1.2"/>
<text transform="translate(443.30,446.30) scale(0.92,1)" font-family="Liberation Sans" font-size="9" fill="#3a3a3a" stroke="#3a3a3a" stroke-width="0.18" text-anchor="end">0</text>
<line x1="446.8" y1="399.20" x2="450.3" y2="399.20" stroke="#000" stroke-width="1.2"/>
<text transform="translate(443.30,402.30) scale(0.92,1)" font-family="Liberation Sans" font-size="9" fill="#3a3a3a" stroke="#3a3a3a" stroke-width="0.18" text-anchor="end">50</text>
<line x1="446.8" y1="355.20" x2="450.3" y2="355.20" stroke="#000" stroke-width="1.2"/>
<text transform="translate(443.30,358.30) scale(0.92,1)" font-family="Liberation Sans" font-size="9" fill="#3a3a3a" stroke="#3a3a3a" stroke-width="0.18" text-anchor="end">100</text>
<line x1="449.7" y1="447.7" x2="512.6" y2="447.7" stroke="#000" stroke-width="1.3"/>
<line x1="465.6" y1="447.7" x2="465.6" y2="450.7" stroke="#000" stroke-width="1.2"/>
<line x1="496.7" y1="447.7" x2="496.7" y2="450.7" stroke="#000" stroke-width="1.2"/>
<text transform="translate(467.8,458.7) rotate(-45) scale(0.8,1)" font-family="Liberation Sans" font-size="10" fill="#222" stroke="#222" stroke-width="0.25" text-anchor="end">Controls</text>
<text transform="translate(499.2,458.2) rotate(-45) scale(0.8,1)" font-family="Liberation Sans" font-size="10" fill="#222" stroke="#222" stroke-width="0.25" text-anchor="end">APS</text>
<text transform="translate(423.30,400.20) rotate(-90) scale(0.67,1)" font-family="Liberation Sans" font-size="10" font-weight="bold" fill="#222" text-anchor="middle">Inhibition of peak (%)</text>
<g fill="#222"><circle cx="494.50" cy="359.4" r="1.0"/><circle cx="497.60" cy="359.4" r="1.0"/><circle cx="500.70" cy="359.4" r="1.0"/></g>
<g fill="#fff" stroke="#243d6c" stroke-width="1.2"><circle cx="461.00" cy="386.00" r="1.35"/><circle cx="465.50" cy="387.00" r="1.35"/><circle cx="465.50" cy="395.00" r="1.35"/><circle cx="457.00" cy="398.50" r="1.35"/><circle cx="469.80" cy="398.80" r="1.35"/><circle cx="474.00" cy="398.30" r="1.35"/><circle cx="461.50" cy="400.00" r="1.35"/><circle cx="461.50" cy="403.00" r="1.35"/><circle cx="469.80" cy="404.00" r="1.35"/><circle cx="465.50" cy="406.50" r="1.35"/><circle cx="465.50" cy="410.00" r="1.35"/><circle cx="461.00" cy="413.00" r="1.35"/><circle cx="469.50" cy="414.50" r="1.35"/><circle cx="457.50" cy="418.00" r="1.35"/><circle cx="461.50" cy="418.00" r="1.35"/><circle cx="465.50" cy="418.00" r="1.35"/><circle cx="469.50" cy="418.00" r="1.35"/><circle cx="473.50" cy="418.00" r="1.35"/><circle cx="461.00" cy="420.50" r="1.35"/><circle cx="469.50" cy="420.50" r="1.35"/><circle cx="461.00" cy="424.00" r="1.35"/><circle cx="469.50" cy="423.80" r="1.35"/><circle cx="465.50" cy="426.50" r="1.35"/><circle cx="457.50" cy="431.00" r="1.35"/><circle cx="465.50" cy="432.00" r="1.35"/><circle cx="469.50" cy="430.00" r="1.35"/><circle cx="465.50" cy="439.00" r="1.35"/></g>
<line x1="454.7" y1="418.1" x2="476.3" y2="418.1" stroke="#243d6c" stroke-width="1.5"/>
<line x1="465.5" y1="401" x2="465.5" y2="418.1" stroke="#243d6c" stroke-width="1.2"/>
<line x1="461.5" y1="401" x2="469.5" y2="401" stroke="#243d6c" stroke-width="1.2"/>
<g fill="#1f3560"><circle cx="496.50" cy="392.00" r="1.35"/><circle cx="500.80" cy="405.50" r="1.35"/><circle cx="496.50" cy="409.00" r="1.35"/><circle cx="492.20" cy="413.30" r="1.35"/><circle cx="496.50" cy="415.00" r="1.35"/><circle cx="492.20" cy="419.50" r="1.35"/><circle cx="496.50" cy="421.00" r="1.35"/><circle cx="500.80" cy="420.50" r="1.35"/><circle cx="488.00" cy="422.30" r="1.35"/><circle cx="505.00" cy="422.30" r="1.35"/><circle cx="492.20" cy="425.50" r="1.35"/><circle cx="500.80" cy="425.50" r="1.35"/><circle cx="488.00" cy="427.30" r="1.35"/><circle cx="505.00" cy="427.30" r="1.35"/><circle cx="492.20" cy="429.00" r="1.35"/><circle cx="496.50" cy="429.50" r="1.35"/><circle cx="500.80" cy="429.00" r="1.35"/><circle cx="488.00" cy="432.00" r="1.35"/><circle cx="492.20" cy="434.00" r="1.35"/><circle cx="496.50" cy="434.00" r="1.35"/><circle cx="500.80" cy="434.00" r="1.35"/><circle cx="505.00" cy="432.00" r="1.35"/><circle cx="490.00" cy="436.50" r="1.35"/><circle cx="496.50" cy="437.00" r="1.35"/><circle cx="503.00" cy="436.50" r="1.35"/><circle cx="488.00" cy="439.50" r="1.35"/><circle cx="492.20" cy="440.00" r="1.35"/><circle cx="500.80" cy="440.00" r="1.35"/><circle cx="505.00" cy="439.50" r="1.35"/><circle cx="492.20" cy="441.80" r="1.35"/><circle cx="496.50" cy="443.00" r="1.35"/><circle cx="492.20" cy="445.00" r="1.35"/><circle cx="500.80" cy="445.50" r="1.35"/><circle cx="505.00" cy="445.00" r="1.35"/><circle cx="496.50" cy="441.00" r="1.35"/></g>
<line x1="486" y1="434" x2="507.5" y2="434" stroke="#1f3560" stroke-width="1.5"/>
<line x1="496.5" y1="425.5" x2="496.5" y2="445" stroke="#1f3560" stroke-width="1.1"/>
<line x1="492" y1="425.5" x2="501" y2="425.5" stroke="#1f3560" stroke-width="1.1"/>
<line x1="450.3" y1="517.0" x2="450.3" y2="612.0" stroke="#000" stroke-width="1.3"/>
<line x1="446.8" y1="607.50" x2="450.3" y2="607.50" stroke="#000" stroke-width="1.2"/>
<text transform="translate(443.30,610.60) scale(0.92,1)" font-family="Liberation Sans" font-size="9" fill="#3a3a3a" stroke="#3a3a3a" stroke-width="0.18" text-anchor="end">0</text>
<line x1="446.8" y1="563.50" x2="450.3" y2="563.50" stroke="#000" stroke-width="1.2"/>
<text transform="translate(443.30,566.60) scale(0.92,1)" font-family="Liberation Sans" font-size="9" fill="#3a3a3a" stroke="#3a3a3a" stroke-width="0.18" text-anchor="end">50</text>
<line x1="446.8" y1="519.50" x2="450.3" y2="519.50" stroke="#000" stroke-width="1.2"/>
<text transform="translate(443.30,522.60) scale(0.92,1)" font-family="Liberation Sans" font-size="9" fill="#3a3a3a" stroke="#3a3a3a" stroke-width="0.18" text-anchor="end">100</text>
<line x1="449.7" y1="612.0" x2="512.6" y2="612.0" stroke="#000" stroke-width="1.3"/>
<line x1="465.6" y1="612.0" x2="465.6" y2="615.0" stroke="#000" stroke-width="1.2"/>
<line x1="496.7" y1="612.0" x2="496.7" y2="615.0" stroke="#000" stroke-width="1.2"/>
<text transform="translate(467.8,623.0) rotate(-45) scale(0.8,1)" font-family="Liberation Sans" font-size="10" fill="#222" stroke="#222" stroke-width="0.25" text-anchor="end">Controls</text>
<text transform="translate(499.2,622.5) rotate(-45) scale(0.8,1)" font-family="Liberation Sans" font-size="10" fill="#222" stroke="#222" stroke-width="0.25" text-anchor="end">APS</text>
<text transform="translate(423.30,564.50) rotate(-90) scale(0.685,1)" font-family="Liberation Sans" font-size="10" font-weight="bold" fill="#222" text-anchor="middle">Inhibition of PCmax (%)</text>
<g fill="#222"><circle cx="495.40" cy="531.8" r="1.0"/><circle cx="498.50" cy="531.8" r="1.0"/><circle cx="501.60" cy="531.8" r="1.0"/></g>
<g fill="#fff" stroke="#243d6c" stroke-width="1.2"><circle cx="465.70" cy="552.20" r="1.35"/><circle cx="460.80" cy="560.20" r="1.35"/><circle cx="465.40" cy="562.50" r="1.35"/><circle cx="470.00" cy="562.80" r="1.35"/><circle cx="457.10" cy="570.00" r="1.35"/><circle cx="470.00" cy="569.50" r="1.35"/><circle cx="461.20" cy="572.50" r="1.35"/><circle cx="465.50" cy="572.20" r="1.35"/><circle cx="465.50" cy="576.90" r="1.35"/><circle cx="457.10" cy="578.20" r="1.35"/><circle cx="461.20" cy="580.50" r="1.35"/><circle cx="470.00" cy="579.60" r="1.35"/><circle cx="465.50" cy="581.50" r="1.35"/><circle cx="457.00" cy="586.00" r="1.35"/><circle cx="461.00" cy="586.00" r="1.35"/><circle cx="465.50" cy="586.00" r="1.35"/><circle cx="470.00" cy="586.00" r="1.35"/><circle cx="474.00" cy="586.00" r="1.35"/><circle cx="459.00" cy="589.00" r="1.35"/><circle cx="463.00" cy="589.00" r="1.35"/><circle cx="467.50" cy="589.00" r="1.35"/><circle cx="472.00" cy="589.00" r="1.35"/><circle cx="455.50" cy="589.00" r="1.35"/><circle cx="475.50" cy="589.00" r="1.35"/><circle cx="457.00" cy="592.00" r="1.35"/><circle cx="461.20" cy="592.00" r="1.35"/><circle cx="465.50" cy="592.00" r="1.35"/><circle cx="470.00" cy="592.00" r="1.35"/><circle cx="474.00" cy="592.00" r="1.35"/><circle cx="465.50" cy="598.60" r="1.35"/><circle cx="461.50" cy="594.50" r="1.35"/><circle cx="469.50" cy="594.50" r="1.35"/></g>
<line x1="454.3" y1="584.2" x2="475.5" y2="584.2" stroke="#243d6c" stroke-width="1.5"/>
<line x1="465.5" y1="572.3" x2="465.5" y2="584.2" stroke="#243d6c" stroke-width="1.2"/>
<line x1="461.2" y1="572.3" x2="470" y2="572.3" stroke="#243d6c" stroke-width="1.2"/>
<g fill="#1f3560"><circle cx="496.50" cy="559.50" r="1.35"/><circle cx="492.20" cy="566.50" r="1.35"/><circle cx="496.50" cy="569.00" r="1.35"/><circle cx="500.80" cy="579.70" r="1.35"/><circle cx="496.50" cy="581.50" r="1.35"/><circle cx="505.00" cy="583.00" r="1.35"/><circle cx="488.00" cy="585.00" r="1.35"/><circle cx="492.20" cy="585.50" r="1.35"/><circle cx="500.80" cy="585.50" r="1.35"/><circle cx="488.00" cy="589.30" r="1.35"/><circle cx="492.20" cy="590.00" r="1.35"/><circle cx="500.80" cy="590.00" r="1.35"/><circle cx="505.00" cy="590.50" r="1.35"/><circle cx="496.50" cy="593.00" r="1.35"/><circle cx="505.00" cy="594.50" r="1.35"/><circle cx="488.00" cy="595.50" r="1.35"/><circle cx="492.20" cy="596.50" r="1.35"/><circle cx="500.80" cy="596.50" r="1.35"/><circle cx="488.00" cy="602.00" r="1.35"/><circle cx="492.20" cy="602.00" r="1.35"/><circle cx="500.80" cy="602.00" r="1.35"/><circle cx="505.00" cy="602.50" r="1.35"/><circle cx="488.00" cy="605.00" r="1.35"/><circle cx="492.20" cy="604.50" r="1.35"/><circle cx="500.80" cy="604.50" r="1.35"/><circle cx="492.20" cy="607.00" r="1.35"/><circle cx="496.50" cy="607.00" r="1.35"/><circle cx="488.00" cy="609.80" r="1.35"/><circle cx="496.50" cy="610.00" r="1.35"/><circle cx="505.00" cy="610.50" r="1.35"/></g>
<line x1="486" y1="599.5" x2="507.5" y2="599.5" stroke="#1f3560" stroke-width="1.5"/>
<line x1="496.5" y1="585.5" x2="496.5" y2="608" stroke="#1f3560" stroke-width="1.1"/>
<line x1="492" y1="585.5" x2="501" y2="585.5" stroke="#1f3560" stroke-width="1.1"/>
</g>
<rect x="0" y="0" width="520" height="1.4" fill="#000"/><rect x="0" y="0" width="1.4" height="650" fill="#000"/><rect x="518.4" y="0" width="1.6" height="650" fill="#000"/><rect x="0" y="647.9" width="520" height="2.1" fill="#000"/>
</svg></body></html>
